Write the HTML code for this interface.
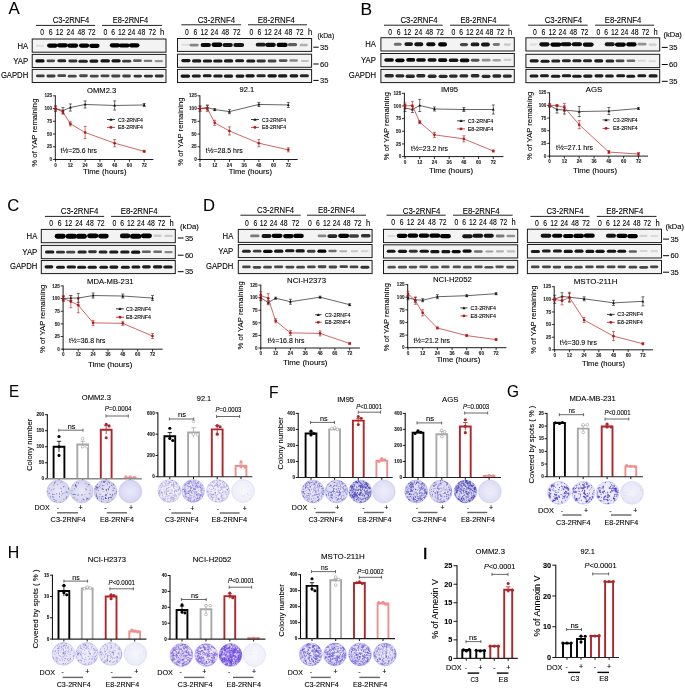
<!DOCTYPE html>
<html><head><meta charset="utf-8"><style>
html,body{margin:0;padding:0;background:#fff;}
svg{display:block;will-change:transform;}
text{font-family:"Liberation Sans", sans-serif;stroke:#000;stroke-width:0.1px;}
</style></head><body>
<svg width="685" height="688" viewBox="0 0 685 688">
<defs><radialGradient id="pg"><stop offset="0" stop-color="#fff" stop-opacity="0.5"/><stop offset="0.65" stop-color="#fff" stop-opacity="0.22"/><stop offset="1" stop-color="#fff" stop-opacity="0"/></radialGradient><filter id="bl" x="-30%" y="-80%" width="160%" height="260%"><feGaussianBlur stdDeviation="0.75"/></filter></defs>
<rect width="685" height="688" fill="#fff"/>
<text x="14.10" y="13.97" font-size="16.86" text-anchor="middle" textLength="11.20" lengthAdjust="spacingAndGlyphs">A</text>
<text x="366.20" y="15.17" font-size="17.14" text-anchor="middle" textLength="11.60" lengthAdjust="spacingAndGlyphs">B</text>
<text x="13.20" y="211.37" font-size="17.14" text-anchor="middle" textLength="12.00" lengthAdjust="spacingAndGlyphs">C</text>
<text x="209.00" y="211.37" font-size="17.14" text-anchor="middle" textLength="12.00" lengthAdjust="spacingAndGlyphs">D</text>
<text x="14.10" y="397.47" font-size="17.14" text-anchor="middle" textLength="10.20" lengthAdjust="spacingAndGlyphs">E</text>
<text x="273.75" y="397.67" font-size="17.14" text-anchor="middle" textLength="9.50" lengthAdjust="spacingAndGlyphs">F</text>
<text x="513.00" y="397.47" font-size="17.14" text-anchor="middle" textLength="12.00" lengthAdjust="spacingAndGlyphs">G</text>
<text x="13.45" y="558.26" font-size="16.43" text-anchor="middle" textLength="11.50" lengthAdjust="spacingAndGlyphs">H</text>
<rect x="424.20" y="547.70" width="2.10" height="11.50" fill="#000" stroke="none" stroke-width="1"/>
<rect x="32.20" y="39.00" width="133.80" height="13.20" fill="#f3f3f3" stroke="#1a1a1a" stroke-width="1"/>
<rect x="35.71" y="44.71" width="8.39" height="2.09" rx="1.05" fill="rgb(222,222,222)" filter="url(#bl)"/>
<rect x="47.08" y="43.48" width="10.66" height="4.18" rx="2.09" fill="rgb(4,4,4)" filter="url(#bl)"/>
<rect x="56.91" y="43.21" width="11.03" height="4.30" rx="2.15" fill="rgb(0,0,0)" filter="url(#bl)"/>
<rect x="67.26" y="43.47" width="10.93" height="4.18" rx="2.09" fill="rgb(4,4,4)" filter="url(#bl)"/>
<rect x="78.98" y="43.47" width="10.26" height="4.18" rx="2.09" fill="rgb(4,4,4)" filter="url(#bl)"/>
<rect x="89.16" y="43.77" width="10.44" height="4.18" rx="2.09" fill="rgb(4,4,4)" filter="url(#bl)"/>
<rect x="109.78" y="43.22" width="10.28" height="4.18" rx="2.09" fill="rgb(4,4,4)" filter="url(#bl)"/>
<rect x="118.73" y="43.44" width="11.01" height="4.18" rx="2.09" fill="rgb(4,4,4)" filter="url(#bl)"/>
<rect x="128.85" y="43.20" width="10.65" height="4.23" rx="2.12" fill="rgb(2,2,2)" filter="url(#bl)"/>
<rect x="32.20" y="54.40" width="133.80" height="13.10" fill="#f3f3f3" stroke="#1a1a1a" stroke-width="1"/>
<rect x="35.38" y="59.32" width="9.19" height="3.26" rx="1.63" fill="rgb(11,11,11)" filter="url(#bl)"/>
<rect x="46.51" y="59.40" width="8.54" height="2.77" rx="1.39" fill="rgb(71,71,71)" filter="url(#bl)"/>
<rect x="57.35" y="59.16" width="8.83" height="3.02" rx="1.51" fill="rgb(38,38,38)" filter="url(#bl)"/>
<rect x="68.39" y="59.57" width="8.97" height="2.93" rx="1.47" fill="rgb(49,49,49)" filter="url(#bl)"/>
<rect x="78.45" y="59.66" width="9.39" height="3.02" rx="1.51" fill="rgb(38,38,38)" filter="url(#bl)"/>
<rect x="89.42" y="59.53" width="8.95" height="3.10" rx="1.55" fill="rgb(29,29,29)" filter="url(#bl)"/>
<rect x="100.41" y="59.31" width="9.51" height="3.18" rx="1.59" fill="rgb(19,19,19)" filter="url(#bl)"/>
<rect x="111.42" y="59.24" width="9.30" height="3.18" rx="1.59" fill="rgb(19,19,19)" filter="url(#bl)"/>
<rect x="122.10" y="59.73" width="9.15" height="2.85" rx="1.43" fill="rgb(60,60,60)" filter="url(#bl)"/>
<rect x="133.07" y="59.37" width="8.67" height="2.61" rx="1.30" fill="rgb(95,95,95)" filter="url(#bl)"/>
<rect x="143.66" y="59.67" width="8.68" height="2.45" rx="1.22" fill="rgb(120,120,120)" filter="url(#bl)"/>
<rect x="154.58" y="59.93" width="8.32" height="2.29" rx="1.14" fill="rgb(147,147,147)" filter="url(#bl)"/>
<rect x="32.20" y="69.40" width="133.80" height="13.10" fill="#f3f3f3" stroke="#1a1a1a" stroke-width="1"/>
<rect x="35.97" y="74.49" width="8.74" height="2.85" rx="1.43" fill="rgb(60,60,60)" filter="url(#bl)"/>
<rect x="46.48" y="74.54" width="9.06" height="2.85" rx="1.43" fill="rgb(60,60,60)" filter="url(#bl)"/>
<rect x="57.34" y="74.28" width="8.75" height="2.77" rx="1.39" fill="rgb(71,71,71)" filter="url(#bl)"/>
<rect x="67.77" y="74.85" width="8.92" height="2.77" rx="1.39" fill="rgb(71,71,71)" filter="url(#bl)"/>
<rect x="79.14" y="74.37" width="8.67" height="2.77" rx="1.39" fill="rgb(71,71,71)" filter="url(#bl)"/>
<rect x="89.63" y="74.73" width="9.15" height="2.77" rx="1.39" fill="rgb(71,71,71)" filter="url(#bl)"/>
<rect x="100.49" y="74.39" width="9.08" height="2.80" rx="1.40" fill="rgb(66,66,66)" filter="url(#bl)"/>
<rect x="111.23" y="74.59" width="9.15" height="2.80" rx="1.40" fill="rgb(66,66,66)" filter="url(#bl)"/>
<rect x="122.24" y="74.55" width="8.66" height="2.85" rx="1.43" fill="rgb(60,60,60)" filter="url(#bl)"/>
<rect x="133.50" y="74.65" width="8.52" height="2.93" rx="1.47" fill="rgb(49,49,49)" filter="url(#bl)"/>
<rect x="143.84" y="74.63" width="9.23" height="2.93" rx="1.47" fill="rgb(49,49,49)" filter="url(#bl)"/>
<rect x="154.78" y="74.52" width="8.93" height="2.93" rx="1.47" fill="rgb(49,49,49)" filter="url(#bl)"/>
<text x="70.95" y="23.44" font-size="9.0" text-anchor="middle" textLength="36.50" lengthAdjust="spacingAndGlyphs">C3-2RNF4</text>
<text x="130.55" y="23.44" font-size="9.0" text-anchor="middle" textLength="35.50" lengthAdjust="spacingAndGlyphs">E8-2RNF4</text>
<line x1="35.90" y1="25.40" x2="95.10" y2="25.40" stroke="#222" stroke-width="1.0"/>
<line x1="102.00" y1="25.40" x2="162.10" y2="25.40" stroke="#222" stroke-width="1.0"/>
<text x="42.20" y="35.15" font-size="8.2" text-anchor="middle" textLength="3.80" lengthAdjust="spacingAndGlyphs">0</text>
<text x="50.70" y="35.15" font-size="8.2" text-anchor="middle" textLength="3.80" lengthAdjust="spacingAndGlyphs">6</text>
<text x="59.60" y="35.15" font-size="8.2" text-anchor="middle" textLength="7.60" lengthAdjust="spacingAndGlyphs">12</text>
<text x="70.40" y="35.15" font-size="8.2" text-anchor="middle" textLength="7.60" lengthAdjust="spacingAndGlyphs">24</text>
<text x="81.30" y="35.15" font-size="8.2" text-anchor="middle" textLength="7.60" lengthAdjust="spacingAndGlyphs">48</text>
<text x="91.70" y="35.15" font-size="8.2" text-anchor="middle" textLength="7.60" lengthAdjust="spacingAndGlyphs">72</text>
<text x="105.30" y="35.15" font-size="8.2" text-anchor="middle" textLength="3.80" lengthAdjust="spacingAndGlyphs">0</text>
<text x="113.20" y="35.15" font-size="8.2" text-anchor="middle" textLength="3.80" lengthAdjust="spacingAndGlyphs">6</text>
<text x="121.70" y="35.15" font-size="8.2" text-anchor="middle" textLength="7.60" lengthAdjust="spacingAndGlyphs">12</text>
<text x="131.50" y="35.15" font-size="8.2" text-anchor="middle" textLength="7.60" lengthAdjust="spacingAndGlyphs">24</text>
<text x="141.40" y="35.15" font-size="8.2" text-anchor="middle" textLength="7.60" lengthAdjust="spacingAndGlyphs">48</text>
<text x="152.20" y="35.15" font-size="8.2" text-anchor="middle" textLength="7.60" lengthAdjust="spacingAndGlyphs">72</text>
<text x="162.10" y="35.15" font-size="8.2" text-anchor="middle" textLength="4.20" lengthAdjust="spacingAndGlyphs">h</text>
<text x="22.85" y="48.55" font-size="8.2" text-anchor="middle" textLength="10.70" lengthAdjust="spacingAndGlyphs">HA</text>
<text x="20.70" y="63.50" font-size="8.2" text-anchor="middle" textLength="15.00" lengthAdjust="spacingAndGlyphs">YAP</text>
<text x="14.55" y="77.90" font-size="8.2" text-anchor="middle" textLength="27.30" lengthAdjust="spacingAndGlyphs">GAPDH</text>
<rect x="177.50" y="38.50" width="134.10" height="12.90" fill="#f3f3f3" stroke="#1a1a1a" stroke-width="1"/>
<rect x="181.63" y="43.64" width="8.47" height="2.09" rx="1.05" fill="rgb(222,222,222)" filter="url(#bl)"/>
<rect x="189.47" y="43.69" width="9.25" height="2.80" rx="1.40" fill="rgb(134,134,134)" filter="url(#bl)"/>
<rect x="200.61" y="42.98" width="10.37" height="4.07" rx="2.04" fill="rgb(11,11,11)" filter="url(#bl)"/>
<rect x="211.53" y="42.60" width="10.86" height="4.30" rx="2.15" fill="rgb(0,0,0)" filter="url(#bl)"/>
<rect x="222.51" y="43.11" width="10.29" height="3.96" rx="1.98" fill="rgb(19,19,19)" filter="url(#bl)"/>
<rect x="233.36" y="43.00" width="10.74" height="3.96" rx="1.98" fill="rgb(19,19,19)" filter="url(#bl)"/>
<rect x="255.72" y="42.75" width="10.05" height="3.84" rx="1.92" fill="rgb(29,29,29)" filter="url(#bl)"/>
<rect x="265.29" y="42.81" width="10.49" height="4.07" rx="2.04" fill="rgb(11,11,11)" filter="url(#bl)"/>
<rect x="276.59" y="42.82" width="11.11" height="4.30" rx="2.15" fill="rgb(0,0,0)" filter="url(#bl)"/>
<rect x="287.93" y="43.09" width="9.19" height="3.15" rx="1.57" fill="rgb(95,95,95)" filter="url(#bl)"/>
<rect x="299.53" y="43.73" width="8.27" height="2.46" rx="1.23" fill="rgb(175,175,175)" filter="url(#bl)"/>
<rect x="177.50" y="54.20" width="134.10" height="13.10" fill="#f3f3f3" stroke="#1a1a1a" stroke-width="1"/>
<rect x="181.25" y="58.97" width="9.30" height="3.18" rx="1.59" fill="rgb(19,19,19)" filter="url(#bl)"/>
<rect x="191.98" y="59.34" width="9.32" height="3.10" rx="1.55" fill="rgb(29,29,29)" filter="url(#bl)"/>
<rect x="202.83" y="59.38" width="9.29" height="3.10" rx="1.55" fill="rgb(29,29,29)" filter="url(#bl)"/>
<rect x="213.13" y="59.48" width="9.46" height="3.10" rx="1.55" fill="rgb(29,29,29)" filter="url(#bl)"/>
<rect x="223.90" y="59.33" width="9.28" height="3.10" rx="1.55" fill="rgb(29,29,29)" filter="url(#bl)"/>
<rect x="235.05" y="59.20" width="9.10" height="3.10" rx="1.55" fill="rgb(29,29,29)" filter="url(#bl)"/>
<rect x="246.26" y="59.40" width="9.08" height="3.10" rx="1.55" fill="rgb(29,29,29)" filter="url(#bl)"/>
<rect x="256.56" y="59.52" width="9.23" height="2.93" rx="1.47" fill="rgb(49,49,49)" filter="url(#bl)"/>
<rect x="267.68" y="59.62" width="8.81" height="2.77" rx="1.39" fill="rgb(71,71,71)" filter="url(#bl)"/>
<rect x="278.79" y="59.24" width="8.67" height="2.69" rx="1.35" fill="rgb(83,83,83)" filter="url(#bl)"/>
<rect x="289.37" y="59.37" width="8.52" height="2.37" rx="1.18" fill="rgb(134,134,134)" filter="url(#bl)"/>
<rect x="301.00" y="59.98" width="7.85" height="2.04" rx="1.02" fill="rgb(190,190,190)" filter="url(#bl)"/>
<rect x="177.50" y="69.40" width="134.10" height="13.10" fill="#f3f3f3" stroke="#1a1a1a" stroke-width="1"/>
<rect x="180.58" y="74.49" width="9.53" height="3.18" rx="1.59" fill="rgb(19,19,19)" filter="url(#bl)"/>
<rect x="191.78" y="74.49" width="9.09" height="3.10" rx="1.55" fill="rgb(29,29,29)" filter="url(#bl)"/>
<rect x="202.76" y="74.23" width="8.93" height="3.10" rx="1.55" fill="rgb(29,29,29)" filter="url(#bl)"/>
<rect x="213.28" y="74.48" width="9.43" height="3.10" rx="1.55" fill="rgb(29,29,29)" filter="url(#bl)"/>
<rect x="223.80" y="74.54" width="9.34" height="3.10" rx="1.55" fill="rgb(29,29,29)" filter="url(#bl)"/>
<rect x="235.55" y="74.55" width="8.83" height="3.10" rx="1.55" fill="rgb(29,29,29)" filter="url(#bl)"/>
<rect x="245.47" y="74.23" width="9.28" height="3.18" rx="1.59" fill="rgb(19,19,19)" filter="url(#bl)"/>
<rect x="256.42" y="74.21" width="9.30" height="3.02" rx="1.51" fill="rgb(38,38,38)" filter="url(#bl)"/>
<rect x="267.41" y="74.21" width="9.44" height="3.18" rx="1.59" fill="rgb(19,19,19)" filter="url(#bl)"/>
<rect x="278.02" y="74.36" width="9.38" height="3.10" rx="1.55" fill="rgb(29,29,29)" filter="url(#bl)"/>
<rect x="289.59" y="74.32" width="8.71" height="3.10" rx="1.55" fill="rgb(29,29,29)" filter="url(#bl)"/>
<rect x="299.77" y="74.19" width="9.14" height="3.02" rx="1.51" fill="rgb(38,38,38)" filter="url(#bl)"/>
<text x="216.40" y="23.14" font-size="9.0" text-anchor="middle" textLength="37.40" lengthAdjust="spacingAndGlyphs">C3-2RNF4</text>
<text x="276.35" y="23.14" font-size="9.0" text-anchor="middle" textLength="37.10" lengthAdjust="spacingAndGlyphs">E8-2RNF4</text>
<line x1="181.30" y1="24.80" x2="241.10" y2="24.80" stroke="#222" stroke-width="1.0"/>
<line x1="248.00" y1="24.80" x2="307.10" y2="24.80" stroke="#222" stroke-width="1.0"/>
<text x="186.90" y="34.85" font-size="8.2" text-anchor="middle" textLength="3.80" lengthAdjust="spacingAndGlyphs">0</text>
<text x="195.30" y="34.85" font-size="8.2" text-anchor="middle" textLength="3.80" lengthAdjust="spacingAndGlyphs">6</text>
<text x="204.20" y="34.85" font-size="8.2" text-anchor="middle" textLength="7.60" lengthAdjust="spacingAndGlyphs">12</text>
<text x="214.40" y="34.85" font-size="8.2" text-anchor="middle" textLength="7.60" lengthAdjust="spacingAndGlyphs">24</text>
<text x="225.30" y="34.85" font-size="8.2" text-anchor="middle" textLength="7.60" lengthAdjust="spacingAndGlyphs">48</text>
<text x="236.70" y="34.85" font-size="8.2" text-anchor="middle" textLength="7.60" lengthAdjust="spacingAndGlyphs">72</text>
<text x="251.50" y="34.85" font-size="8.2" text-anchor="middle" textLength="3.80" lengthAdjust="spacingAndGlyphs">0</text>
<text x="259.40" y="34.85" font-size="8.2" text-anchor="middle" textLength="3.80" lengthAdjust="spacingAndGlyphs">6</text>
<text x="268.00" y="34.85" font-size="8.2" text-anchor="middle" textLength="7.60" lengthAdjust="spacingAndGlyphs">12</text>
<text x="277.90" y="34.85" font-size="8.2" text-anchor="middle" textLength="7.60" lengthAdjust="spacingAndGlyphs">24</text>
<text x="288.40" y="34.85" font-size="8.2" text-anchor="middle" textLength="7.60" lengthAdjust="spacingAndGlyphs">48</text>
<text x="299.80" y="34.85" font-size="8.2" text-anchor="middle" textLength="7.60" lengthAdjust="spacingAndGlyphs">72</text>
<text x="310.00" y="34.85" font-size="8.2" text-anchor="middle" textLength="4.20" lengthAdjust="spacingAndGlyphs">h</text>
<text x="325.85" y="37.96" font-size="7.4" text-anchor="middle" textLength="16.70" lengthAdjust="spacingAndGlyphs">(kDa)</text>
<line x1="313.30" y1="47.20" x2="318.70" y2="47.20" stroke="#000" stroke-width="1.0"/>
<text x="324.20" y="49.86" font-size="7.4" text-anchor="middle" textLength="8.40" lengthAdjust="spacingAndGlyphs">35</text>
<line x1="313.30" y1="64.00" x2="318.70" y2="64.00" stroke="#000" stroke-width="1.0"/>
<text x="324.20" y="66.66" font-size="7.4" text-anchor="middle" textLength="8.40" lengthAdjust="spacingAndGlyphs">60</text>
<line x1="313.30" y1="80.40" x2="318.70" y2="80.40" stroke="#000" stroke-width="1.0"/>
<text x="324.20" y="83.06" font-size="7.4" text-anchor="middle" textLength="8.40" lengthAdjust="spacingAndGlyphs">35</text>
<rect x="380.90" y="37.70" width="133.40" height="13.30" fill="#f3f3f3" stroke="#1a1a1a" stroke-width="1"/>
<rect x="393.92" y="42.75" width="7.66" height="3.04" rx="1.52" fill="rgb(108,108,108)" filter="url(#bl)"/>
<rect x="404.41" y="42.17" width="8.60" height="3.84" rx="1.92" fill="rgb(29,29,29)" filter="url(#bl)"/>
<rect x="414.35" y="42.23" width="8.89" height="3.96" rx="1.98" fill="rgb(19,19,19)" filter="url(#bl)"/>
<rect x="426.27" y="42.30" width="9.15" height="4.07" rx="2.04" fill="rgb(11,11,11)" filter="url(#bl)"/>
<rect x="438.13" y="42.32" width="8.91" height="4.23" rx="2.12" fill="rgb(2,2,2)" filter="url(#bl)"/>
<rect x="459.91" y="42.88" width="8.11" height="3.38" rx="1.69" fill="rgb(71,71,71)" filter="url(#bl)"/>
<rect x="470.68" y="42.53" width="8.69" height="3.84" rx="1.92" fill="rgb(29,29,29)" filter="url(#bl)"/>
<rect x="481.01" y="42.43" width="8.83" height="3.96" rx="1.98" fill="rgb(19,19,19)" filter="url(#bl)"/>
<rect x="492.81" y="43.11" width="7.12" height="2.92" rx="1.46" fill="rgb(120,120,120)" filter="url(#bl)"/>
<rect x="503.79" y="43.44" width="6.98" height="2.28" rx="1.14" fill="rgb(199,199,199)" filter="url(#bl)"/>
<rect x="380.90" y="53.50" width="133.40" height="13.20" fill="#f3f3f3" stroke="#1a1a1a" stroke-width="1"/>
<rect x="384.26" y="58.23" width="9.62" height="3.62" rx="1.81" fill="rgb(11,11,11)" filter="url(#bl)"/>
<rect x="395.26" y="58.51" width="9.30" height="3.71" rx="1.85" fill="rgb(4,4,4)" filter="url(#bl)"/>
<rect x="406.25" y="58.07" width="8.96" height="3.62" rx="1.81" fill="rgb(11,11,11)" filter="url(#bl)"/>
<rect x="416.14" y="58.25" width="9.65" height="3.62" rx="1.81" fill="rgb(11,11,11)" filter="url(#bl)"/>
<rect x="427.53" y="58.34" width="9.06" height="3.53" rx="1.77" fill="rgb(19,19,19)" filter="url(#bl)"/>
<rect x="438.05" y="58.34" width="9.16" height="3.62" rx="1.81" fill="rgb(11,11,11)" filter="url(#bl)"/>
<rect x="448.78" y="58.44" width="9.54" height="3.53" rx="1.77" fill="rgb(19,19,19)" filter="url(#bl)"/>
<rect x="459.81" y="58.58" width="9.57" height="3.62" rx="1.81" fill="rgb(11,11,11)" filter="url(#bl)"/>
<rect x="470.85" y="58.82" width="8.59" height="2.99" rx="1.50" fill="rgb(83,83,83)" filter="url(#bl)"/>
<rect x="481.70" y="58.87" width="8.88" height="2.54" rx="1.27" fill="rgb(147,147,147)" filter="url(#bl)"/>
<rect x="492.57" y="59.07" width="8.27" height="2.45" rx="1.23" fill="rgb(161,161,161)" filter="url(#bl)"/>
<rect x="503.28" y="58.75" width="8.15" height="2.18" rx="1.09" fill="rgb(204,204,204)" filter="url(#bl)"/>
<rect x="380.90" y="69.40" width="133.40" height="13.20" fill="#f3f3f3" stroke="#1a1a1a" stroke-width="1"/>
<rect x="384.46" y="74.11" width="9.46" height="3.30" rx="1.65" fill="rgb(44,44,44)" filter="url(#bl)"/>
<rect x="395.41" y="74.14" width="8.99" height="3.30" rx="1.65" fill="rgb(44,44,44)" filter="url(#bl)"/>
<rect x="405.62" y="74.58" width="9.28" height="3.30" rx="1.65" fill="rgb(44,44,44)" filter="url(#bl)"/>
<rect x="416.25" y="74.08" width="9.16" height="3.30" rx="1.65" fill="rgb(44,44,44)" filter="url(#bl)"/>
<rect x="427.66" y="74.58" width="8.93" height="3.30" rx="1.65" fill="rgb(44,44,44)" filter="url(#bl)"/>
<rect x="438.57" y="74.65" width="9.07" height="3.30" rx="1.65" fill="rgb(44,44,44)" filter="url(#bl)"/>
<rect x="448.97" y="74.41" width="8.73" height="3.30" rx="1.65" fill="rgb(44,44,44)" filter="url(#bl)"/>
<rect x="459.46" y="74.30" width="8.82" height="3.30" rx="1.65" fill="rgb(44,44,44)" filter="url(#bl)"/>
<rect x="470.70" y="74.08" width="8.79" height="3.30" rx="1.65" fill="rgb(44,44,44)" filter="url(#bl)"/>
<rect x="481.61" y="74.63" width="8.92" height="3.30" rx="1.65" fill="rgb(44,44,44)" filter="url(#bl)"/>
<rect x="492.37" y="74.33" width="8.97" height="3.30" rx="1.65" fill="rgb(44,44,44)" filter="url(#bl)"/>
<rect x="502.73" y="74.41" width="9.18" height="3.30" rx="1.65" fill="rgb(44,44,44)" filter="url(#bl)"/>
<text x="419.00" y="23.14" font-size="9.0" text-anchor="middle" textLength="37.00" lengthAdjust="spacingAndGlyphs">C3-2RNF4</text>
<text x="478.50" y="23.14" font-size="9.0" text-anchor="middle" textLength="36.00" lengthAdjust="spacingAndGlyphs">E8-2RNF4</text>
<line x1="384.00" y1="25.20" x2="442.70" y2="25.20" stroke="#222" stroke-width="1.0"/>
<line x1="450.00" y1="25.20" x2="509.50" y2="25.20" stroke="#222" stroke-width="1.0"/>
<text x="390.20" y="35.05" font-size="8.2" text-anchor="middle" textLength="3.80" lengthAdjust="spacingAndGlyphs">0</text>
<text x="398.70" y="35.05" font-size="8.2" text-anchor="middle" textLength="3.80" lengthAdjust="spacingAndGlyphs">6</text>
<text x="407.60" y="35.05" font-size="8.2" text-anchor="middle" textLength="7.60" lengthAdjust="spacingAndGlyphs">12</text>
<text x="418.40" y="35.05" font-size="8.2" text-anchor="middle" textLength="7.60" lengthAdjust="spacingAndGlyphs">24</text>
<text x="429.30" y="35.05" font-size="8.2" text-anchor="middle" textLength="7.60" lengthAdjust="spacingAndGlyphs">48</text>
<text x="440.10" y="35.05" font-size="8.2" text-anchor="middle" textLength="7.60" lengthAdjust="spacingAndGlyphs">72</text>
<text x="453.30" y="35.05" font-size="8.2" text-anchor="middle" textLength="3.80" lengthAdjust="spacingAndGlyphs">0</text>
<text x="461.20" y="35.05" font-size="8.2" text-anchor="middle" textLength="3.80" lengthAdjust="spacingAndGlyphs">6</text>
<text x="469.70" y="35.05" font-size="8.2" text-anchor="middle" textLength="7.60" lengthAdjust="spacingAndGlyphs">12</text>
<text x="479.50" y="35.05" font-size="8.2" text-anchor="middle" textLength="7.60" lengthAdjust="spacingAndGlyphs">24</text>
<text x="489.40" y="35.05" font-size="8.2" text-anchor="middle" textLength="7.60" lengthAdjust="spacingAndGlyphs">48</text>
<text x="500.20" y="35.05" font-size="8.2" text-anchor="middle" textLength="7.60" lengthAdjust="spacingAndGlyphs">72</text>
<text x="510.10" y="35.05" font-size="8.2" text-anchor="middle" textLength="4.20" lengthAdjust="spacingAndGlyphs">h</text>
<text x="370.65" y="47.30" font-size="8.2" text-anchor="middle" textLength="10.70" lengthAdjust="spacingAndGlyphs">HA</text>
<text x="368.50" y="62.65" font-size="8.2" text-anchor="middle" textLength="15.00" lengthAdjust="spacingAndGlyphs">YAP</text>
<text x="362.35" y="77.95" font-size="8.2" text-anchor="middle" textLength="27.30" lengthAdjust="spacingAndGlyphs">GAPDH</text>
<rect x="525.90" y="37.80" width="133.80" height="13.20" fill="#f3f3f3" stroke="#1a1a1a" stroke-width="1"/>
<rect x="529.79" y="43.29" width="7.79" height="2.09" rx="1.05" fill="rgb(222,222,222)" filter="url(#bl)"/>
<rect x="539.34" y="42.31" width="10.17" height="4.07" rx="2.04" fill="rgb(11,11,11)" filter="url(#bl)"/>
<rect x="550.36" y="42.44" width="10.96" height="4.23" rx="2.12" fill="rgb(2,2,2)" filter="url(#bl)"/>
<rect x="560.76" y="42.20" width="10.63" height="4.14" rx="2.07" fill="rgb(7,7,7)" filter="url(#bl)"/>
<rect x="571.71" y="42.17" width="10.26" height="4.12" rx="2.06" fill="rgb(8,8,8)" filter="url(#bl)"/>
<rect x="582.82" y="42.53" width="10.84" height="4.12" rx="2.06" fill="rgb(8,8,8)" filter="url(#bl)"/>
<rect x="604.74" y="42.37" width="9.99" height="3.84" rx="1.92" fill="rgb(29,29,29)" filter="url(#bl)"/>
<rect x="614.95" y="42.50" width="10.90" height="4.23" rx="2.12" fill="rgb(2,2,2)" filter="url(#bl)"/>
<rect x="626.24" y="42.37" width="10.33" height="4.18" rx="2.09" fill="rgb(4,4,4)" filter="url(#bl)"/>
<rect x="637.61" y="42.86" width="8.84" height="2.69" rx="1.34" fill="rgb(147,147,147)" filter="url(#bl)"/>
<rect x="648.70" y="43.55" width="7.95" height="2.23" rx="1.11" fill="rgb(204,204,204)" filter="url(#bl)"/>
<rect x="525.90" y="54.30" width="133.80" height="13.30" fill="#f3f3f3" stroke="#1a1a1a" stroke-width="1"/>
<rect x="529.63" y="59.28" width="9.12" height="3.10" rx="1.55" fill="rgb(29,29,29)" filter="url(#bl)"/>
<rect x="540.46" y="59.63" width="9.14" height="3.10" rx="1.55" fill="rgb(29,29,29)" filter="url(#bl)"/>
<rect x="551.28" y="59.39" width="9.01" height="3.02" rx="1.51" fill="rgb(38,38,38)" filter="url(#bl)"/>
<rect x="561.91" y="59.24" width="8.94" height="3.02" rx="1.51" fill="rgb(38,38,38)" filter="url(#bl)"/>
<rect x="572.32" y="59.17" width="9.25" height="3.02" rx="1.51" fill="rgb(38,38,38)" filter="url(#bl)"/>
<rect x="582.99" y="59.31" width="9.10" height="3.02" rx="1.51" fill="rgb(38,38,38)" filter="url(#bl)"/>
<rect x="594.20" y="59.31" width="9.06" height="3.10" rx="1.55" fill="rgb(29,29,29)" filter="url(#bl)"/>
<rect x="605.52" y="59.39" width="8.76" height="3.02" rx="1.51" fill="rgb(38,38,38)" filter="url(#bl)"/>
<rect x="615.63" y="59.43" width="8.87" height="2.77" rx="1.39" fill="rgb(71,71,71)" filter="url(#bl)"/>
<rect x="626.63" y="59.58" width="8.72" height="2.53" rx="1.26" fill="rgb(108,108,108)" filter="url(#bl)"/>
<rect x="637.84" y="59.76" width="8.22" height="1.90" rx="0.95" fill="rgb(216,216,216)" filter="url(#bl)"/>
<rect x="648.51" y="60.16" width="7.68" height="1.90" rx="0.95" fill="rgb(216,216,216)" filter="url(#bl)"/>
<rect x="525.90" y="69.40" width="133.80" height="13.30" fill="#f3f3f3" stroke="#1a1a1a" stroke-width="1"/>
<rect x="529.56" y="74.40" width="8.87" height="3.10" rx="1.55" fill="rgb(29,29,29)" filter="url(#bl)"/>
<rect x="539.92" y="74.23" width="9.05" height="3.10" rx="1.55" fill="rgb(29,29,29)" filter="url(#bl)"/>
<rect x="550.96" y="74.77" width="9.40" height="3.10" rx="1.55" fill="rgb(29,29,29)" filter="url(#bl)"/>
<rect x="561.76" y="74.21" width="9.45" height="3.10" rx="1.55" fill="rgb(29,29,29)" filter="url(#bl)"/>
<rect x="572.20" y="74.67" width="9.45" height="3.10" rx="1.55" fill="rgb(29,29,29)" filter="url(#bl)"/>
<rect x="583.11" y="74.57" width="9.43" height="3.10" rx="1.55" fill="rgb(29,29,29)" filter="url(#bl)"/>
<rect x="594.50" y="74.32" width="8.91" height="3.10" rx="1.55" fill="rgb(29,29,29)" filter="url(#bl)"/>
<rect x="605.06" y="74.43" width="8.79" height="3.10" rx="1.55" fill="rgb(29,29,29)" filter="url(#bl)"/>
<rect x="616.20" y="74.21" width="8.95" height="3.10" rx="1.55" fill="rgb(29,29,29)" filter="url(#bl)"/>
<rect x="626.33" y="74.67" width="8.82" height="3.10" rx="1.55" fill="rgb(29,29,29)" filter="url(#bl)"/>
<rect x="637.33" y="74.26" width="8.91" height="3.10" rx="1.55" fill="rgb(29,29,29)" filter="url(#bl)"/>
<rect x="648.58" y="74.33" width="9.02" height="3.10" rx="1.55" fill="rgb(29,29,29)" filter="url(#bl)"/>
<text x="563.45" y="23.14" font-size="9.0" text-anchor="middle" textLength="37.50" lengthAdjust="spacingAndGlyphs">C3-2RNF4</text>
<text x="623.05" y="23.14" font-size="9.0" text-anchor="middle" textLength="36.50" lengthAdjust="spacingAndGlyphs">E8-2RNF4</text>
<line x1="528.00" y1="25.20" x2="587.70" y2="25.20" stroke="#222" stroke-width="1.0"/>
<line x1="595.00" y1="25.20" x2="654.10" y2="25.20" stroke="#222" stroke-width="1.0"/>
<text x="534.90" y="34.85" font-size="8.2" text-anchor="middle" textLength="3.80" lengthAdjust="spacingAndGlyphs">0</text>
<text x="543.30" y="34.85" font-size="8.2" text-anchor="middle" textLength="3.80" lengthAdjust="spacingAndGlyphs">6</text>
<text x="552.20" y="34.85" font-size="8.2" text-anchor="middle" textLength="7.60" lengthAdjust="spacingAndGlyphs">12</text>
<text x="562.40" y="34.85" font-size="8.2" text-anchor="middle" textLength="7.60" lengthAdjust="spacingAndGlyphs">24</text>
<text x="573.30" y="34.85" font-size="8.2" text-anchor="middle" textLength="7.60" lengthAdjust="spacingAndGlyphs">48</text>
<text x="584.50" y="34.85" font-size="8.2" text-anchor="middle" textLength="7.60" lengthAdjust="spacingAndGlyphs">72</text>
<text x="598.30" y="34.85" font-size="8.2" text-anchor="middle" textLength="3.80" lengthAdjust="spacingAndGlyphs">0</text>
<text x="606.20" y="34.85" font-size="8.2" text-anchor="middle" textLength="3.80" lengthAdjust="spacingAndGlyphs">6</text>
<text x="614.70" y="34.85" font-size="8.2" text-anchor="middle" textLength="7.60" lengthAdjust="spacingAndGlyphs">12</text>
<text x="624.50" y="34.85" font-size="8.2" text-anchor="middle" textLength="7.60" lengthAdjust="spacingAndGlyphs">24</text>
<text x="634.80" y="34.85" font-size="8.2" text-anchor="middle" textLength="7.60" lengthAdjust="spacingAndGlyphs">48</text>
<text x="645.60" y="34.85" font-size="8.2" text-anchor="middle" textLength="7.60" lengthAdjust="spacingAndGlyphs">72</text>
<text x="655.50" y="34.85" font-size="8.2" text-anchor="middle" textLength="4.20" lengthAdjust="spacingAndGlyphs">h</text>
<text x="672.65" y="36.96" font-size="7.4" text-anchor="middle" textLength="18.50" lengthAdjust="spacingAndGlyphs">(kDa)</text>
<line x1="661.80" y1="47.40" x2="667.70" y2="47.40" stroke="#000" stroke-width="1.0"/>
<text x="673.20" y="50.06" font-size="7.4" text-anchor="middle" textLength="8.40" lengthAdjust="spacingAndGlyphs">35</text>
<line x1="661.80" y1="64.50" x2="667.70" y2="64.50" stroke="#000" stroke-width="1.0"/>
<text x="673.20" y="67.16" font-size="7.4" text-anchor="middle" textLength="8.40" lengthAdjust="spacingAndGlyphs">60</text>
<line x1="661.80" y1="81.30" x2="667.70" y2="81.30" stroke="#000" stroke-width="1.0"/>
<text x="673.20" y="83.96" font-size="7.4" text-anchor="middle" textLength="8.40" lengthAdjust="spacingAndGlyphs">35</text>
<rect x="41.30" y="229.40" width="134.00" height="13.30" fill="#f3f3f3" stroke="#1a1a1a" stroke-width="1"/>
<rect x="54.68" y="233.80" width="11.07" height="4.85" rx="2.42" fill="rgb(4,4,4)" filter="url(#bl)"/>
<rect x="65.69" y="233.80" width="11.19" height="5.00" rx="2.50" fill="rgb(0,0,0)" filter="url(#bl)"/>
<rect x="75.89" y="233.82" width="10.97" height="5.00" rx="2.50" fill="rgb(0,0,0)" filter="url(#bl)"/>
<rect x="87.09" y="233.39" width="11.20" height="4.85" rx="2.42" fill="rgb(4,4,4)" filter="url(#bl)"/>
<rect x="98.03" y="233.65" width="10.67" height="4.85" rx="2.42" fill="rgb(4,4,4)" filter="url(#bl)"/>
<rect x="119.91" y="233.53" width="10.36" height="4.70" rx="2.35" fill="rgb(11,11,11)" filter="url(#bl)"/>
<rect x="130.00" y="233.71" width="11.33" height="5.00" rx="2.50" fill="rgb(0,0,0)" filter="url(#bl)"/>
<rect x="140.83" y="233.41" width="11.11" height="4.85" rx="2.42" fill="rgb(4,4,4)" filter="url(#bl)"/>
<rect x="153.35" y="234.60" width="8.45" height="2.30" rx="1.15" fill="rgb(204,204,204)" filter="url(#bl)"/>
<rect x="164.34" y="234.73" width="8.52" height="2.30" rx="1.15" fill="rgb(204,204,204)" filter="url(#bl)"/>
<rect x="41.30" y="245.40" width="134.00" height="13.30" fill="#f3f3f3" stroke="#1a1a1a" stroke-width="1"/>
<rect x="45.00" y="250.38" width="9.38" height="3.10" rx="1.55" fill="rgb(29,29,29)" filter="url(#bl)"/>
<rect x="56.01" y="250.69" width="8.95" height="2.93" rx="1.47" fill="rgb(49,49,49)" filter="url(#bl)"/>
<rect x="66.14" y="250.78" width="9.11" height="2.77" rx="1.39" fill="rgb(71,71,71)" filter="url(#bl)"/>
<rect x="77.47" y="250.42" width="9.31" height="3.02" rx="1.51" fill="rgb(38,38,38)" filter="url(#bl)"/>
<rect x="88.14" y="250.37" width="8.65" height="2.93" rx="1.47" fill="rgb(49,49,49)" filter="url(#bl)"/>
<rect x="98.62" y="250.60" width="8.84" height="3.02" rx="1.51" fill="rgb(38,38,38)" filter="url(#bl)"/>
<rect x="109.20" y="250.40" width="9.22" height="3.10" rx="1.55" fill="rgb(29,29,29)" filter="url(#bl)"/>
<rect x="120.21" y="250.49" width="9.33" height="3.10" rx="1.55" fill="rgb(29,29,29)" filter="url(#bl)"/>
<rect x="131.13" y="250.58" width="9.14" height="3.18" rx="1.59" fill="rgb(19,19,19)" filter="url(#bl)"/>
<rect x="141.82" y="250.46" width="8.98" height="2.61" rx="1.30" fill="rgb(95,95,95)" filter="url(#bl)"/>
<rect x="153.28" y="250.50" width="8.80" height="2.53" rx="1.26" fill="rgb(108,108,108)" filter="url(#bl)"/>
<rect x="164.40" y="250.91" width="8.25" height="2.37" rx="1.18" fill="rgb(134,134,134)" filter="url(#bl)"/>
<rect x="41.30" y="260.50" width="134.00" height="13.10" fill="#f3f3f3" stroke="#1a1a1a" stroke-width="1"/>
<rect x="44.55" y="265.31" width="8.72" height="3.10" rx="1.55" fill="rgb(29,29,29)" filter="url(#bl)"/>
<rect x="56.06" y="265.66" width="8.84" height="3.10" rx="1.55" fill="rgb(29,29,29)" filter="url(#bl)"/>
<rect x="66.56" y="265.41" width="9.43" height="3.10" rx="1.55" fill="rgb(29,29,29)" filter="url(#bl)"/>
<rect x="77.09" y="265.67" width="9.10" height="3.10" rx="1.55" fill="rgb(29,29,29)" filter="url(#bl)"/>
<rect x="87.62" y="265.68" width="9.28" height="3.10" rx="1.55" fill="rgb(29,29,29)" filter="url(#bl)"/>
<rect x="99.32" y="265.77" width="8.71" height="3.10" rx="1.55" fill="rgb(29,29,29)" filter="url(#bl)"/>
<rect x="109.41" y="265.57" width="8.95" height="3.10" rx="1.55" fill="rgb(29,29,29)" filter="url(#bl)"/>
<rect x="120.89" y="265.76" width="8.95" height="3.10" rx="1.55" fill="rgb(29,29,29)" filter="url(#bl)"/>
<rect x="131.42" y="265.39" width="8.93" height="3.10" rx="1.55" fill="rgb(29,29,29)" filter="url(#bl)"/>
<rect x="142.03" y="265.29" width="8.74" height="3.10" rx="1.55" fill="rgb(29,29,29)" filter="url(#bl)"/>
<rect x="152.89" y="265.30" width="9.48" height="3.10" rx="1.55" fill="rgb(29,29,29)" filter="url(#bl)"/>
<rect x="163.20" y="265.52" width="9.47" height="3.10" rx="1.55" fill="rgb(29,29,29)" filter="url(#bl)"/>
<text x="79.60" y="214.14" font-size="9.0" text-anchor="middle" textLength="37.80" lengthAdjust="spacingAndGlyphs">C3-2RNF4</text>
<text x="139.25" y="214.14" font-size="9.0" text-anchor="middle" textLength="36.90" lengthAdjust="spacingAndGlyphs">E8-2RNF4</text>
<line x1="44.90" y1="216.40" x2="104.10" y2="216.40" stroke="#222" stroke-width="1.0"/>
<line x1="111.00" y1="216.40" x2="170.70" y2="216.40" stroke="#222" stroke-width="1.0"/>
<text x="51.20" y="225.85" font-size="8.2" text-anchor="middle" textLength="3.80" lengthAdjust="spacingAndGlyphs">0</text>
<text x="59.70" y="225.85" font-size="8.2" text-anchor="middle" textLength="3.80" lengthAdjust="spacingAndGlyphs">6</text>
<text x="68.60" y="225.85" font-size="8.2" text-anchor="middle" textLength="7.60" lengthAdjust="spacingAndGlyphs">12</text>
<text x="79.00" y="225.85" font-size="8.2" text-anchor="middle" textLength="7.60" lengthAdjust="spacingAndGlyphs">24</text>
<text x="89.90" y="225.85" font-size="8.2" text-anchor="middle" textLength="7.60" lengthAdjust="spacingAndGlyphs">48</text>
<text x="100.70" y="225.85" font-size="8.2" text-anchor="middle" textLength="7.60" lengthAdjust="spacingAndGlyphs">72</text>
<text x="114.30" y="225.85" font-size="8.2" text-anchor="middle" textLength="3.80" lengthAdjust="spacingAndGlyphs">0</text>
<text x="122.20" y="225.85" font-size="8.2" text-anchor="middle" textLength="3.80" lengthAdjust="spacingAndGlyphs">6</text>
<text x="130.70" y="225.85" font-size="8.2" text-anchor="middle" textLength="7.60" lengthAdjust="spacingAndGlyphs">12</text>
<text x="140.90" y="225.85" font-size="8.2" text-anchor="middle" textLength="7.60" lengthAdjust="spacingAndGlyphs">24</text>
<text x="151.00" y="225.85" font-size="8.2" text-anchor="middle" textLength="7.60" lengthAdjust="spacingAndGlyphs">48</text>
<text x="161.60" y="225.85" font-size="8.2" text-anchor="middle" textLength="7.60" lengthAdjust="spacingAndGlyphs">72</text>
<text x="171.50" y="225.85" font-size="8.2" text-anchor="middle" textLength="4.20" lengthAdjust="spacingAndGlyphs">h</text>
<text x="31.95" y="239.00" font-size="8.2" text-anchor="middle" textLength="10.70" lengthAdjust="spacingAndGlyphs">HA</text>
<text x="29.80" y="254.60" font-size="8.2" text-anchor="middle" textLength="15.00" lengthAdjust="spacingAndGlyphs">YAP</text>
<text x="23.65" y="269.00" font-size="8.2" text-anchor="middle" textLength="27.30" lengthAdjust="spacingAndGlyphs">GAPDH</text>
<text x="189.40" y="229.46" font-size="7.4" text-anchor="middle" textLength="18.80" lengthAdjust="spacingAndGlyphs">(kDa)</text>
<line x1="177.80" y1="238.00" x2="183.60" y2="238.00" stroke="#000" stroke-width="1.0"/>
<text x="189.10" y="240.66" font-size="7.4" text-anchor="middle" textLength="8.40" lengthAdjust="spacingAndGlyphs">35</text>
<line x1="177.80" y1="255.20" x2="183.60" y2="255.20" stroke="#000" stroke-width="1.0"/>
<text x="189.10" y="257.86" font-size="7.4" text-anchor="middle" textLength="8.40" lengthAdjust="spacingAndGlyphs">60</text>
<line x1="177.80" y1="271.70" x2="183.60" y2="271.70" stroke="#000" stroke-width="1.0"/>
<text x="189.10" y="274.36" font-size="7.4" text-anchor="middle" textLength="8.40" lengthAdjust="spacingAndGlyphs">35</text>
<rect x="238.30" y="229.40" width="133.80" height="13.00" fill="#f3f3f3" stroke="#1a1a1a" stroke-width="1"/>
<rect x="250.15" y="234.43" width="9.38" height="2.92" rx="1.46" fill="rgb(120,120,120)" filter="url(#bl)"/>
<rect x="261.52" y="234.02" width="9.98" height="3.96" rx="1.98" fill="rgb(19,19,19)" filter="url(#bl)"/>
<rect x="271.61" y="233.71" width="10.92" height="4.23" rx="2.12" fill="rgb(2,2,2)" filter="url(#bl)"/>
<rect x="283.08" y="233.99" width="10.48" height="4.18" rx="2.09" fill="rgb(4,4,4)" filter="url(#bl)"/>
<rect x="293.19" y="233.83" width="10.59" height="4.18" rx="2.09" fill="rgb(4,4,4)" filter="url(#bl)"/>
<rect x="317.68" y="234.53" width="8.73" height="2.80" rx="1.40" fill="rgb(134,134,134)" filter="url(#bl)"/>
<rect x="327.39" y="234.22" width="9.91" height="3.72" rx="1.86" fill="rgb(38,38,38)" filter="url(#bl)"/>
<rect x="338.18" y="233.71" width="10.94" height="4.18" rx="2.09" fill="rgb(4,4,4)" filter="url(#bl)"/>
<rect x="348.94" y="234.34" width="10.06" height="3.50" rx="1.75" fill="rgb(60,60,60)" filter="url(#bl)"/>
<rect x="360.94" y="233.91" width="9.64" height="3.61" rx="1.80" fill="rgb(49,49,49)" filter="url(#bl)"/>
<rect x="238.30" y="244.50" width="133.80" height="13.10" fill="#f3f3f3" stroke="#1a1a1a" stroke-width="1"/>
<rect x="241.99" y="249.81" width="8.83" height="3.02" rx="1.51" fill="rgb(38,38,38)" filter="url(#bl)"/>
<rect x="252.87" y="249.72" width="8.60" height="2.85" rx="1.43" fill="rgb(60,60,60)" filter="url(#bl)"/>
<rect x="263.00" y="249.67" width="9.59" height="3.26" rx="1.63" fill="rgb(11,11,11)" filter="url(#bl)"/>
<rect x="274.07" y="249.58" width="9.28" height="3.18" rx="1.59" fill="rgb(19,19,19)" filter="url(#bl)"/>
<rect x="285.01" y="249.22" width="9.46" height="3.10" rx="1.55" fill="rgb(29,29,29)" filter="url(#bl)"/>
<rect x="295.57" y="249.34" width="9.24" height="3.18" rx="1.59" fill="rgb(19,19,19)" filter="url(#bl)"/>
<rect x="306.92" y="249.85" width="8.51" height="2.85" rx="1.43" fill="rgb(60,60,60)" filter="url(#bl)"/>
<rect x="317.41" y="249.48" width="9.01" height="3.34" rx="1.67" fill="rgb(4,4,4)" filter="url(#bl)"/>
<rect x="328.41" y="249.78" width="8.28" height="2.53" rx="1.26" fill="rgb(108,108,108)" filter="url(#bl)"/>
<rect x="339.27" y="250.21" width="7.89" height="2.12" rx="1.06" fill="rgb(175,175,175)" filter="url(#bl)"/>
<rect x="350.66" y="250.22" width="7.60" height="1.99" rx="1.00" fill="rgb(199,199,199)" filter="url(#bl)"/>
<rect x="360.82" y="250.33" width="7.79" height="1.93" rx="0.96" fill="rgb(210,210,210)" filter="url(#bl)"/>
<rect x="238.30" y="260.40" width="133.80" height="13.20" fill="#f3f3f3" stroke="#1a1a1a" stroke-width="1"/>
<rect x="242.09" y="265.54" width="8.60" height="2.77" rx="1.39" fill="rgb(71,71,71)" filter="url(#bl)"/>
<rect x="252.78" y="265.91" width="8.46" height="2.77" rx="1.39" fill="rgb(71,71,71)" filter="url(#bl)"/>
<rect x="263.19" y="265.76" width="8.70" height="2.77" rx="1.39" fill="rgb(71,71,71)" filter="url(#bl)"/>
<rect x="274.05" y="265.46" width="9.14" height="2.77" rx="1.39" fill="rgb(71,71,71)" filter="url(#bl)"/>
<rect x="285.35" y="265.72" width="9.07" height="2.77" rx="1.39" fill="rgb(71,71,71)" filter="url(#bl)"/>
<rect x="296.25" y="265.81" width="8.72" height="2.77" rx="1.39" fill="rgb(71,71,71)" filter="url(#bl)"/>
<rect x="306.95" y="265.60" width="8.77" height="2.77" rx="1.39" fill="rgb(71,71,71)" filter="url(#bl)"/>
<rect x="317.72" y="265.37" width="8.69" height="2.77" rx="1.39" fill="rgb(71,71,71)" filter="url(#bl)"/>
<rect x="328.61" y="265.61" width="8.57" height="2.77" rx="1.39" fill="rgb(71,71,71)" filter="url(#bl)"/>
<rect x="339.48" y="265.33" width="8.50" height="2.77" rx="1.39" fill="rgb(71,71,71)" filter="url(#bl)"/>
<rect x="349.58" y="265.53" width="8.83" height="2.77" rx="1.39" fill="rgb(71,71,71)" filter="url(#bl)"/>
<rect x="360.46" y="265.79" width="8.88" height="2.93" rx="1.47" fill="rgb(49,49,49)" filter="url(#bl)"/>
<text x="275.65" y="213.14" font-size="9.0" text-anchor="middle" textLength="37.10" lengthAdjust="spacingAndGlyphs">C3-2RNF4</text>
<text x="336.40" y="213.14" font-size="9.0" text-anchor="middle" textLength="36.60" lengthAdjust="spacingAndGlyphs">E8-2RNF4</text>
<line x1="240.40" y1="215.20" x2="300.70" y2="215.20" stroke="#222" stroke-width="1.0"/>
<line x1="307.00" y1="215.20" x2="366.00" y2="215.20" stroke="#222" stroke-width="1.0"/>
<text x="246.90" y="225.65" font-size="8.2" text-anchor="middle" textLength="3.80" lengthAdjust="spacingAndGlyphs">0</text>
<text x="255.30" y="225.65" font-size="8.2" text-anchor="middle" textLength="3.80" lengthAdjust="spacingAndGlyphs">6</text>
<text x="263.60" y="225.65" font-size="8.2" text-anchor="middle" textLength="7.60" lengthAdjust="spacingAndGlyphs">12</text>
<text x="273.50" y="225.65" font-size="8.2" text-anchor="middle" textLength="7.60" lengthAdjust="spacingAndGlyphs">24</text>
<text x="283.70" y="225.65" font-size="8.2" text-anchor="middle" textLength="7.60" lengthAdjust="spacingAndGlyphs">48</text>
<text x="295.50" y="225.65" font-size="8.2" text-anchor="middle" textLength="7.60" lengthAdjust="spacingAndGlyphs">72</text>
<text x="310.00" y="225.65" font-size="8.2" text-anchor="middle" textLength="3.80" lengthAdjust="spacingAndGlyphs">0</text>
<text x="317.80" y="225.65" font-size="8.2" text-anchor="middle" textLength="3.80" lengthAdjust="spacingAndGlyphs">6</text>
<text x="326.70" y="225.65" font-size="8.2" text-anchor="middle" textLength="7.60" lengthAdjust="spacingAndGlyphs">12</text>
<text x="336.50" y="225.65" font-size="8.2" text-anchor="middle" textLength="7.60" lengthAdjust="spacingAndGlyphs">24</text>
<text x="346.80" y="225.65" font-size="8.2" text-anchor="middle" textLength="7.60" lengthAdjust="spacingAndGlyphs">48</text>
<text x="357.80" y="225.65" font-size="8.2" text-anchor="middle" textLength="7.60" lengthAdjust="spacingAndGlyphs">72</text>
<text x="368.10" y="225.65" font-size="8.2" text-anchor="middle" textLength="4.20" lengthAdjust="spacingAndGlyphs">h</text>
<text x="227.95" y="238.85" font-size="8.2" text-anchor="middle" textLength="10.70" lengthAdjust="spacingAndGlyphs">HA</text>
<text x="225.80" y="253.60" font-size="8.2" text-anchor="middle" textLength="15.00" lengthAdjust="spacingAndGlyphs">YAP</text>
<text x="219.65" y="268.95" font-size="8.2" text-anchor="middle" textLength="27.30" lengthAdjust="spacingAndGlyphs">GAPDH</text>
<rect x="383.50" y="229.30" width="134.20" height="13.30" fill="#f3f3f3" stroke="#1a1a1a" stroke-width="1"/>
<rect x="387.43" y="234.98" width="7.86" height="2.12" rx="1.06" fill="rgb(219,219,219)" filter="url(#bl)"/>
<rect x="396.65" y="233.78" width="10.69" height="4.18" rx="2.09" fill="rgb(4,4,4)" filter="url(#bl)"/>
<rect x="407.46" y="233.56" width="10.72" height="4.23" rx="2.12" fill="rgb(2,2,2)" filter="url(#bl)"/>
<rect x="418.77" y="233.59" width="10.37" height="4.23" rx="2.12" fill="rgb(2,2,2)" filter="url(#bl)"/>
<rect x="429.30" y="233.61" width="10.98" height="4.23" rx="2.12" fill="rgb(2,2,2)" filter="url(#bl)"/>
<rect x="440.05" y="234.10" width="10.82" height="4.23" rx="2.12" fill="rgb(2,2,2)" filter="url(#bl)"/>
<rect x="462.27" y="234.26" width="10.30" height="3.96" rx="1.98" fill="rgb(19,19,19)" filter="url(#bl)"/>
<rect x="472.49" y="233.85" width="10.67" height="3.96" rx="1.98" fill="rgb(19,19,19)" filter="url(#bl)"/>
<rect x="483.71" y="233.86" width="10.07" height="3.96" rx="1.98" fill="rgb(19,19,19)" filter="url(#bl)"/>
<rect x="495.68" y="234.54" width="8.86" height="2.92" rx="1.46" fill="rgb(120,120,120)" filter="url(#bl)"/>
<rect x="506.44" y="234.63" width="8.74" height="2.69" rx="1.34" fill="rgb(147,147,147)" filter="url(#bl)"/>
<rect x="383.50" y="244.80" width="134.20" height="13.20" fill="#f3f3f3" stroke="#1a1a1a" stroke-width="1"/>
<rect x="386.75" y="249.64" width="8.81" height="3.18" rx="1.59" fill="rgb(19,19,19)" filter="url(#bl)"/>
<rect x="397.93" y="249.70" width="9.10" height="3.18" rx="1.59" fill="rgb(19,19,19)" filter="url(#bl)"/>
<rect x="408.80" y="249.81" width="8.88" height="2.93" rx="1.47" fill="rgb(49,49,49)" filter="url(#bl)"/>
<rect x="419.58" y="249.66" width="9.32" height="3.18" rx="1.59" fill="rgb(19,19,19)" filter="url(#bl)"/>
<rect x="430.31" y="250.04" width="9.18" height="3.18" rx="1.59" fill="rgb(19,19,19)" filter="url(#bl)"/>
<rect x="441.37" y="250.10" width="8.99" height="3.18" rx="1.59" fill="rgb(19,19,19)" filter="url(#bl)"/>
<rect x="451.63" y="249.93" width="9.17" height="3.26" rx="1.63" fill="rgb(11,11,11)" filter="url(#bl)"/>
<rect x="462.46" y="249.49" width="9.23" height="3.26" rx="1.63" fill="rgb(11,11,11)" filter="url(#bl)"/>
<rect x="473.96" y="250.18" width="8.73" height="2.53" rx="1.26" fill="rgb(108,108,108)" filter="url(#bl)"/>
<rect x="485.30" y="250.41" width="8.05" height="2.21" rx="1.10" fill="rgb(161,161,161)" filter="url(#bl)"/>
<rect x="495.85" y="250.31" width="8.18" height="2.12" rx="1.06" fill="rgb(175,175,175)" filter="url(#bl)"/>
<rect x="506.77" y="250.36" width="8.40" height="2.04" rx="1.02" fill="rgb(190,190,190)" filter="url(#bl)"/>
<rect x="383.50" y="260.40" width="134.20" height="13.20" fill="#f3f3f3" stroke="#1a1a1a" stroke-width="1"/>
<rect x="387.47" y="265.78" width="8.33" height="2.69" rx="1.35" fill="rgb(83,83,83)" filter="url(#bl)"/>
<rect x="397.92" y="265.85" width="9.07" height="2.69" rx="1.35" fill="rgb(83,83,83)" filter="url(#bl)"/>
<rect x="408.71" y="265.76" width="8.59" height="2.69" rx="1.35" fill="rgb(83,83,83)" filter="url(#bl)"/>
<rect x="419.30" y="265.46" width="8.65" height="2.69" rx="1.35" fill="rgb(83,83,83)" filter="url(#bl)"/>
<rect x="430.38" y="265.82" width="8.33" height="2.69" rx="1.35" fill="rgb(83,83,83)" filter="url(#bl)"/>
<rect x="441.15" y="265.59" width="8.48" height="2.69" rx="1.35" fill="rgb(83,83,83)" filter="url(#bl)"/>
<rect x="452.64" y="265.62" width="8.34" height="2.69" rx="1.35" fill="rgb(83,83,83)" filter="url(#bl)"/>
<rect x="462.90" y="265.85" width="8.99" height="2.69" rx="1.35" fill="rgb(83,83,83)" filter="url(#bl)"/>
<rect x="474.23" y="265.60" width="8.50" height="2.69" rx="1.35" fill="rgb(83,83,83)" filter="url(#bl)"/>
<rect x="484.42" y="265.93" width="8.99" height="2.69" rx="1.35" fill="rgb(83,83,83)" filter="url(#bl)"/>
<rect x="495.37" y="265.49" width="8.42" height="2.69" rx="1.35" fill="rgb(83,83,83)" filter="url(#bl)"/>
<rect x="506.15" y="265.71" width="8.67" height="2.69" rx="1.35" fill="rgb(83,83,83)" filter="url(#bl)"/>
<text x="421.60" y="213.54" font-size="9.0" text-anchor="middle" textLength="37.80" lengthAdjust="spacingAndGlyphs">C3-2RNF4</text>
<text x="481.25" y="213.54" font-size="9.0" text-anchor="middle" textLength="36.90" lengthAdjust="spacingAndGlyphs">E8-2RNF4</text>
<line x1="386.50" y1="215.20" x2="445.70" y2="215.20" stroke="#222" stroke-width="1.0"/>
<line x1="453.00" y1="215.20" x2="512.70" y2="215.20" stroke="#222" stroke-width="1.0"/>
<text x="393.20" y="225.45" font-size="8.2" text-anchor="middle" textLength="3.80" lengthAdjust="spacingAndGlyphs">0</text>
<text x="401.70" y="225.45" font-size="8.2" text-anchor="middle" textLength="3.80" lengthAdjust="spacingAndGlyphs">6</text>
<text x="410.60" y="225.45" font-size="8.2" text-anchor="middle" textLength="7.60" lengthAdjust="spacingAndGlyphs">12</text>
<text x="421.00" y="225.45" font-size="8.2" text-anchor="middle" textLength="7.60" lengthAdjust="spacingAndGlyphs">24</text>
<text x="431.90" y="225.45" font-size="8.2" text-anchor="middle" textLength="7.60" lengthAdjust="spacingAndGlyphs">48</text>
<text x="442.70" y="225.45" font-size="8.2" text-anchor="middle" textLength="7.60" lengthAdjust="spacingAndGlyphs">72</text>
<text x="456.30" y="225.45" font-size="8.2" text-anchor="middle" textLength="3.80" lengthAdjust="spacingAndGlyphs">0</text>
<text x="464.20" y="225.45" font-size="8.2" text-anchor="middle" textLength="3.80" lengthAdjust="spacingAndGlyphs">6</text>
<text x="472.70" y="225.45" font-size="8.2" text-anchor="middle" textLength="7.60" lengthAdjust="spacingAndGlyphs">12</text>
<text x="482.90" y="225.45" font-size="8.2" text-anchor="middle" textLength="7.60" lengthAdjust="spacingAndGlyphs">24</text>
<text x="493.00" y="225.45" font-size="8.2" text-anchor="middle" textLength="7.60" lengthAdjust="spacingAndGlyphs">48</text>
<text x="503.60" y="225.45" font-size="8.2" text-anchor="middle" textLength="7.60" lengthAdjust="spacingAndGlyphs">72</text>
<text x="513.50" y="225.45" font-size="8.2" text-anchor="middle" textLength="4.20" lengthAdjust="spacingAndGlyphs">h</text>
<rect x="527.40" y="229.20" width="134.10" height="13.40" fill="#f3f3f3" stroke="#1a1a1a" stroke-width="1"/>
<rect x="540.63" y="233.70" width="10.75" height="3.96" rx="1.98" fill="rgb(19,19,19)" filter="url(#bl)"/>
<rect x="552.03" y="233.63" width="10.38" height="4.23" rx="2.12" fill="rgb(2,2,2)" filter="url(#bl)"/>
<rect x="563.07" y="233.89" width="10.43" height="4.18" rx="2.09" fill="rgb(4,4,4)" filter="url(#bl)"/>
<rect x="573.37" y="233.80" width="10.62" height="4.18" rx="2.09" fill="rgb(4,4,4)" filter="url(#bl)"/>
<rect x="583.83" y="233.56" width="10.92" height="4.18" rx="2.09" fill="rgb(4,4,4)" filter="url(#bl)"/>
<rect x="605.98" y="233.78" width="10.00" height="3.96" rx="1.98" fill="rgb(19,19,19)" filter="url(#bl)"/>
<rect x="616.45" y="233.73" width="10.98" height="4.18" rx="2.09" fill="rgb(4,4,4)" filter="url(#bl)"/>
<rect x="627.28" y="234.08" width="10.52" height="4.23" rx="2.12" fill="rgb(2,2,2)" filter="url(#bl)"/>
<rect x="639.16" y="234.73" width="8.32" height="2.18" rx="1.09" fill="rgb(210,210,210)" filter="url(#bl)"/>
<rect x="650.62" y="234.96" width="8.01" height="2.12" rx="1.06" fill="rgb(219,219,219)" filter="url(#bl)"/>
<rect x="527.40" y="244.50" width="134.10" height="13.50" fill="#f3f3f3" stroke="#1a1a1a" stroke-width="1"/>
<rect x="530.80" y="249.94" width="9.20" height="3.10" rx="1.55" fill="rgb(29,29,29)" filter="url(#bl)"/>
<rect x="541.90" y="249.44" width="8.79" height="3.10" rx="1.55" fill="rgb(29,29,29)" filter="url(#bl)"/>
<rect x="552.88" y="249.52" width="9.07" height="3.10" rx="1.55" fill="rgb(29,29,29)" filter="url(#bl)"/>
<rect x="563.63" y="249.80" width="9.22" height="3.18" rx="1.59" fill="rgb(19,19,19)" filter="url(#bl)"/>
<rect x="574.52" y="249.58" width="8.99" height="3.18" rx="1.59" fill="rgb(19,19,19)" filter="url(#bl)"/>
<rect x="585.40" y="249.82" width="8.87" height="3.18" rx="1.59" fill="rgb(19,19,19)" filter="url(#bl)"/>
<rect x="595.39" y="249.78" width="9.31" height="3.18" rx="1.59" fill="rgb(19,19,19)" filter="url(#bl)"/>
<rect x="606.83" y="249.66" width="9.43" height="3.18" rx="1.59" fill="rgb(19,19,19)" filter="url(#bl)"/>
<rect x="617.34" y="249.68" width="8.88" height="3.18" rx="1.59" fill="rgb(19,19,19)" filter="url(#bl)"/>
<rect x="628.72" y="250.19" width="8.26" height="2.61" rx="1.30" fill="rgb(95,95,95)" filter="url(#bl)"/>
<rect x="639.63" y="250.12" width="8.09" height="1.93" rx="0.96" fill="rgb(210,210,210)" filter="url(#bl)"/>
<rect x="650.53" y="250.19" width="7.54" height="1.93" rx="0.96" fill="rgb(210,210,210)" filter="url(#bl)"/>
<rect x="527.40" y="260.40" width="134.10" height="13.20" fill="#f3f3f3" stroke="#1a1a1a" stroke-width="1"/>
<rect x="530.86" y="265.54" width="8.70" height="2.77" rx="1.39" fill="rgb(71,71,71)" filter="url(#bl)"/>
<rect x="541.96" y="265.42" width="9.07" height="2.77" rx="1.39" fill="rgb(71,71,71)" filter="url(#bl)"/>
<rect x="552.73" y="265.71" width="8.49" height="2.77" rx="1.39" fill="rgb(71,71,71)" filter="url(#bl)"/>
<rect x="564.00" y="265.77" width="8.52" height="2.77" rx="1.39" fill="rgb(71,71,71)" filter="url(#bl)"/>
<rect x="574.36" y="265.77" width="8.37" height="2.77" rx="1.39" fill="rgb(71,71,71)" filter="url(#bl)"/>
<rect x="585.16" y="265.58" width="8.50" height="2.77" rx="1.39" fill="rgb(71,71,71)" filter="url(#bl)"/>
<rect x="595.80" y="265.58" width="8.69" height="2.77" rx="1.39" fill="rgb(71,71,71)" filter="url(#bl)"/>
<rect x="606.71" y="265.49" width="8.83" height="2.77" rx="1.39" fill="rgb(71,71,71)" filter="url(#bl)"/>
<rect x="617.48" y="265.38" width="8.43" height="2.77" rx="1.39" fill="rgb(71,71,71)" filter="url(#bl)"/>
<rect x="628.54" y="265.80" width="8.65" height="2.77" rx="1.39" fill="rgb(71,71,71)" filter="url(#bl)"/>
<rect x="639.21" y="265.90" width="8.93" height="2.77" rx="1.39" fill="rgb(71,71,71)" filter="url(#bl)"/>
<rect x="649.96" y="265.40" width="8.37" height="2.77" rx="1.39" fill="rgb(71,71,71)" filter="url(#bl)"/>
<text x="565.05" y="214.14" font-size="9.0" text-anchor="middle" textLength="37.10" lengthAdjust="spacingAndGlyphs">C3-2RNF4</text>
<text x="624.75" y="214.14" font-size="9.0" text-anchor="middle" textLength="37.10" lengthAdjust="spacingAndGlyphs">E8-2RNF4</text>
<line x1="530.40" y1="216.40" x2="589.50" y2="216.40" stroke="#222" stroke-width="1.0"/>
<line x1="596.80" y1="216.40" x2="656.50" y2="216.40" stroke="#222" stroke-width="1.0"/>
<text x="536.90" y="225.85" font-size="8.2" text-anchor="middle" textLength="3.80" lengthAdjust="spacingAndGlyphs">0</text>
<text x="545.10" y="225.85" font-size="8.2" text-anchor="middle" textLength="3.80" lengthAdjust="spacingAndGlyphs">6</text>
<text x="554.00" y="225.85" font-size="8.2" text-anchor="middle" textLength="7.60" lengthAdjust="spacingAndGlyphs">12</text>
<text x="564.30" y="225.85" font-size="8.2" text-anchor="middle" textLength="7.60" lengthAdjust="spacingAndGlyphs">24</text>
<text x="575.10" y="225.85" font-size="8.2" text-anchor="middle" textLength="7.60" lengthAdjust="spacingAndGlyphs">48</text>
<text x="586.10" y="225.85" font-size="8.2" text-anchor="middle" textLength="7.60" lengthAdjust="spacingAndGlyphs">72</text>
<text x="599.90" y="225.85" font-size="8.2" text-anchor="middle" textLength="3.80" lengthAdjust="spacingAndGlyphs">0</text>
<text x="607.80" y="225.85" font-size="8.2" text-anchor="middle" textLength="3.80" lengthAdjust="spacingAndGlyphs">6</text>
<text x="616.50" y="225.85" font-size="8.2" text-anchor="middle" textLength="7.60" lengthAdjust="spacingAndGlyphs">12</text>
<text x="626.30" y="225.85" font-size="8.2" text-anchor="middle" textLength="7.60" lengthAdjust="spacingAndGlyphs">24</text>
<text x="636.80" y="225.85" font-size="8.2" text-anchor="middle" textLength="7.60" lengthAdjust="spacingAndGlyphs">48</text>
<text x="647.20" y="225.85" font-size="8.2" text-anchor="middle" textLength="7.60" lengthAdjust="spacingAndGlyphs">72</text>
<text x="657.50" y="225.85" font-size="8.2" text-anchor="middle" textLength="4.20" lengthAdjust="spacingAndGlyphs">h</text>
<text x="674.80" y="229.46" font-size="7.4" text-anchor="middle" textLength="18.40" lengthAdjust="spacingAndGlyphs">(kDa)</text>
<line x1="663.00" y1="239.10" x2="669.10" y2="239.10" stroke="#000" stroke-width="1.0"/>
<text x="674.60" y="241.76" font-size="7.4" text-anchor="middle" textLength="8.40" lengthAdjust="spacingAndGlyphs">35</text>
<line x1="663.00" y1="255.70" x2="669.10" y2="255.70" stroke="#000" stroke-width="1.0"/>
<text x="674.60" y="258.36" font-size="7.4" text-anchor="middle" textLength="8.40" lengthAdjust="spacingAndGlyphs">60</text>
<line x1="663.00" y1="272.20" x2="669.10" y2="272.20" stroke="#000" stroke-width="1.0"/>
<text x="674.60" y="274.86" font-size="7.4" text-anchor="middle" textLength="8.40" lengthAdjust="spacingAndGlyphs">35</text>
<line x1="55.30" y1="95.30" x2="55.30" y2="159.90" stroke="#000" stroke-width="0.9"/>
<line x1="54.90" y1="159.50" x2="153.40" y2="159.50" stroke="#000" stroke-width="0.9"/>
<line x1="52.90" y1="159.50" x2="55.30" y2="159.50" stroke="#000" stroke-width="0.8"/>
<text x="52.10" y="161.16" font-size="4.6" text-anchor="end" font-weight="bold" fill="#333">0</text>
<line x1="52.90" y1="146.76" x2="55.30" y2="146.76" stroke="#000" stroke-width="0.8"/>
<text x="52.10" y="148.42" font-size="4.6" text-anchor="end" font-weight="bold" fill="#333">25</text>
<line x1="52.90" y1="134.02" x2="55.30" y2="134.02" stroke="#000" stroke-width="0.8"/>
<text x="52.10" y="135.68" font-size="4.6" text-anchor="end" font-weight="bold" fill="#333">50</text>
<line x1="52.90" y1="121.28" x2="55.30" y2="121.28" stroke="#000" stroke-width="0.8"/>
<text x="52.10" y="122.94" font-size="4.6" text-anchor="end" font-weight="bold" fill="#333">75</text>
<line x1="52.90" y1="108.54" x2="55.30" y2="108.54" stroke="#000" stroke-width="0.8"/>
<text x="52.10" y="110.20" font-size="4.6" text-anchor="end" font-weight="bold" fill="#333">100</text>
<line x1="52.90" y1="95.80" x2="55.30" y2="95.80" stroke="#000" stroke-width="0.8"/>
<text x="52.10" y="97.46" font-size="4.6" text-anchor="end" font-weight="bold" fill="#333">125</text>
<line x1="55.60" y1="159.50" x2="55.60" y2="161.90" stroke="#000" stroke-width="0.8"/>
<text x="55.60" y="166.76" font-size="4.6" text-anchor="middle" font-weight="bold" fill="#333">0</text>
<line x1="70.37" y1="159.50" x2="70.37" y2="161.90" stroke="#000" stroke-width="0.8"/>
<text x="70.37" y="166.76" font-size="4.6" text-anchor="middle" font-weight="bold" fill="#333">12</text>
<line x1="85.13" y1="159.50" x2="85.13" y2="161.90" stroke="#000" stroke-width="0.8"/>
<text x="85.13" y="166.76" font-size="4.6" text-anchor="middle" font-weight="bold" fill="#333">24</text>
<line x1="99.90" y1="159.50" x2="99.90" y2="161.90" stroke="#000" stroke-width="0.8"/>
<text x="99.90" y="166.76" font-size="4.6" text-anchor="middle" font-weight="bold" fill="#333">36</text>
<line x1="114.67" y1="159.50" x2="114.67" y2="161.90" stroke="#000" stroke-width="0.8"/>
<text x="114.67" y="166.76" font-size="4.6" text-anchor="middle" font-weight="bold" fill="#333">48</text>
<line x1="129.43" y1="159.50" x2="129.43" y2="161.90" stroke="#000" stroke-width="0.8"/>
<text x="129.43" y="166.76" font-size="4.6" text-anchor="middle" font-weight="bold" fill="#333">60</text>
<line x1="144.20" y1="159.50" x2="144.20" y2="161.90" stroke="#000" stroke-width="0.8"/>
<text x="144.20" y="166.76" font-size="4.6" text-anchor="middle" font-weight="bold" fill="#333">72</text>
<polyline points="55.60,108.54 62.98,110.58 70.37,107.52 85.13,104.46 114.67,105.48 144.20,104.97" fill="none" stroke="#111" stroke-width="0.65"/>
<line x1="55.60" y1="105.99" x2="55.60" y2="111.09" stroke="#111" stroke-width="0.6"/>
<line x1="54.10" y1="105.99" x2="57.10" y2="105.99" stroke="#111" stroke-width="0.6"/>
<line x1="54.10" y1="111.09" x2="57.10" y2="111.09" stroke="#111" stroke-width="0.6"/>
<polygon points="54.20,109.64 57.00,109.64 55.60,107.14" fill="#111"/>
<line x1="62.98" y1="107.52" x2="62.98" y2="113.64" stroke="#111" stroke-width="0.6"/>
<line x1="61.48" y1="107.52" x2="64.48" y2="107.52" stroke="#111" stroke-width="0.6"/>
<line x1="61.48" y1="113.64" x2="64.48" y2="113.64" stroke="#111" stroke-width="0.6"/>
<polygon points="61.58,111.68 64.38,111.68 62.98,109.18" fill="#111"/>
<line x1="70.37" y1="103.95" x2="70.37" y2="111.09" stroke="#111" stroke-width="0.6"/>
<line x1="68.87" y1="103.95" x2="71.87" y2="103.95" stroke="#111" stroke-width="0.6"/>
<line x1="68.87" y1="111.09" x2="71.87" y2="111.09" stroke="#111" stroke-width="0.6"/>
<polygon points="68.97,108.62 71.77,108.62 70.37,106.12" fill="#111"/>
<line x1="85.13" y1="100.90" x2="85.13" y2="108.03" stroke="#111" stroke-width="0.6"/>
<line x1="83.63" y1="100.90" x2="86.63" y2="100.90" stroke="#111" stroke-width="0.6"/>
<line x1="83.63" y1="108.03" x2="86.63" y2="108.03" stroke="#111" stroke-width="0.6"/>
<polygon points="83.73,105.56 86.53,105.56 85.13,103.06" fill="#111"/>
<line x1="114.67" y1="100.90" x2="114.67" y2="110.07" stroke="#111" stroke-width="0.6"/>
<line x1="113.17" y1="100.90" x2="116.17" y2="100.90" stroke="#111" stroke-width="0.6"/>
<line x1="113.17" y1="110.07" x2="116.17" y2="110.07" stroke="#111" stroke-width="0.6"/>
<polygon points="113.27,106.58 116.07,106.58 114.67,104.08" fill="#111"/>
<line x1="144.20" y1="103.44" x2="144.20" y2="106.50" stroke="#111" stroke-width="0.6"/>
<line x1="142.70" y1="103.44" x2="145.70" y2="103.44" stroke="#111" stroke-width="0.6"/>
<line x1="142.70" y1="106.50" x2="145.70" y2="106.50" stroke="#111" stroke-width="0.6"/>
<polygon points="142.80,106.07 145.60,106.07 144.20,103.57" fill="#111"/>
<polyline points="55.60,108.54 62.98,112.11 70.37,123.83 85.13,132.49 114.67,143.19 144.20,151.35" fill="none" stroke="#b41616" stroke-width="0.65"/>
<line x1="55.60" y1="105.99" x2="55.60" y2="111.09" stroke="#b41616" stroke-width="0.6"/>
<line x1="54.10" y1="105.99" x2="57.10" y2="105.99" stroke="#b41616" stroke-width="0.6"/>
<line x1="54.10" y1="111.09" x2="57.10" y2="111.09" stroke="#b41616" stroke-width="0.6"/>
<circle cx="55.60" cy="108.54" r="1.30" fill="#b41616" stroke="none" stroke-width="1"/>
<line x1="62.98" y1="110.07" x2="62.98" y2="114.15" stroke="#b41616" stroke-width="0.6"/>
<line x1="61.48" y1="110.07" x2="64.48" y2="110.07" stroke="#b41616" stroke-width="0.6"/>
<line x1="61.48" y1="114.15" x2="64.48" y2="114.15" stroke="#b41616" stroke-width="0.6"/>
<circle cx="62.98" cy="112.11" r="1.30" fill="#b41616" stroke="none" stroke-width="1"/>
<line x1="70.37" y1="121.79" x2="70.37" y2="125.87" stroke="#b41616" stroke-width="0.6"/>
<line x1="68.87" y1="121.79" x2="71.87" y2="121.79" stroke="#b41616" stroke-width="0.6"/>
<line x1="68.87" y1="125.87" x2="71.87" y2="125.87" stroke="#b41616" stroke-width="0.6"/>
<circle cx="70.37" cy="123.83" r="1.30" fill="#b41616" stroke="none" stroke-width="1"/>
<line x1="85.13" y1="126.38" x2="85.13" y2="138.61" stroke="#b41616" stroke-width="0.6"/>
<line x1="83.63" y1="126.38" x2="86.63" y2="126.38" stroke="#b41616" stroke-width="0.6"/>
<line x1="83.63" y1="138.61" x2="86.63" y2="138.61" stroke="#b41616" stroke-width="0.6"/>
<circle cx="85.13" cy="132.49" r="1.30" fill="#b41616" stroke="none" stroke-width="1"/>
<line x1="114.67" y1="139.63" x2="114.67" y2="146.76" stroke="#b41616" stroke-width="0.6"/>
<line x1="113.17" y1="139.63" x2="116.17" y2="139.63" stroke="#b41616" stroke-width="0.6"/>
<line x1="113.17" y1="146.76" x2="116.17" y2="146.76" stroke="#b41616" stroke-width="0.6"/>
<circle cx="114.67" cy="143.19" r="1.30" fill="#b41616" stroke="none" stroke-width="1"/>
<line x1="144.20" y1="150.33" x2="144.20" y2="152.37" stroke="#b41616" stroke-width="0.6"/>
<line x1="142.70" y1="150.33" x2="145.70" y2="150.33" stroke="#b41616" stroke-width="0.6"/>
<line x1="142.70" y1="152.37" x2="145.70" y2="152.37" stroke="#b41616" stroke-width="0.6"/>
<circle cx="144.20" cy="151.35" r="1.30" fill="#b41616" stroke="none" stroke-width="1"/>
<text x="101.65" y="92.88" font-size="8.0" text-anchor="middle" textLength="29.10" lengthAdjust="spacingAndGlyphs">OMM2.3</text>
<text x="130.50" y="121.52" font-size="5.6" text-anchor="middle" textLength="25.00" lengthAdjust="spacingAndGlyphs">C3-2RNF4</text>
<text x="130.50" y="129.42" font-size="5.6" text-anchor="middle" textLength="25.00" lengthAdjust="spacingAndGlyphs">E8-2RNF4</text>
<line x1="107.00" y1="119.50" x2="115.00" y2="119.50" stroke="#111" stroke-width="0.8"/>
<polygon points="109.40,120.80 112.60,120.80 111.00,118.00" fill="#111"/>
<line x1="107.00" y1="127.40" x2="115.00" y2="127.40" stroke="#b41616" stroke-width="0.8"/>
<circle cx="111.00" cy="127.40" r="1.40" fill="#b41616" stroke="none" stroke-width="1"/>
<text x="78.75" y="152.59" font-size="7.2" text-anchor="middle" textLength="36.50" lengthAdjust="spacingAndGlyphs">t½=25.6 hrs</text>
<text x="34.50" y="135.58" font-size="8.0" text-anchor="middle" textLength="68.30" lengthAdjust="spacingAndGlyphs" transform="rotate(-90 34.50 132.70)">% of YAP remaining</text>
<text x="104.75" y="173.54" font-size="7.9" text-anchor="middle" textLength="43.50" lengthAdjust="spacingAndGlyphs">Time (hours)</text>
<line x1="199.90" y1="95.30" x2="199.90" y2="159.90" stroke="#000" stroke-width="0.9"/>
<line x1="199.50" y1="159.50" x2="297.70" y2="159.50" stroke="#000" stroke-width="0.9"/>
<line x1="197.50" y1="159.50" x2="199.90" y2="159.50" stroke="#000" stroke-width="0.8"/>
<text x="196.70" y="161.16" font-size="4.6" text-anchor="end" font-weight="bold" fill="#333">0</text>
<line x1="197.50" y1="146.76" x2="199.90" y2="146.76" stroke="#000" stroke-width="0.8"/>
<text x="196.70" y="148.42" font-size="4.6" text-anchor="end" font-weight="bold" fill="#333">25</text>
<line x1="197.50" y1="134.02" x2="199.90" y2="134.02" stroke="#000" stroke-width="0.8"/>
<text x="196.70" y="135.68" font-size="4.6" text-anchor="end" font-weight="bold" fill="#333">50</text>
<line x1="197.50" y1="121.28" x2="199.90" y2="121.28" stroke="#000" stroke-width="0.8"/>
<text x="196.70" y="122.94" font-size="4.6" text-anchor="end" font-weight="bold" fill="#333">75</text>
<line x1="197.50" y1="108.54" x2="199.90" y2="108.54" stroke="#000" stroke-width="0.8"/>
<text x="196.70" y="110.20" font-size="4.6" text-anchor="end" font-weight="bold" fill="#333">100</text>
<line x1="197.50" y1="95.80" x2="199.90" y2="95.80" stroke="#000" stroke-width="0.8"/>
<text x="196.70" y="97.46" font-size="4.6" text-anchor="end" font-weight="bold" fill="#333">125</text>
<line x1="200.00" y1="159.50" x2="200.00" y2="161.90" stroke="#000" stroke-width="0.8"/>
<text x="200.00" y="166.76" font-size="4.6" text-anchor="middle" font-weight="bold" fill="#333">0</text>
<line x1="214.72" y1="159.50" x2="214.72" y2="161.90" stroke="#000" stroke-width="0.8"/>
<text x="214.72" y="166.76" font-size="4.6" text-anchor="middle" font-weight="bold" fill="#333">12</text>
<line x1="229.43" y1="159.50" x2="229.43" y2="161.90" stroke="#000" stroke-width="0.8"/>
<text x="229.43" y="166.76" font-size="4.6" text-anchor="middle" font-weight="bold" fill="#333">24</text>
<line x1="244.15" y1="159.50" x2="244.15" y2="161.90" stroke="#000" stroke-width="0.8"/>
<text x="244.15" y="166.76" font-size="4.6" text-anchor="middle" font-weight="bold" fill="#333">36</text>
<line x1="258.87" y1="159.50" x2="258.87" y2="161.90" stroke="#000" stroke-width="0.8"/>
<text x="258.87" y="166.76" font-size="4.6" text-anchor="middle" font-weight="bold" fill="#333">48</text>
<line x1="273.58" y1="159.50" x2="273.58" y2="161.90" stroke="#000" stroke-width="0.8"/>
<text x="273.58" y="166.76" font-size="4.6" text-anchor="middle" font-weight="bold" fill="#333">60</text>
<line x1="288.30" y1="159.50" x2="288.30" y2="161.90" stroke="#000" stroke-width="0.8"/>
<text x="288.30" y="166.76" font-size="4.6" text-anchor="middle" font-weight="bold" fill="#333">72</text>
<polyline points="200.00,108.54 207.36,107.52 214.72,109.56 229.43,111.60 258.87,104.46 288.30,104.97" fill="none" stroke="#111" stroke-width="0.65"/>
<line x1="200.00" y1="105.99" x2="200.00" y2="111.09" stroke="#111" stroke-width="0.6"/>
<line x1="198.50" y1="105.99" x2="201.50" y2="105.99" stroke="#111" stroke-width="0.6"/>
<line x1="198.50" y1="111.09" x2="201.50" y2="111.09" stroke="#111" stroke-width="0.6"/>
<polygon points="198.60,109.64 201.40,109.64 200.00,107.14" fill="#111"/>
<line x1="207.36" y1="104.97" x2="207.36" y2="110.07" stroke="#111" stroke-width="0.6"/>
<line x1="205.86" y1="104.97" x2="208.86" y2="104.97" stroke="#111" stroke-width="0.6"/>
<line x1="205.86" y1="110.07" x2="208.86" y2="110.07" stroke="#111" stroke-width="0.6"/>
<polygon points="205.96,108.62 208.76,108.62 207.36,106.12" fill="#111"/>
<line x1="214.72" y1="108.54" x2="214.72" y2="110.58" stroke="#111" stroke-width="0.6"/>
<line x1="213.22" y1="108.54" x2="216.22" y2="108.54" stroke="#111" stroke-width="0.6"/>
<line x1="213.22" y1="110.58" x2="216.22" y2="110.58" stroke="#111" stroke-width="0.6"/>
<polygon points="213.32,110.66 216.12,110.66 214.72,108.16" fill="#111"/>
<line x1="229.43" y1="109.56" x2="229.43" y2="113.64" stroke="#111" stroke-width="0.6"/>
<line x1="227.93" y1="109.56" x2="230.93" y2="109.56" stroke="#111" stroke-width="0.6"/>
<line x1="227.93" y1="113.64" x2="230.93" y2="113.64" stroke="#111" stroke-width="0.6"/>
<polygon points="228.03,112.70 230.83,112.70 229.43,110.20" fill="#111"/>
<line x1="258.87" y1="102.42" x2="258.87" y2="106.50" stroke="#111" stroke-width="0.6"/>
<line x1="257.37" y1="102.42" x2="260.37" y2="102.42" stroke="#111" stroke-width="0.6"/>
<line x1="257.37" y1="106.50" x2="260.37" y2="106.50" stroke="#111" stroke-width="0.6"/>
<polygon points="257.47,105.56 260.27,105.56 258.87,103.06" fill="#111"/>
<line x1="288.30" y1="102.42" x2="288.30" y2="107.52" stroke="#111" stroke-width="0.6"/>
<line x1="286.80" y1="102.42" x2="289.80" y2="102.42" stroke="#111" stroke-width="0.6"/>
<line x1="286.80" y1="107.52" x2="289.80" y2="107.52" stroke="#111" stroke-width="0.6"/>
<polygon points="286.90,106.07 289.70,106.07 288.30,103.57" fill="#111"/>
<polyline points="200.00,108.54 207.36,108.54 214.72,122.81 229.43,130.96 258.87,143.19 288.30,149.82" fill="none" stroke="#b41616" stroke-width="0.65"/>
<line x1="200.00" y1="105.99" x2="200.00" y2="111.09" stroke="#b41616" stroke-width="0.6"/>
<line x1="198.50" y1="105.99" x2="201.50" y2="105.99" stroke="#b41616" stroke-width="0.6"/>
<line x1="198.50" y1="111.09" x2="201.50" y2="111.09" stroke="#b41616" stroke-width="0.6"/>
<circle cx="200.00" cy="108.54" r="1.30" fill="#b41616" stroke="none" stroke-width="1"/>
<line x1="207.36" y1="105.48" x2="207.36" y2="111.60" stroke="#b41616" stroke-width="0.6"/>
<line x1="205.86" y1="105.48" x2="208.86" y2="105.48" stroke="#b41616" stroke-width="0.6"/>
<line x1="205.86" y1="111.60" x2="208.86" y2="111.60" stroke="#b41616" stroke-width="0.6"/>
<circle cx="207.36" cy="108.54" r="1.30" fill="#b41616" stroke="none" stroke-width="1"/>
<line x1="214.72" y1="120.26" x2="214.72" y2="125.36" stroke="#b41616" stroke-width="0.6"/>
<line x1="213.22" y1="120.26" x2="216.22" y2="120.26" stroke="#b41616" stroke-width="0.6"/>
<line x1="213.22" y1="125.36" x2="216.22" y2="125.36" stroke="#b41616" stroke-width="0.6"/>
<circle cx="214.72" cy="122.81" r="1.30" fill="#b41616" stroke="none" stroke-width="1"/>
<line x1="229.43" y1="126.89" x2="229.43" y2="135.04" stroke="#b41616" stroke-width="0.6"/>
<line x1="227.93" y1="126.89" x2="230.93" y2="126.89" stroke="#b41616" stroke-width="0.6"/>
<line x1="227.93" y1="135.04" x2="230.93" y2="135.04" stroke="#b41616" stroke-width="0.6"/>
<circle cx="229.43" cy="130.96" r="1.30" fill="#b41616" stroke="none" stroke-width="1"/>
<line x1="258.87" y1="139.63" x2="258.87" y2="146.76" stroke="#b41616" stroke-width="0.6"/>
<line x1="257.37" y1="139.63" x2="260.37" y2="139.63" stroke="#b41616" stroke-width="0.6"/>
<line x1="257.37" y1="146.76" x2="260.37" y2="146.76" stroke="#b41616" stroke-width="0.6"/>
<circle cx="258.87" cy="143.19" r="1.30" fill="#b41616" stroke="none" stroke-width="1"/>
<line x1="288.30" y1="147.78" x2="288.30" y2="151.86" stroke="#b41616" stroke-width="0.6"/>
<line x1="286.80" y1="147.78" x2="289.80" y2="147.78" stroke="#b41616" stroke-width="0.6"/>
<line x1="286.80" y1="151.86" x2="289.80" y2="151.86" stroke="#b41616" stroke-width="0.6"/>
<circle cx="288.30" cy="149.82" r="1.30" fill="#b41616" stroke="none" stroke-width="1"/>
<text x="246.95" y="92.18" font-size="8.0" text-anchor="middle" textLength="14.70" lengthAdjust="spacingAndGlyphs">92.1</text>
<text x="274.00" y="121.52" font-size="5.6" text-anchor="middle" textLength="24.00" lengthAdjust="spacingAndGlyphs">C3-2RNF4</text>
<text x="274.00" y="129.42" font-size="5.6" text-anchor="middle" textLength="24.00" lengthAdjust="spacingAndGlyphs">E8-2RNF4</text>
<line x1="251.00" y1="119.50" x2="259.00" y2="119.50" stroke="#111" stroke-width="0.8"/>
<polygon points="253.40,120.80 256.60,120.80 255.00,118.00" fill="#111"/>
<line x1="251.00" y1="127.40" x2="259.00" y2="127.40" stroke="#b41616" stroke-width="0.8"/>
<circle cx="255.00" cy="127.40" r="1.40" fill="#b41616" stroke="none" stroke-width="1"/>
<text x="224.30" y="152.59" font-size="7.2" text-anchor="middle" textLength="37.00" lengthAdjust="spacingAndGlyphs">t½=28.5 hrs</text>
<text x="180.20" y="134.48" font-size="8.0" text-anchor="middle" textLength="68.30" lengthAdjust="spacingAndGlyphs" transform="rotate(-90 180.20 131.60)">% of YAP remaining</text>
<text x="250.40" y="173.54" font-size="7.9" text-anchor="middle" textLength="43.20" lengthAdjust="spacingAndGlyphs">Time (hours)</text>
<line x1="404.40" y1="92.80" x2="404.40" y2="157.00" stroke="#000" stroke-width="0.9"/>
<line x1="404.00" y1="156.60" x2="503.50" y2="156.60" stroke="#000" stroke-width="0.9"/>
<line x1="402.00" y1="156.60" x2="404.40" y2="156.60" stroke="#000" stroke-width="0.8"/>
<text x="401.20" y="158.26" font-size="4.6" text-anchor="end" font-weight="bold" fill="#333">0</text>
<line x1="402.00" y1="143.94" x2="404.40" y2="143.94" stroke="#000" stroke-width="0.8"/>
<text x="401.20" y="145.60" font-size="4.6" text-anchor="end" font-weight="bold" fill="#333">25</text>
<line x1="402.00" y1="131.28" x2="404.40" y2="131.28" stroke="#000" stroke-width="0.8"/>
<text x="401.20" y="132.94" font-size="4.6" text-anchor="end" font-weight="bold" fill="#333">50</text>
<line x1="402.00" y1="118.62" x2="404.40" y2="118.62" stroke="#000" stroke-width="0.8"/>
<text x="401.20" y="120.28" font-size="4.6" text-anchor="end" font-weight="bold" fill="#333">75</text>
<line x1="402.00" y1="105.96" x2="404.40" y2="105.96" stroke="#000" stroke-width="0.8"/>
<text x="401.20" y="107.62" font-size="4.6" text-anchor="end" font-weight="bold" fill="#333">100</text>
<line x1="402.00" y1="93.30" x2="404.40" y2="93.30" stroke="#000" stroke-width="0.8"/>
<text x="401.20" y="94.96" font-size="4.6" text-anchor="end" font-weight="bold" fill="#333">125</text>
<line x1="405.00" y1="156.60" x2="405.00" y2="159.00" stroke="#000" stroke-width="0.8"/>
<text x="405.00" y="163.86" font-size="4.6" text-anchor="middle" font-weight="bold" fill="#333">0</text>
<line x1="419.72" y1="156.60" x2="419.72" y2="159.00" stroke="#000" stroke-width="0.8"/>
<text x="419.72" y="163.86" font-size="4.6" text-anchor="middle" font-weight="bold" fill="#333">12</text>
<line x1="434.43" y1="156.60" x2="434.43" y2="159.00" stroke="#000" stroke-width="0.8"/>
<text x="434.43" y="163.86" font-size="4.6" text-anchor="middle" font-weight="bold" fill="#333">24</text>
<line x1="449.15" y1="156.60" x2="449.15" y2="159.00" stroke="#000" stroke-width="0.8"/>
<text x="449.15" y="163.86" font-size="4.6" text-anchor="middle" font-weight="bold" fill="#333">36</text>
<line x1="463.87" y1="156.60" x2="463.87" y2="159.00" stroke="#000" stroke-width="0.8"/>
<text x="463.87" y="163.86" font-size="4.6" text-anchor="middle" font-weight="bold" fill="#333">48</text>
<line x1="478.58" y1="156.60" x2="478.58" y2="159.00" stroke="#000" stroke-width="0.8"/>
<text x="478.58" y="163.86" font-size="4.6" text-anchor="middle" font-weight="bold" fill="#333">60</text>
<line x1="493.30" y1="156.60" x2="493.30" y2="159.00" stroke="#000" stroke-width="0.8"/>
<text x="493.30" y="163.86" font-size="4.6" text-anchor="middle" font-weight="bold" fill="#333">72</text>
<polyline points="405.00,107.99 412.36,109.50 419.72,105.45 434.43,109.00 463.87,109.50 493.30,109.50" fill="none" stroke="#111" stroke-width="0.65"/>
<line x1="405.00" y1="104.44" x2="405.00" y2="111.53" stroke="#111" stroke-width="0.6"/>
<line x1="403.50" y1="104.44" x2="406.50" y2="104.44" stroke="#111" stroke-width="0.6"/>
<line x1="403.50" y1="111.53" x2="406.50" y2="111.53" stroke="#111" stroke-width="0.6"/>
<polygon points="403.60,109.09 406.40,109.09 405.00,106.59" fill="#111"/>
<line x1="412.36" y1="106.47" x2="412.36" y2="112.54" stroke="#111" stroke-width="0.6"/>
<line x1="410.86" y1="106.47" x2="413.86" y2="106.47" stroke="#111" stroke-width="0.6"/>
<line x1="410.86" y1="112.54" x2="413.86" y2="112.54" stroke="#111" stroke-width="0.6"/>
<polygon points="410.96,110.60 413.76,110.60 412.36,108.10" fill="#111"/>
<line x1="419.72" y1="99.38" x2="419.72" y2="111.53" stroke="#111" stroke-width="0.6"/>
<line x1="418.22" y1="99.38" x2="421.22" y2="99.38" stroke="#111" stroke-width="0.6"/>
<line x1="418.22" y1="111.53" x2="421.22" y2="111.53" stroke="#111" stroke-width="0.6"/>
<polygon points="418.32,106.55 421.12,106.55 419.72,104.05" fill="#111"/>
<line x1="434.43" y1="106.97" x2="434.43" y2="111.02" stroke="#111" stroke-width="0.6"/>
<line x1="432.93" y1="106.97" x2="435.93" y2="106.97" stroke="#111" stroke-width="0.6"/>
<line x1="432.93" y1="111.02" x2="435.93" y2="111.02" stroke="#111" stroke-width="0.6"/>
<polygon points="433.03,110.10 435.83,110.10 434.43,107.60" fill="#111"/>
<line x1="463.87" y1="107.48" x2="463.87" y2="111.53" stroke="#111" stroke-width="0.6"/>
<line x1="462.37" y1="107.48" x2="465.37" y2="107.48" stroke="#111" stroke-width="0.6"/>
<line x1="462.37" y1="111.53" x2="465.37" y2="111.53" stroke="#111" stroke-width="0.6"/>
<polygon points="462.47,110.60 465.27,110.60 463.87,108.10" fill="#111"/>
<line x1="493.30" y1="104.95" x2="493.30" y2="114.06" stroke="#111" stroke-width="0.6"/>
<line x1="491.80" y1="104.95" x2="494.80" y2="104.95" stroke="#111" stroke-width="0.6"/>
<line x1="491.80" y1="114.06" x2="494.80" y2="114.06" stroke="#111" stroke-width="0.6"/>
<polygon points="491.90,110.60 494.70,110.60 493.30,108.10" fill="#111"/>
<polyline points="405.00,105.96 412.36,105.45 419.72,122.16 434.43,134.82 463.87,138.88 493.30,151.03" fill="none" stroke="#b41616" stroke-width="0.65"/>
<line x1="405.00" y1="102.92" x2="405.00" y2="109.00" stroke="#b41616" stroke-width="0.6"/>
<line x1="403.50" y1="102.92" x2="406.50" y2="102.92" stroke="#b41616" stroke-width="0.6"/>
<line x1="403.50" y1="109.00" x2="406.50" y2="109.00" stroke="#b41616" stroke-width="0.6"/>
<circle cx="405.00" cy="105.96" r="1.30" fill="#b41616" stroke="none" stroke-width="1"/>
<line x1="412.36" y1="101.40" x2="412.36" y2="109.50" stroke="#b41616" stroke-width="0.6"/>
<line x1="410.86" y1="101.40" x2="413.86" y2="101.40" stroke="#b41616" stroke-width="0.6"/>
<line x1="410.86" y1="109.50" x2="413.86" y2="109.50" stroke="#b41616" stroke-width="0.6"/>
<circle cx="412.36" cy="105.45" r="1.30" fill="#b41616" stroke="none" stroke-width="1"/>
<line x1="419.72" y1="120.65" x2="419.72" y2="123.68" stroke="#b41616" stroke-width="0.6"/>
<line x1="418.22" y1="120.65" x2="421.22" y2="120.65" stroke="#b41616" stroke-width="0.6"/>
<line x1="418.22" y1="123.68" x2="421.22" y2="123.68" stroke="#b41616" stroke-width="0.6"/>
<circle cx="419.72" cy="122.16" r="1.30" fill="#b41616" stroke="none" stroke-width="1"/>
<line x1="434.43" y1="132.29" x2="434.43" y2="137.36" stroke="#b41616" stroke-width="0.6"/>
<line x1="432.93" y1="132.29" x2="435.93" y2="132.29" stroke="#b41616" stroke-width="0.6"/>
<line x1="432.93" y1="137.36" x2="435.93" y2="137.36" stroke="#b41616" stroke-width="0.6"/>
<circle cx="434.43" cy="134.82" r="1.30" fill="#b41616" stroke="none" stroke-width="1"/>
<line x1="463.87" y1="135.84" x2="463.87" y2="141.91" stroke="#b41616" stroke-width="0.6"/>
<line x1="462.37" y1="135.84" x2="465.37" y2="135.84" stroke="#b41616" stroke-width="0.6"/>
<line x1="462.37" y1="141.91" x2="465.37" y2="141.91" stroke="#b41616" stroke-width="0.6"/>
<circle cx="463.87" cy="138.88" r="1.30" fill="#b41616" stroke="none" stroke-width="1"/>
<line x1="493.30" y1="150.02" x2="493.30" y2="152.04" stroke="#b41616" stroke-width="0.6"/>
<line x1="491.80" y1="150.02" x2="494.80" y2="150.02" stroke="#b41616" stroke-width="0.6"/>
<line x1="491.80" y1="152.04" x2="494.80" y2="152.04" stroke="#b41616" stroke-width="0.6"/>
<circle cx="493.30" cy="151.03" r="1.30" fill="#b41616" stroke="none" stroke-width="1"/>
<text x="449.55" y="91.88" font-size="8.0" text-anchor="middle" textLength="17.30" lengthAdjust="spacingAndGlyphs">IM95</text>
<text x="480.50" y="122.82" font-size="5.6" text-anchor="middle" textLength="25.60" lengthAdjust="spacingAndGlyphs">C3-2RNF4</text>
<text x="480.50" y="130.92" font-size="5.6" text-anchor="middle" textLength="25.60" lengthAdjust="spacingAndGlyphs">E8-2RNF4</text>
<line x1="457.00" y1="120.80" x2="465.00" y2="120.80" stroke="#111" stroke-width="0.8"/>
<polygon points="459.40,122.10 462.60,122.10 461.00,119.30" fill="#111"/>
<line x1="457.00" y1="128.90" x2="465.00" y2="128.90" stroke="#b41616" stroke-width="0.8"/>
<circle cx="461.00" cy="128.90" r="1.40" fill="#b41616" stroke="none" stroke-width="1"/>
<text x="429.50" y="151.09" font-size="7.2" text-anchor="middle" textLength="37.00" lengthAdjust="spacingAndGlyphs">t½=23.2 hrs</text>
<text x="385.70" y="128.98" font-size="8.0" text-anchor="middle" textLength="68.30" lengthAdjust="spacingAndGlyphs" transform="rotate(-90 385.70 126.10)">% of YAP remaining</text>
<text x="451.00" y="172.84" font-size="7.9" text-anchor="middle" textLength="44.00" lengthAdjust="spacingAndGlyphs">Time (hours)</text>
<line x1="549.60" y1="92.30" x2="549.60" y2="156.50" stroke="#000" stroke-width="0.9"/>
<line x1="549.20" y1="156.10" x2="648.00" y2="156.10" stroke="#000" stroke-width="0.9"/>
<line x1="547.20" y1="156.10" x2="549.60" y2="156.10" stroke="#000" stroke-width="0.8"/>
<text x="546.40" y="157.76" font-size="4.6" text-anchor="end" font-weight="bold" fill="#333">0</text>
<line x1="547.20" y1="143.44" x2="549.60" y2="143.44" stroke="#000" stroke-width="0.8"/>
<text x="546.40" y="145.10" font-size="4.6" text-anchor="end" font-weight="bold" fill="#333">25</text>
<line x1="547.20" y1="130.78" x2="549.60" y2="130.78" stroke="#000" stroke-width="0.8"/>
<text x="546.40" y="132.44" font-size="4.6" text-anchor="end" font-weight="bold" fill="#333">50</text>
<line x1="547.20" y1="118.12" x2="549.60" y2="118.12" stroke="#000" stroke-width="0.8"/>
<text x="546.40" y="119.78" font-size="4.6" text-anchor="end" font-weight="bold" fill="#333">75</text>
<line x1="547.20" y1="105.46" x2="549.60" y2="105.46" stroke="#000" stroke-width="0.8"/>
<text x="546.40" y="107.12" font-size="4.6" text-anchor="end" font-weight="bold" fill="#333">100</text>
<line x1="547.20" y1="92.80" x2="549.60" y2="92.80" stroke="#000" stroke-width="0.8"/>
<text x="546.40" y="94.46" font-size="4.6" text-anchor="end" font-weight="bold" fill="#333">125</text>
<line x1="549.60" y1="156.10" x2="549.60" y2="158.50" stroke="#000" stroke-width="0.8"/>
<text x="549.60" y="163.36" font-size="4.6" text-anchor="middle" font-weight="bold" fill="#333">0</text>
<line x1="564.42" y1="156.10" x2="564.42" y2="158.50" stroke="#000" stroke-width="0.8"/>
<text x="564.42" y="163.36" font-size="4.6" text-anchor="middle" font-weight="bold" fill="#333">12</text>
<line x1="579.23" y1="156.10" x2="579.23" y2="158.50" stroke="#000" stroke-width="0.8"/>
<text x="579.23" y="163.36" font-size="4.6" text-anchor="middle" font-weight="bold" fill="#333">24</text>
<line x1="594.05" y1="156.10" x2="594.05" y2="158.50" stroke="#000" stroke-width="0.8"/>
<text x="594.05" y="163.36" font-size="4.6" text-anchor="middle" font-weight="bold" fill="#333">36</text>
<line x1="608.87" y1="156.10" x2="608.87" y2="158.50" stroke="#000" stroke-width="0.8"/>
<text x="608.87" y="163.36" font-size="4.6" text-anchor="middle" font-weight="bold" fill="#333">48</text>
<line x1="623.68" y1="156.10" x2="623.68" y2="158.50" stroke="#000" stroke-width="0.8"/>
<text x="623.68" y="163.36" font-size="4.6" text-anchor="middle" font-weight="bold" fill="#333">60</text>
<line x1="638.50" y1="156.10" x2="638.50" y2="158.50" stroke="#000" stroke-width="0.8"/>
<text x="638.50" y="163.36" font-size="4.6" text-anchor="middle" font-weight="bold" fill="#333">72</text>
<polyline points="549.60,105.46 557.01,109.51 564.42,110.02 579.23,111.54 608.87,111.03 638.50,108.50" fill="none" stroke="#111" stroke-width="0.65"/>
<line x1="549.60" y1="103.94" x2="549.60" y2="106.98" stroke="#111" stroke-width="0.6"/>
<line x1="548.10" y1="103.94" x2="551.10" y2="103.94" stroke="#111" stroke-width="0.6"/>
<line x1="548.10" y1="106.98" x2="551.10" y2="106.98" stroke="#111" stroke-width="0.6"/>
<polygon points="548.20,106.56 551.00,106.56 549.60,104.06" fill="#111"/>
<line x1="557.01" y1="105.97" x2="557.01" y2="113.06" stroke="#111" stroke-width="0.6"/>
<line x1="555.51" y1="105.97" x2="558.51" y2="105.97" stroke="#111" stroke-width="0.6"/>
<line x1="555.51" y1="113.06" x2="558.51" y2="113.06" stroke="#111" stroke-width="0.6"/>
<polygon points="555.61,110.61 558.41,110.61 557.01,108.11" fill="#111"/>
<line x1="564.42" y1="105.97" x2="564.42" y2="114.07" stroke="#111" stroke-width="0.6"/>
<line x1="562.92" y1="105.97" x2="565.92" y2="105.97" stroke="#111" stroke-width="0.6"/>
<line x1="562.92" y1="114.07" x2="565.92" y2="114.07" stroke="#111" stroke-width="0.6"/>
<polygon points="563.02,111.12 565.82,111.12 564.42,108.62" fill="#111"/>
<line x1="579.23" y1="106.47" x2="579.23" y2="116.60" stroke="#111" stroke-width="0.6"/>
<line x1="577.73" y1="106.47" x2="580.73" y2="106.47" stroke="#111" stroke-width="0.6"/>
<line x1="577.73" y1="116.60" x2="580.73" y2="116.60" stroke="#111" stroke-width="0.6"/>
<polygon points="577.83,112.64 580.63,112.64 579.23,110.14" fill="#111"/>
<line x1="608.87" y1="107.49" x2="608.87" y2="114.58" stroke="#111" stroke-width="0.6"/>
<line x1="607.37" y1="107.49" x2="610.37" y2="107.49" stroke="#111" stroke-width="0.6"/>
<line x1="607.37" y1="114.58" x2="610.37" y2="114.58" stroke="#111" stroke-width="0.6"/>
<polygon points="607.47,112.13 610.27,112.13 608.87,109.63" fill="#111"/>
<line x1="638.50" y1="107.49" x2="638.50" y2="109.51" stroke="#111" stroke-width="0.6"/>
<line x1="637.00" y1="107.49" x2="640.00" y2="107.49" stroke="#111" stroke-width="0.6"/>
<line x1="637.00" y1="109.51" x2="640.00" y2="109.51" stroke="#111" stroke-width="0.6"/>
<polygon points="637.10,109.60 639.90,109.60 638.50,107.10" fill="#111"/>
<polyline points="549.60,105.46 557.01,105.46 564.42,107.49 579.23,124.70 608.87,152.05 638.50,154.07" fill="none" stroke="#b41616" stroke-width="0.65"/>
<line x1="549.60" y1="103.94" x2="549.60" y2="106.98" stroke="#b41616" stroke-width="0.6"/>
<line x1="548.10" y1="103.94" x2="551.10" y2="103.94" stroke="#b41616" stroke-width="0.6"/>
<line x1="548.10" y1="106.98" x2="551.10" y2="106.98" stroke="#b41616" stroke-width="0.6"/>
<circle cx="549.60" cy="105.46" r="1.30" fill="#b41616" stroke="none" stroke-width="1"/>
<line x1="557.01" y1="104.45" x2="557.01" y2="106.47" stroke="#b41616" stroke-width="0.6"/>
<line x1="555.51" y1="104.45" x2="558.51" y2="104.45" stroke="#b41616" stroke-width="0.6"/>
<line x1="555.51" y1="106.47" x2="558.51" y2="106.47" stroke="#b41616" stroke-width="0.6"/>
<circle cx="557.01" cy="105.46" r="1.30" fill="#b41616" stroke="none" stroke-width="1"/>
<line x1="564.42" y1="103.43" x2="564.42" y2="111.54" stroke="#b41616" stroke-width="0.6"/>
<line x1="562.92" y1="103.43" x2="565.92" y2="103.43" stroke="#b41616" stroke-width="0.6"/>
<line x1="562.92" y1="111.54" x2="565.92" y2="111.54" stroke="#b41616" stroke-width="0.6"/>
<circle cx="564.42" cy="107.49" r="1.30" fill="#b41616" stroke="none" stroke-width="1"/>
<line x1="579.23" y1="120.65" x2="579.23" y2="128.75" stroke="#b41616" stroke-width="0.6"/>
<line x1="577.73" y1="120.65" x2="580.73" y2="120.65" stroke="#b41616" stroke-width="0.6"/>
<line x1="577.73" y1="128.75" x2="580.73" y2="128.75" stroke="#b41616" stroke-width="0.6"/>
<circle cx="579.23" cy="124.70" r="1.30" fill="#b41616" stroke="none" stroke-width="1"/>
<line x1="608.87" y1="150.53" x2="608.87" y2="153.57" stroke="#b41616" stroke-width="0.6"/>
<line x1="607.37" y1="150.53" x2="610.37" y2="150.53" stroke="#b41616" stroke-width="0.6"/>
<line x1="607.37" y1="153.57" x2="610.37" y2="153.57" stroke="#b41616" stroke-width="0.6"/>
<circle cx="608.87" cy="152.05" r="1.30" fill="#b41616" stroke="none" stroke-width="1"/>
<line x1="638.50" y1="152.56" x2="638.50" y2="155.59" stroke="#b41616" stroke-width="0.6"/>
<line x1="637.00" y1="152.56" x2="640.00" y2="152.56" stroke="#b41616" stroke-width="0.6"/>
<line x1="637.00" y1="155.59" x2="640.00" y2="155.59" stroke="#b41616" stroke-width="0.6"/>
<circle cx="638.50" cy="154.07" r="1.30" fill="#b41616" stroke="none" stroke-width="1"/>
<text x="594.00" y="91.88" font-size="8.0" text-anchor="middle" textLength="16.40" lengthAdjust="spacingAndGlyphs">AGS</text>
<text x="625.35" y="121.92" font-size="5.6" text-anchor="middle" textLength="24.70" lengthAdjust="spacingAndGlyphs">C3-2RNF4</text>
<text x="625.35" y="130.42" font-size="5.6" text-anchor="middle" textLength="24.70" lengthAdjust="spacingAndGlyphs">E8-2RNF4</text>
<line x1="602.50" y1="119.90" x2="609.60" y2="119.90" stroke="#111" stroke-width="0.8"/>
<polygon points="604.45,121.20 607.65,121.20 606.05,118.40" fill="#111"/>
<line x1="602.50" y1="128.40" x2="609.60" y2="128.40" stroke="#b41616" stroke-width="0.8"/>
<circle cx="606.05" cy="128.40" r="1.40" fill="#b41616" stroke="none" stroke-width="1"/>
<text x="574.50" y="150.29" font-size="7.2" text-anchor="middle" textLength="37.00" lengthAdjust="spacingAndGlyphs">t½=27.1 hrs</text>
<text x="529.60" y="128.78" font-size="8.0" text-anchor="middle" textLength="68.30" lengthAdjust="spacingAndGlyphs" transform="rotate(-90 529.60 125.90)">% of YAP remaining</text>
<text x="595.00" y="172.84" font-size="7.9" text-anchor="middle" textLength="44.00" lengthAdjust="spacingAndGlyphs">Time (hours)</text>
<line x1="63.10" y1="285.40" x2="63.10" y2="349.60" stroke="#000" stroke-width="0.9"/>
<line x1="62.70" y1="349.20" x2="162.70" y2="349.20" stroke="#000" stroke-width="0.9"/>
<line x1="60.70" y1="349.20" x2="63.10" y2="349.20" stroke="#000" stroke-width="0.8"/>
<text x="59.90" y="350.86" font-size="4.6" text-anchor="end" font-weight="bold" fill="#333">0</text>
<line x1="60.70" y1="336.54" x2="63.10" y2="336.54" stroke="#000" stroke-width="0.8"/>
<text x="59.90" y="338.20" font-size="4.6" text-anchor="end" font-weight="bold" fill="#333">25</text>
<line x1="60.70" y1="323.88" x2="63.10" y2="323.88" stroke="#000" stroke-width="0.8"/>
<text x="59.90" y="325.54" font-size="4.6" text-anchor="end" font-weight="bold" fill="#333">50</text>
<line x1="60.70" y1="311.22" x2="63.10" y2="311.22" stroke="#000" stroke-width="0.8"/>
<text x="59.90" y="312.88" font-size="4.6" text-anchor="end" font-weight="bold" fill="#333">75</text>
<line x1="60.70" y1="298.56" x2="63.10" y2="298.56" stroke="#000" stroke-width="0.8"/>
<text x="59.90" y="300.22" font-size="4.6" text-anchor="end" font-weight="bold" fill="#333">100</text>
<line x1="60.70" y1="285.90" x2="63.10" y2="285.90" stroke="#000" stroke-width="0.8"/>
<text x="59.90" y="287.56" font-size="4.6" text-anchor="end" font-weight="bold" fill="#333">125</text>
<line x1="63.40" y1="349.20" x2="63.40" y2="351.60" stroke="#000" stroke-width="0.8"/>
<text x="63.40" y="356.46" font-size="4.6" text-anchor="middle" font-weight="bold" fill="#333">0</text>
<line x1="78.25" y1="349.20" x2="78.25" y2="351.60" stroke="#000" stroke-width="0.8"/>
<text x="78.25" y="356.46" font-size="4.6" text-anchor="middle" font-weight="bold" fill="#333">12</text>
<line x1="93.10" y1="349.20" x2="93.10" y2="351.60" stroke="#000" stroke-width="0.8"/>
<text x="93.10" y="356.46" font-size="4.6" text-anchor="middle" font-weight="bold" fill="#333">24</text>
<line x1="107.95" y1="349.20" x2="107.95" y2="351.60" stroke="#000" stroke-width="0.8"/>
<text x="107.95" y="356.46" font-size="4.6" text-anchor="middle" font-weight="bold" fill="#333">36</text>
<line x1="122.80" y1="349.20" x2="122.80" y2="351.60" stroke="#000" stroke-width="0.8"/>
<text x="122.80" y="356.46" font-size="4.6" text-anchor="middle" font-weight="bold" fill="#333">48</text>
<line x1="137.65" y1="349.20" x2="137.65" y2="351.60" stroke="#000" stroke-width="0.8"/>
<text x="137.65" y="356.46" font-size="4.6" text-anchor="middle" font-weight="bold" fill="#333">60</text>
<line x1="152.50" y1="349.20" x2="152.50" y2="351.60" stroke="#000" stroke-width="0.8"/>
<text x="152.50" y="356.46" font-size="4.6" text-anchor="middle" font-weight="bold" fill="#333">72</text>
<polyline points="63.40,298.56 70.83,298.05 78.25,298.05 93.10,295.52 122.80,296.03 152.50,298.05" fill="none" stroke="#111" stroke-width="0.65"/>
<line x1="63.40" y1="296.53" x2="63.40" y2="300.59" stroke="#111" stroke-width="0.6"/>
<line x1="61.90" y1="296.53" x2="64.90" y2="296.53" stroke="#111" stroke-width="0.6"/>
<line x1="61.90" y1="300.59" x2="64.90" y2="300.59" stroke="#111" stroke-width="0.6"/>
<polygon points="62.00,299.66 64.80,299.66 63.40,297.16" fill="#111"/>
<line x1="70.83" y1="295.52" x2="70.83" y2="300.59" stroke="#111" stroke-width="0.6"/>
<line x1="69.33" y1="295.52" x2="72.33" y2="295.52" stroke="#111" stroke-width="0.6"/>
<line x1="69.33" y1="300.59" x2="72.33" y2="300.59" stroke="#111" stroke-width="0.6"/>
<polygon points="69.42,299.15 72.23,299.15 70.83,296.65" fill="#111"/>
<line x1="78.25" y1="293.50" x2="78.25" y2="302.61" stroke="#111" stroke-width="0.6"/>
<line x1="76.75" y1="293.50" x2="79.75" y2="293.50" stroke="#111" stroke-width="0.6"/>
<line x1="76.75" y1="302.61" x2="79.75" y2="302.61" stroke="#111" stroke-width="0.6"/>
<polygon points="76.85,299.15 79.65,299.15 78.25,296.65" fill="#111"/>
<line x1="93.10" y1="292.99" x2="93.10" y2="298.05" stroke="#111" stroke-width="0.6"/>
<line x1="91.60" y1="292.99" x2="94.60" y2="292.99" stroke="#111" stroke-width="0.6"/>
<line x1="91.60" y1="298.05" x2="94.60" y2="298.05" stroke="#111" stroke-width="0.6"/>
<polygon points="91.70,296.62 94.50,296.62 93.10,294.12" fill="#111"/>
<line x1="122.80" y1="294.00" x2="122.80" y2="298.05" stroke="#111" stroke-width="0.6"/>
<line x1="121.30" y1="294.00" x2="124.30" y2="294.00" stroke="#111" stroke-width="0.6"/>
<line x1="121.30" y1="298.05" x2="124.30" y2="298.05" stroke="#111" stroke-width="0.6"/>
<polygon points="121.40,297.13 124.20,297.13 122.80,294.63" fill="#111"/>
<line x1="152.50" y1="295.52" x2="152.50" y2="300.59" stroke="#111" stroke-width="0.6"/>
<line x1="151.00" y1="295.52" x2="154.00" y2="295.52" stroke="#111" stroke-width="0.6"/>
<line x1="151.00" y1="300.59" x2="154.00" y2="300.59" stroke="#111" stroke-width="0.6"/>
<polygon points="151.10,299.15 153.90,299.15 152.50,296.65" fill="#111"/>
<polyline points="63.40,298.56 70.83,301.60 78.25,305.14 93.10,322.87 122.80,323.37 152.50,336.03" fill="none" stroke="#b41616" stroke-width="0.65"/>
<line x1="63.40" y1="295.52" x2="63.40" y2="301.60" stroke="#b41616" stroke-width="0.6"/>
<line x1="61.90" y1="295.52" x2="64.90" y2="295.52" stroke="#b41616" stroke-width="0.6"/>
<line x1="61.90" y1="301.60" x2="64.90" y2="301.60" stroke="#b41616" stroke-width="0.6"/>
<circle cx="63.40" cy="298.56" r="1.30" fill="#b41616" stroke="none" stroke-width="1"/>
<line x1="70.83" y1="295.52" x2="70.83" y2="307.68" stroke="#b41616" stroke-width="0.6"/>
<line x1="69.33" y1="295.52" x2="72.33" y2="295.52" stroke="#b41616" stroke-width="0.6"/>
<line x1="69.33" y1="307.68" x2="72.33" y2="307.68" stroke="#b41616" stroke-width="0.6"/>
<circle cx="70.83" cy="301.60" r="1.30" fill="#b41616" stroke="none" stroke-width="1"/>
<line x1="78.25" y1="297.55" x2="78.25" y2="312.74" stroke="#b41616" stroke-width="0.6"/>
<line x1="76.75" y1="297.55" x2="79.75" y2="297.55" stroke="#b41616" stroke-width="0.6"/>
<line x1="76.75" y1="312.74" x2="79.75" y2="312.74" stroke="#b41616" stroke-width="0.6"/>
<circle cx="78.25" cy="305.14" r="1.30" fill="#b41616" stroke="none" stroke-width="1"/>
<line x1="93.10" y1="320.34" x2="93.10" y2="325.40" stroke="#b41616" stroke-width="0.6"/>
<line x1="91.60" y1="320.34" x2="94.60" y2="320.34" stroke="#b41616" stroke-width="0.6"/>
<line x1="91.60" y1="325.40" x2="94.60" y2="325.40" stroke="#b41616" stroke-width="0.6"/>
<circle cx="93.10" cy="322.87" r="1.30" fill="#b41616" stroke="none" stroke-width="1"/>
<line x1="122.80" y1="321.35" x2="122.80" y2="325.40" stroke="#b41616" stroke-width="0.6"/>
<line x1="121.30" y1="321.35" x2="124.30" y2="321.35" stroke="#b41616" stroke-width="0.6"/>
<line x1="121.30" y1="325.40" x2="124.30" y2="325.40" stroke="#b41616" stroke-width="0.6"/>
<circle cx="122.80" cy="323.37" r="1.30" fill="#b41616" stroke="none" stroke-width="1"/>
<line x1="152.50" y1="333.50" x2="152.50" y2="338.57" stroke="#b41616" stroke-width="0.6"/>
<line x1="151.00" y1="333.50" x2="154.00" y2="333.50" stroke="#b41616" stroke-width="0.6"/>
<line x1="151.00" y1="338.57" x2="154.00" y2="338.57" stroke="#b41616" stroke-width="0.6"/>
<circle cx="152.50" cy="336.03" r="1.30" fill="#b41616" stroke="none" stroke-width="1"/>
<text x="110.20" y="283.68" font-size="8.0" text-anchor="middle" textLength="46.40" lengthAdjust="spacingAndGlyphs">MDA-MB-231</text>
<text x="138.50" y="310.82" font-size="5.6" text-anchor="middle" textLength="25.00" lengthAdjust="spacingAndGlyphs">C3-2RNF4</text>
<text x="138.50" y="319.22" font-size="5.6" text-anchor="middle" textLength="25.00" lengthAdjust="spacingAndGlyphs">E8-2RNF4</text>
<line x1="116.00" y1="308.80" x2="124.00" y2="308.80" stroke="#111" stroke-width="0.8"/>
<polygon points="118.40,310.10 121.60,310.10 120.00,307.30" fill="#111"/>
<line x1="116.00" y1="317.20" x2="124.00" y2="317.20" stroke="#b41616" stroke-width="0.8"/>
<circle cx="120.00" cy="317.20" r="1.40" fill="#b41616" stroke="none" stroke-width="1"/>
<text x="87.25" y="343.39" font-size="7.2" text-anchor="middle" textLength="36.50" lengthAdjust="spacingAndGlyphs">t½=36.8 hrs</text>
<text x="42.10" y="321.78" font-size="8.0" text-anchor="middle" textLength="68.30" lengthAdjust="spacingAndGlyphs" transform="rotate(-90 42.10 318.90)">% of YAP remaining</text>
<text x="110.15" y="366.64" font-size="7.9" text-anchor="middle" textLength="44.30" lengthAdjust="spacingAndGlyphs">Time (hours)</text>
<line x1="260.80" y1="284.60" x2="260.80" y2="348.40" stroke="#000" stroke-width="0.9"/>
<line x1="260.40" y1="348.00" x2="359.90" y2="348.00" stroke="#000" stroke-width="0.9"/>
<line x1="258.40" y1="348.00" x2="260.80" y2="348.00" stroke="#000" stroke-width="0.8"/>
<text x="257.60" y="349.66" font-size="4.6" text-anchor="end" font-weight="bold" fill="#333">0</text>
<line x1="258.40" y1="335.42" x2="260.80" y2="335.42" stroke="#000" stroke-width="0.8"/>
<text x="257.60" y="337.08" font-size="4.6" text-anchor="end" font-weight="bold" fill="#333">25</text>
<line x1="258.40" y1="322.84" x2="260.80" y2="322.84" stroke="#000" stroke-width="0.8"/>
<text x="257.60" y="324.50" font-size="4.6" text-anchor="end" font-weight="bold" fill="#333">50</text>
<line x1="258.40" y1="310.26" x2="260.80" y2="310.26" stroke="#000" stroke-width="0.8"/>
<text x="257.60" y="311.92" font-size="4.6" text-anchor="end" font-weight="bold" fill="#333">75</text>
<line x1="258.40" y1="297.68" x2="260.80" y2="297.68" stroke="#000" stroke-width="0.8"/>
<text x="257.60" y="299.34" font-size="4.6" text-anchor="end" font-weight="bold" fill="#333">100</text>
<line x1="258.40" y1="285.10" x2="260.80" y2="285.10" stroke="#000" stroke-width="0.8"/>
<text x="257.60" y="286.76" font-size="4.6" text-anchor="end" font-weight="bold" fill="#333">125</text>
<line x1="260.80" y1="348.00" x2="260.80" y2="350.40" stroke="#000" stroke-width="0.8"/>
<text x="260.80" y="355.26" font-size="4.6" text-anchor="middle" font-weight="bold" fill="#333">0</text>
<line x1="275.62" y1="348.00" x2="275.62" y2="350.40" stroke="#000" stroke-width="0.8"/>
<text x="275.62" y="355.26" font-size="4.6" text-anchor="middle" font-weight="bold" fill="#333">12</text>
<line x1="290.43" y1="348.00" x2="290.43" y2="350.40" stroke="#000" stroke-width="0.8"/>
<text x="290.43" y="355.26" font-size="4.6" text-anchor="middle" font-weight="bold" fill="#333">24</text>
<line x1="305.25" y1="348.00" x2="305.25" y2="350.40" stroke="#000" stroke-width="0.8"/>
<text x="305.25" y="355.26" font-size="4.6" text-anchor="middle" font-weight="bold" fill="#333">36</text>
<line x1="320.07" y1="348.00" x2="320.07" y2="350.40" stroke="#000" stroke-width="0.8"/>
<text x="320.07" y="355.26" font-size="4.6" text-anchor="middle" font-weight="bold" fill="#333">48</text>
<line x1="334.88" y1="348.00" x2="334.88" y2="350.40" stroke="#000" stroke-width="0.8"/>
<text x="334.88" y="355.26" font-size="4.6" text-anchor="middle" font-weight="bold" fill="#333">60</text>
<line x1="349.70" y1="348.00" x2="349.70" y2="350.40" stroke="#000" stroke-width="0.8"/>
<text x="349.70" y="355.26" font-size="4.6" text-anchor="middle" font-weight="bold" fill="#333">72</text>
<polyline points="260.80,297.68 268.21,302.71 275.62,298.18 290.43,301.71 320.07,297.18 349.70,304.72" fill="none" stroke="#111" stroke-width="0.65"/>
<line x1="260.80" y1="294.66" x2="260.80" y2="300.70" stroke="#111" stroke-width="0.6"/>
<line x1="259.30" y1="294.66" x2="262.30" y2="294.66" stroke="#111" stroke-width="0.6"/>
<line x1="259.30" y1="300.70" x2="262.30" y2="300.70" stroke="#111" stroke-width="0.6"/>
<polygon points="259.40,298.78 262.20,298.78 260.80,296.28" fill="#111"/>
<line x1="268.21" y1="300.70" x2="268.21" y2="304.72" stroke="#111" stroke-width="0.6"/>
<line x1="266.71" y1="300.70" x2="269.71" y2="300.70" stroke="#111" stroke-width="0.6"/>
<line x1="266.71" y1="304.72" x2="269.71" y2="304.72" stroke="#111" stroke-width="0.6"/>
<polygon points="266.81,303.81 269.61,303.81 268.21,301.31" fill="#111"/>
<line x1="275.62" y1="297.18" x2="275.62" y2="299.19" stroke="#111" stroke-width="0.6"/>
<line x1="274.12" y1="297.18" x2="277.12" y2="297.18" stroke="#111" stroke-width="0.6"/>
<line x1="274.12" y1="299.19" x2="277.12" y2="299.19" stroke="#111" stroke-width="0.6"/>
<polygon points="274.22,299.28 277.02,299.28 275.62,296.78" fill="#111"/>
<line x1="290.43" y1="299.19" x2="290.43" y2="304.22" stroke="#111" stroke-width="0.6"/>
<line x1="288.93" y1="299.19" x2="291.93" y2="299.19" stroke="#111" stroke-width="0.6"/>
<line x1="288.93" y1="304.22" x2="291.93" y2="304.22" stroke="#111" stroke-width="0.6"/>
<polygon points="289.03,302.81 291.83,302.81 290.43,300.31" fill="#111"/>
<line x1="320.07" y1="296.17" x2="320.07" y2="298.18" stroke="#111" stroke-width="0.6"/>
<line x1="318.57" y1="296.17" x2="321.57" y2="296.17" stroke="#111" stroke-width="0.6"/>
<line x1="318.57" y1="298.18" x2="321.57" y2="298.18" stroke="#111" stroke-width="0.6"/>
<polygon points="318.67,298.28 321.47,298.28 320.07,295.78" fill="#111"/>
<line x1="349.70" y1="303.72" x2="349.70" y2="305.73" stroke="#111" stroke-width="0.6"/>
<line x1="348.20" y1="303.72" x2="351.20" y2="303.72" stroke="#111" stroke-width="0.6"/>
<line x1="348.20" y1="305.73" x2="351.20" y2="305.73" stroke="#111" stroke-width="0.6"/>
<polygon points="348.30,305.82 351.10,305.82 349.70,303.32" fill="#111"/>
<polyline points="260.80,295.67 268.21,298.18 275.62,320.83 290.43,332.90 320.07,333.41 349.70,343.47" fill="none" stroke="#b41616" stroke-width="0.65"/>
<line x1="260.80" y1="291.64" x2="260.80" y2="299.69" stroke="#b41616" stroke-width="0.6"/>
<line x1="259.30" y1="291.64" x2="262.30" y2="291.64" stroke="#b41616" stroke-width="0.6"/>
<line x1="259.30" y1="299.69" x2="262.30" y2="299.69" stroke="#b41616" stroke-width="0.6"/>
<circle cx="260.80" cy="295.67" r="1.30" fill="#b41616" stroke="none" stroke-width="1"/>
<line x1="268.21" y1="293.65" x2="268.21" y2="302.71" stroke="#b41616" stroke-width="0.6"/>
<line x1="266.71" y1="293.65" x2="269.71" y2="293.65" stroke="#b41616" stroke-width="0.6"/>
<line x1="266.71" y1="302.71" x2="269.71" y2="302.71" stroke="#b41616" stroke-width="0.6"/>
<circle cx="268.21" cy="298.18" r="1.30" fill="#b41616" stroke="none" stroke-width="1"/>
<line x1="275.62" y1="318.81" x2="275.62" y2="322.84" stroke="#b41616" stroke-width="0.6"/>
<line x1="274.12" y1="318.81" x2="277.12" y2="318.81" stroke="#b41616" stroke-width="0.6"/>
<line x1="274.12" y1="322.84" x2="277.12" y2="322.84" stroke="#b41616" stroke-width="0.6"/>
<circle cx="275.62" cy="320.83" r="1.30" fill="#b41616" stroke="none" stroke-width="1"/>
<line x1="290.43" y1="330.39" x2="290.43" y2="335.42" stroke="#b41616" stroke-width="0.6"/>
<line x1="288.93" y1="330.39" x2="291.93" y2="330.39" stroke="#b41616" stroke-width="0.6"/>
<line x1="288.93" y1="335.42" x2="291.93" y2="335.42" stroke="#b41616" stroke-width="0.6"/>
<circle cx="290.43" cy="332.90" r="1.30" fill="#b41616" stroke="none" stroke-width="1"/>
<line x1="320.07" y1="330.89" x2="320.07" y2="335.92" stroke="#b41616" stroke-width="0.6"/>
<line x1="318.57" y1="330.89" x2="321.57" y2="330.89" stroke="#b41616" stroke-width="0.6"/>
<line x1="318.57" y1="335.92" x2="321.57" y2="335.92" stroke="#b41616" stroke-width="0.6"/>
<circle cx="320.07" cy="333.41" r="1.30" fill="#b41616" stroke="none" stroke-width="1"/>
<line x1="349.70" y1="342.46" x2="349.70" y2="344.48" stroke="#b41616" stroke-width="0.6"/>
<line x1="348.20" y1="342.46" x2="351.20" y2="342.46" stroke="#b41616" stroke-width="0.6"/>
<line x1="348.20" y1="344.48" x2="351.20" y2="344.48" stroke="#b41616" stroke-width="0.6"/>
<circle cx="349.70" cy="343.47" r="1.30" fill="#b41616" stroke="none" stroke-width="1"/>
<text x="306.50" y="282.98" font-size="8.0" text-anchor="middle" textLength="39.00" lengthAdjust="spacingAndGlyphs">NCI-H2373</text>
<text x="337.70" y="316.72" font-size="5.6" text-anchor="middle" textLength="25.40" lengthAdjust="spacingAndGlyphs">C3-2RNF4</text>
<text x="337.70" y="324.32" font-size="5.6" text-anchor="middle" textLength="25.40" lengthAdjust="spacingAndGlyphs">E8-2RNF4</text>
<line x1="315.00" y1="314.70" x2="321.60" y2="314.70" stroke="#111" stroke-width="0.8"/>
<polygon points="316.70,316.00 319.90,316.00 318.30,313.20" fill="#111"/>
<line x1="315.00" y1="322.30" x2="321.60" y2="322.30" stroke="#b41616" stroke-width="0.8"/>
<circle cx="318.30" cy="322.30" r="1.40" fill="#b41616" stroke="none" stroke-width="1"/>
<text x="285.95" y="342.89" font-size="7.2" text-anchor="middle" textLength="37.10" lengthAdjust="spacingAndGlyphs">t½=16.8 hrs</text>
<text x="239.70" y="318.18" font-size="8.0" text-anchor="middle" textLength="68.30" lengthAdjust="spacingAndGlyphs" transform="rotate(-90 239.70 315.30)">% of YAP remaining</text>
<text x="305.25" y="364.64" font-size="7.9" text-anchor="middle" textLength="44.50" lengthAdjust="spacingAndGlyphs">Time (hours)</text>
<line x1="407.70" y1="284.10" x2="407.70" y2="348.10" stroke="#000" stroke-width="0.9"/>
<line x1="407.30" y1="347.70" x2="506.40" y2="347.70" stroke="#000" stroke-width="0.9"/>
<line x1="405.30" y1="347.70" x2="407.70" y2="347.70" stroke="#000" stroke-width="0.8"/>
<text x="404.50" y="349.36" font-size="4.6" text-anchor="end" font-weight="bold" fill="#333">0</text>
<line x1="405.30" y1="335.08" x2="407.70" y2="335.08" stroke="#000" stroke-width="0.8"/>
<text x="404.50" y="336.74" font-size="4.6" text-anchor="end" font-weight="bold" fill="#333">25</text>
<line x1="405.30" y1="322.46" x2="407.70" y2="322.46" stroke="#000" stroke-width="0.8"/>
<text x="404.50" y="324.12" font-size="4.6" text-anchor="end" font-weight="bold" fill="#333">50</text>
<line x1="405.30" y1="309.84" x2="407.70" y2="309.84" stroke="#000" stroke-width="0.8"/>
<text x="404.50" y="311.50" font-size="4.6" text-anchor="end" font-weight="bold" fill="#333">75</text>
<line x1="405.30" y1="297.22" x2="407.70" y2="297.22" stroke="#000" stroke-width="0.8"/>
<text x="404.50" y="298.88" font-size="4.6" text-anchor="end" font-weight="bold" fill="#333">100</text>
<line x1="405.30" y1="284.60" x2="407.70" y2="284.60" stroke="#000" stroke-width="0.8"/>
<text x="404.50" y="286.26" font-size="4.6" text-anchor="end" font-weight="bold" fill="#333">125</text>
<line x1="408.00" y1="347.70" x2="408.00" y2="350.10" stroke="#000" stroke-width="0.8"/>
<text x="408.00" y="354.96" font-size="4.6" text-anchor="middle" font-weight="bold" fill="#333">0</text>
<line x1="422.68" y1="347.70" x2="422.68" y2="350.10" stroke="#000" stroke-width="0.8"/>
<text x="422.68" y="354.96" font-size="4.6" text-anchor="middle" font-weight="bold" fill="#333">12</text>
<line x1="437.37" y1="347.70" x2="437.37" y2="350.10" stroke="#000" stroke-width="0.8"/>
<text x="437.37" y="354.96" font-size="4.6" text-anchor="middle" font-weight="bold" fill="#333">24</text>
<line x1="452.05" y1="347.70" x2="452.05" y2="350.10" stroke="#000" stroke-width="0.8"/>
<text x="452.05" y="354.96" font-size="4.6" text-anchor="middle" font-weight="bold" fill="#333">36</text>
<line x1="466.73" y1="347.70" x2="466.73" y2="350.10" stroke="#000" stroke-width="0.8"/>
<text x="466.73" y="354.96" font-size="4.6" text-anchor="middle" font-weight="bold" fill="#333">48</text>
<line x1="481.42" y1="347.70" x2="481.42" y2="350.10" stroke="#000" stroke-width="0.8"/>
<text x="481.42" y="354.96" font-size="4.6" text-anchor="middle" font-weight="bold" fill="#333">60</text>
<line x1="496.10" y1="347.70" x2="496.10" y2="350.10" stroke="#000" stroke-width="0.8"/>
<text x="496.10" y="354.96" font-size="4.6" text-anchor="middle" font-weight="bold" fill="#333">72</text>
<polyline points="408.00,297.72 415.34,299.74 422.68,300.25 437.37,296.72 466.73,295.71 496.10,293.69" fill="none" stroke="#111" stroke-width="0.65"/>
<line x1="408.00" y1="295.71" x2="408.00" y2="299.74" stroke="#111" stroke-width="0.6"/>
<line x1="406.50" y1="295.71" x2="409.50" y2="295.71" stroke="#111" stroke-width="0.6"/>
<line x1="406.50" y1="299.74" x2="409.50" y2="299.74" stroke="#111" stroke-width="0.6"/>
<polygon points="406.60,298.82 409.40,298.82 408.00,296.32" fill="#111"/>
<line x1="415.34" y1="297.22" x2="415.34" y2="302.27" stroke="#111" stroke-width="0.6"/>
<line x1="413.84" y1="297.22" x2="416.84" y2="297.22" stroke="#111" stroke-width="0.6"/>
<line x1="413.84" y1="302.27" x2="416.84" y2="302.27" stroke="#111" stroke-width="0.6"/>
<polygon points="413.94,300.84 416.74,300.84 415.34,298.34" fill="#111"/>
<line x1="422.68" y1="298.73" x2="422.68" y2="301.76" stroke="#111" stroke-width="0.6"/>
<line x1="421.18" y1="298.73" x2="424.18" y2="298.73" stroke="#111" stroke-width="0.6"/>
<line x1="421.18" y1="301.76" x2="424.18" y2="301.76" stroke="#111" stroke-width="0.6"/>
<polygon points="421.28,301.35 424.08,301.35 422.68,298.85" fill="#111"/>
<line x1="437.37" y1="294.70" x2="437.37" y2="298.73" stroke="#111" stroke-width="0.6"/>
<line x1="435.87" y1="294.70" x2="438.87" y2="294.70" stroke="#111" stroke-width="0.6"/>
<line x1="435.87" y1="298.73" x2="438.87" y2="298.73" stroke="#111" stroke-width="0.6"/>
<polygon points="435.97,297.82 438.77,297.82 437.37,295.32" fill="#111"/>
<line x1="466.73" y1="294.70" x2="466.73" y2="296.72" stroke="#111" stroke-width="0.6"/>
<line x1="465.23" y1="294.70" x2="468.23" y2="294.70" stroke="#111" stroke-width="0.6"/>
<line x1="465.23" y1="296.72" x2="468.23" y2="296.72" stroke="#111" stroke-width="0.6"/>
<polygon points="465.33,296.81 468.13,296.81 466.73,294.31" fill="#111"/>
<line x1="496.10" y1="292.68" x2="496.10" y2="294.70" stroke="#111" stroke-width="0.6"/>
<line x1="494.60" y1="292.68" x2="497.60" y2="292.68" stroke="#111" stroke-width="0.6"/>
<line x1="494.60" y1="294.70" x2="497.60" y2="294.70" stroke="#111" stroke-width="0.6"/>
<polygon points="494.70,294.79 497.50,294.79 496.10,292.29" fill="#111"/>
<polyline points="408.00,293.69 415.34,300.75 422.68,312.87 437.37,328.01 466.73,335.58 496.10,339.62" fill="none" stroke="#b41616" stroke-width="0.65"/>
<line x1="408.00" y1="291.16" x2="408.00" y2="296.21" stroke="#b41616" stroke-width="0.6"/>
<line x1="406.50" y1="291.16" x2="409.50" y2="291.16" stroke="#b41616" stroke-width="0.6"/>
<line x1="406.50" y1="296.21" x2="409.50" y2="296.21" stroke="#b41616" stroke-width="0.6"/>
<circle cx="408.00" cy="293.69" r="1.30" fill="#b41616" stroke="none" stroke-width="1"/>
<line x1="415.34" y1="297.22" x2="415.34" y2="304.29" stroke="#b41616" stroke-width="0.6"/>
<line x1="413.84" y1="297.22" x2="416.84" y2="297.22" stroke="#b41616" stroke-width="0.6"/>
<line x1="413.84" y1="304.29" x2="416.84" y2="304.29" stroke="#b41616" stroke-width="0.6"/>
<circle cx="415.34" cy="300.75" r="1.30" fill="#b41616" stroke="none" stroke-width="1"/>
<line x1="422.68" y1="309.84" x2="422.68" y2="315.90" stroke="#b41616" stroke-width="0.6"/>
<line x1="421.18" y1="309.84" x2="424.18" y2="309.84" stroke="#b41616" stroke-width="0.6"/>
<line x1="421.18" y1="315.90" x2="424.18" y2="315.90" stroke="#b41616" stroke-width="0.6"/>
<circle cx="422.68" cy="312.87" r="1.30" fill="#b41616" stroke="none" stroke-width="1"/>
<line x1="437.37" y1="327.00" x2="437.37" y2="329.02" stroke="#b41616" stroke-width="0.6"/>
<line x1="435.87" y1="327.00" x2="438.87" y2="327.00" stroke="#b41616" stroke-width="0.6"/>
<line x1="435.87" y1="329.02" x2="438.87" y2="329.02" stroke="#b41616" stroke-width="0.6"/>
<circle cx="437.37" cy="328.01" r="1.30" fill="#b41616" stroke="none" stroke-width="1"/>
<line x1="466.73" y1="334.58" x2="466.73" y2="336.59" stroke="#b41616" stroke-width="0.6"/>
<line x1="465.23" y1="334.58" x2="468.23" y2="334.58" stroke="#b41616" stroke-width="0.6"/>
<line x1="465.23" y1="336.59" x2="468.23" y2="336.59" stroke="#b41616" stroke-width="0.6"/>
<circle cx="466.73" cy="335.58" r="1.30" fill="#b41616" stroke="none" stroke-width="1"/>
<line x1="496.10" y1="338.61" x2="496.10" y2="340.63" stroke="#b41616" stroke-width="0.6"/>
<line x1="494.60" y1="338.61" x2="497.60" y2="338.61" stroke="#b41616" stroke-width="0.6"/>
<line x1="494.60" y1="340.63" x2="497.60" y2="340.63" stroke="#b41616" stroke-width="0.6"/>
<circle cx="496.10" cy="339.62" r="1.30" fill="#b41616" stroke="none" stroke-width="1"/>
<text x="452.40" y="282.48" font-size="8.0" text-anchor="middle" textLength="38.80" lengthAdjust="spacingAndGlyphs">NCI-H2052</text>
<text x="483.30" y="309.92" font-size="5.6" text-anchor="middle" textLength="25.40" lengthAdjust="spacingAndGlyphs">C3-2RNF4</text>
<text x="483.30" y="317.92" font-size="5.6" text-anchor="middle" textLength="25.40" lengthAdjust="spacingAndGlyphs">E8-2RNF4</text>
<line x1="460.40" y1="307.90" x2="467.50" y2="307.90" stroke="#111" stroke-width="0.8"/>
<polygon points="462.35,309.20 465.55,309.20 463.95,306.40" fill="#111"/>
<line x1="460.40" y1="315.90" x2="467.50" y2="315.90" stroke="#b41616" stroke-width="0.8"/>
<circle cx="463.95" cy="315.90" r="1.40" fill="#b41616" stroke="none" stroke-width="1"/>
<text x="431.70" y="342.89" font-size="7.2" text-anchor="middle" textLength="36.60" lengthAdjust="spacingAndGlyphs">t½=21.2 hrs</text>
<text x="385.90" y="319.98" font-size="8.0" text-anchor="middle" textLength="68.30" lengthAdjust="spacingAndGlyphs" transform="rotate(-90 385.90 317.10)">% of YAP remaining</text>
<text x="458.35" y="362.34" font-size="7.9" text-anchor="middle" textLength="43.90" lengthAdjust="spacingAndGlyphs">Time (hours)</text>
<line x1="554.20" y1="286.20" x2="554.20" y2="350.20" stroke="#000" stroke-width="0.9"/>
<line x1="553.80" y1="349.80" x2="653.00" y2="349.80" stroke="#000" stroke-width="0.9"/>
<line x1="551.80" y1="349.80" x2="554.20" y2="349.80" stroke="#000" stroke-width="0.8"/>
<text x="551.00" y="351.46" font-size="4.6" text-anchor="end" font-weight="bold" fill="#333">0</text>
<line x1="551.80" y1="337.18" x2="554.20" y2="337.18" stroke="#000" stroke-width="0.8"/>
<text x="551.00" y="338.84" font-size="4.6" text-anchor="end" font-weight="bold" fill="#333">25</text>
<line x1="551.80" y1="324.56" x2="554.20" y2="324.56" stroke="#000" stroke-width="0.8"/>
<text x="551.00" y="326.22" font-size="4.6" text-anchor="end" font-weight="bold" fill="#333">50</text>
<line x1="551.80" y1="311.94" x2="554.20" y2="311.94" stroke="#000" stroke-width="0.8"/>
<text x="551.00" y="313.60" font-size="4.6" text-anchor="end" font-weight="bold" fill="#333">75</text>
<line x1="551.80" y1="299.32" x2="554.20" y2="299.32" stroke="#000" stroke-width="0.8"/>
<text x="551.00" y="300.98" font-size="4.6" text-anchor="end" font-weight="bold" fill="#333">100</text>
<line x1="551.80" y1="286.70" x2="554.20" y2="286.70" stroke="#000" stroke-width="0.8"/>
<text x="551.00" y="288.36" font-size="4.6" text-anchor="end" font-weight="bold" fill="#333">125</text>
<line x1="554.70" y1="349.80" x2="554.70" y2="352.20" stroke="#000" stroke-width="0.8"/>
<text x="554.70" y="357.06" font-size="4.6" text-anchor="middle" font-weight="bold" fill="#333">0</text>
<line x1="569.40" y1="349.80" x2="569.40" y2="352.20" stroke="#000" stroke-width="0.8"/>
<text x="569.40" y="357.06" font-size="4.6" text-anchor="middle" font-weight="bold" fill="#333">12</text>
<line x1="584.10" y1="349.80" x2="584.10" y2="352.20" stroke="#000" stroke-width="0.8"/>
<text x="584.10" y="357.06" font-size="4.6" text-anchor="middle" font-weight="bold" fill="#333">24</text>
<line x1="598.80" y1="349.80" x2="598.80" y2="352.20" stroke="#000" stroke-width="0.8"/>
<text x="598.80" y="357.06" font-size="4.6" text-anchor="middle" font-weight="bold" fill="#333">36</text>
<line x1="613.50" y1="349.80" x2="613.50" y2="352.20" stroke="#000" stroke-width="0.8"/>
<text x="613.50" y="357.06" font-size="4.6" text-anchor="middle" font-weight="bold" fill="#333">48</text>
<line x1="628.20" y1="349.80" x2="628.20" y2="352.20" stroke="#000" stroke-width="0.8"/>
<text x="628.20" y="357.06" font-size="4.6" text-anchor="middle" font-weight="bold" fill="#333">60</text>
<line x1="642.90" y1="349.80" x2="642.90" y2="352.20" stroke="#000" stroke-width="0.8"/>
<text x="642.90" y="357.06" font-size="4.6" text-anchor="middle" font-weight="bold" fill="#333">72</text>
<polyline points="554.70,299.32 562.05,296.29 569.40,297.30 584.10,298.82 613.50,302.85 642.90,301.34" fill="none" stroke="#111" stroke-width="0.65"/>
<line x1="554.70" y1="295.28" x2="554.70" y2="303.36" stroke="#111" stroke-width="0.6"/>
<line x1="553.20" y1="295.28" x2="556.20" y2="295.28" stroke="#111" stroke-width="0.6"/>
<line x1="553.20" y1="303.36" x2="556.20" y2="303.36" stroke="#111" stroke-width="0.6"/>
<polygon points="553.30,300.42 556.10,300.42 554.70,297.92" fill="#111"/>
<line x1="562.05" y1="292.76" x2="562.05" y2="299.82" stroke="#111" stroke-width="0.6"/>
<line x1="560.55" y1="292.76" x2="563.55" y2="292.76" stroke="#111" stroke-width="0.6"/>
<line x1="560.55" y1="299.82" x2="563.55" y2="299.82" stroke="#111" stroke-width="0.6"/>
<polygon points="560.65,297.39 563.45,297.39 562.05,294.89" fill="#111"/>
<line x1="569.40" y1="293.26" x2="569.40" y2="301.34" stroke="#111" stroke-width="0.6"/>
<line x1="567.90" y1="293.26" x2="570.90" y2="293.26" stroke="#111" stroke-width="0.6"/>
<line x1="567.90" y1="301.34" x2="570.90" y2="301.34" stroke="#111" stroke-width="0.6"/>
<polygon points="568.00,298.40 570.80,298.40 569.40,295.90" fill="#111"/>
<line x1="584.10" y1="296.80" x2="584.10" y2="300.83" stroke="#111" stroke-width="0.6"/>
<line x1="582.60" y1="296.80" x2="585.60" y2="296.80" stroke="#111" stroke-width="0.6"/>
<line x1="582.60" y1="300.83" x2="585.60" y2="300.83" stroke="#111" stroke-width="0.6"/>
<polygon points="582.70,299.92 585.50,299.92 584.10,297.42" fill="#111"/>
<line x1="613.50" y1="300.33" x2="613.50" y2="305.38" stroke="#111" stroke-width="0.6"/>
<line x1="612.00" y1="300.33" x2="615.00" y2="300.33" stroke="#111" stroke-width="0.6"/>
<line x1="612.00" y1="305.38" x2="615.00" y2="305.38" stroke="#111" stroke-width="0.6"/>
<polygon points="612.10,303.95 614.90,303.95 613.50,301.45" fill="#111"/>
<line x1="642.90" y1="296.80" x2="642.90" y2="305.88" stroke="#111" stroke-width="0.6"/>
<line x1="641.40" y1="296.80" x2="644.40" y2="296.80" stroke="#111" stroke-width="0.6"/>
<line x1="641.40" y1="305.88" x2="644.40" y2="305.88" stroke="#111" stroke-width="0.6"/>
<polygon points="641.50,302.44 644.30,302.44 642.90,299.94" fill="#111"/>
<polyline points="554.70,299.32 562.05,300.83 569.40,297.30 584.10,320.02 613.50,336.17 642.90,343.74" fill="none" stroke="#b41616" stroke-width="0.65"/>
<line x1="554.70" y1="297.81" x2="554.70" y2="300.83" stroke="#b41616" stroke-width="0.6"/>
<line x1="553.20" y1="297.81" x2="556.20" y2="297.81" stroke="#b41616" stroke-width="0.6"/>
<line x1="553.20" y1="300.83" x2="556.20" y2="300.83" stroke="#b41616" stroke-width="0.6"/>
<circle cx="554.70" cy="299.32" r="1.30" fill="#b41616" stroke="none" stroke-width="1"/>
<line x1="562.05" y1="296.80" x2="562.05" y2="304.87" stroke="#b41616" stroke-width="0.6"/>
<line x1="560.55" y1="296.80" x2="563.55" y2="296.80" stroke="#b41616" stroke-width="0.6"/>
<line x1="560.55" y1="304.87" x2="563.55" y2="304.87" stroke="#b41616" stroke-width="0.6"/>
<circle cx="562.05" cy="300.83" r="1.30" fill="#b41616" stroke="none" stroke-width="1"/>
<line x1="569.40" y1="292.25" x2="569.40" y2="302.35" stroke="#b41616" stroke-width="0.6"/>
<line x1="567.90" y1="292.25" x2="570.90" y2="292.25" stroke="#b41616" stroke-width="0.6"/>
<line x1="567.90" y1="302.35" x2="570.90" y2="302.35" stroke="#b41616" stroke-width="0.6"/>
<circle cx="569.40" cy="297.30" r="1.30" fill="#b41616" stroke="none" stroke-width="1"/>
<line x1="584.10" y1="317.49" x2="584.10" y2="322.54" stroke="#b41616" stroke-width="0.6"/>
<line x1="582.60" y1="317.49" x2="585.60" y2="317.49" stroke="#b41616" stroke-width="0.6"/>
<line x1="582.60" y1="322.54" x2="585.60" y2="322.54" stroke="#b41616" stroke-width="0.6"/>
<circle cx="584.10" cy="320.02" r="1.30" fill="#b41616" stroke="none" stroke-width="1"/>
<line x1="613.50" y1="331.63" x2="613.50" y2="340.71" stroke="#b41616" stroke-width="0.6"/>
<line x1="612.00" y1="331.63" x2="615.00" y2="331.63" stroke="#b41616" stroke-width="0.6"/>
<line x1="612.00" y1="340.71" x2="615.00" y2="340.71" stroke="#b41616" stroke-width="0.6"/>
<circle cx="613.50" cy="336.17" r="1.30" fill="#b41616" stroke="none" stroke-width="1"/>
<line x1="642.90" y1="342.73" x2="642.90" y2="344.75" stroke="#b41616" stroke-width="0.6"/>
<line x1="641.40" y1="342.73" x2="644.40" y2="342.73" stroke="#b41616" stroke-width="0.6"/>
<line x1="641.40" y1="344.75" x2="644.40" y2="344.75" stroke="#b41616" stroke-width="0.6"/>
<circle cx="642.90" cy="343.74" r="1.30" fill="#b41616" stroke="none" stroke-width="1"/>
<text x="595.60" y="283.88" font-size="8.0" text-anchor="middle" textLength="43.60" lengthAdjust="spacingAndGlyphs">MSTO-211H</text>
<text x="630.10" y="316.42" font-size="5.6" text-anchor="middle" textLength="25.60" lengthAdjust="spacingAndGlyphs">C3-2RNF4</text>
<text x="630.10" y="324.32" font-size="5.6" text-anchor="middle" textLength="25.60" lengthAdjust="spacingAndGlyphs">E8-2RNF4</text>
<line x1="607.00" y1="314.40" x2="614.70" y2="314.40" stroke="#111" stroke-width="0.8"/>
<polygon points="609.25,315.70 612.45,315.70 610.85,312.90" fill="#111"/>
<line x1="607.00" y1="322.30" x2="614.70" y2="322.30" stroke="#b41616" stroke-width="0.8"/>
<circle cx="610.85" cy="322.30" r="1.40" fill="#b41616" stroke="none" stroke-width="1"/>
<text x="578.35" y="344.59" font-size="7.2" text-anchor="middle" textLength="37.10" lengthAdjust="spacingAndGlyphs">t½=30.9 hrs</text>
<text x="533.00" y="322.38" font-size="8.0" text-anchor="middle" textLength="68.30" lengthAdjust="spacingAndGlyphs" transform="rotate(-90 533.00 319.50)">% of YAP remaining</text>
<text x="603.50" y="365.84" font-size="7.9" text-anchor="middle" textLength="43.00" lengthAdjust="spacingAndGlyphs">Time (hours)</text>
<line x1="47.30" y1="414.20" x2="47.30" y2="479.20" stroke="#000" stroke-width="1.0"/>
<line x1="44.90" y1="478.80" x2="47.30" y2="478.80" stroke="#000" stroke-width="0.9"/>
<text x="44.10" y="480.46" font-size="4.6" text-anchor="end" font-weight="bold" fill="#222">0</text>
<line x1="44.90" y1="462.77" x2="47.30" y2="462.77" stroke="#000" stroke-width="0.9"/>
<text x="44.10" y="464.43" font-size="4.6" text-anchor="end" font-weight="bold" fill="#222">50</text>
<line x1="44.90" y1="446.75" x2="47.30" y2="446.75" stroke="#000" stroke-width="0.9"/>
<text x="44.10" y="448.41" font-size="4.6" text-anchor="end" font-weight="bold" fill="#222">100</text>
<line x1="44.90" y1="430.73" x2="47.30" y2="430.73" stroke="#000" stroke-width="0.9"/>
<text x="44.10" y="432.38" font-size="4.6" text-anchor="end" font-weight="bold" fill="#222">150</text>
<line x1="44.90" y1="414.70" x2="47.30" y2="414.70" stroke="#000" stroke-width="0.9"/>
<text x="44.10" y="416.36" font-size="4.6" text-anchor="end" font-weight="bold" fill="#222">200</text>
<line x1="59.00" y1="478.80" x2="59.00" y2="481.20" stroke="#000" stroke-width="0.9"/>
<path d="M53.60,478.80 V446.75 H64.40 V478.80" fill="#fff" stroke="#000" stroke-width="1.9"/>
<line x1="59.00" y1="441.30" x2="59.00" y2="452.20" stroke="#000" stroke-width="0.8"/>
<line x1="56.80" y1="441.30" x2="61.20" y2="441.30" stroke="#000" stroke-width="0.8"/>
<circle cx="59.00" cy="436.49" r="1.55" fill="#000" stroke="none" stroke-width="1"/>
<circle cx="59.00" cy="446.75" r="1.55" fill="#000" stroke="none" stroke-width="1"/>
<circle cx="59.00" cy="455.40" r="1.55" fill="#000" stroke="none" stroke-width="1"/>
<line x1="82.70" y1="478.80" x2="82.70" y2="481.20" stroke="#000" stroke-width="0.9"/>
<path d="M77.30,478.80 V444.51 H88.10 V478.80" fill="#fff" stroke="#a8a8a8" stroke-width="1.9"/>
<line x1="82.70" y1="441.30" x2="82.70" y2="447.71" stroke="#a8a8a8" stroke-width="0.8"/>
<line x1="80.50" y1="441.30" x2="84.90" y2="441.30" stroke="#a8a8a8" stroke-width="0.8"/>
<circle cx="82.70" cy="438.74" r="1.35" fill="#fff" stroke="#a8a8a8" stroke-width="0.7"/>
<circle cx="82.70" cy="446.75" r="1.35" fill="#fff" stroke="#a8a8a8" stroke-width="0.7"/>
<circle cx="86.90" cy="446.75" r="1.35" fill="#fff" stroke="#a8a8a8" stroke-width="0.7"/>
<line x1="106.20" y1="478.80" x2="106.20" y2="481.20" stroke="#000" stroke-width="0.9"/>
<path d="M100.80,478.80 V429.76 H111.60 V478.80" fill="#fff" stroke="#b0262a" stroke-width="1.9"/>
<line x1="106.20" y1="425.60" x2="106.20" y2="433.93" stroke="#b0262a" stroke-width="0.8"/>
<line x1="104.00" y1="425.60" x2="108.40" y2="425.60" stroke="#b0262a" stroke-width="0.8"/>
<circle cx="106.20" cy="424.31" r="1.55" fill="#b0262a" stroke="none" stroke-width="1"/>
<circle cx="109.10" cy="425.92" r="1.55" fill="#b0262a" stroke="none" stroke-width="1"/>
<circle cx="106.20" cy="437.78" r="1.55" fill="#b0262a" stroke="none" stroke-width="1"/>
<line x1="130.20" y1="478.80" x2="130.20" y2="481.20" stroke="#000" stroke-width="0.9"/>
<path d="M124.80,478.80 V477.84 H135.60 V478.80" fill="#fff" stroke="#ef8e8e" stroke-width="1.9"/>
<line x1="130.20" y1="477.52" x2="130.20" y2="478.16" stroke="#ef8e8e" stroke-width="0.8"/>
<line x1="128.00" y1="477.52" x2="132.40" y2="477.52" stroke="#ef8e8e" stroke-width="0.8"/>
<circle cx="130.20" cy="476.88" r="1.55" fill="#ef8e8e" stroke="none" stroke-width="1"/>
<circle cx="134.40" cy="477.20" r="1.55" fill="#ef8e8e" stroke="none" stroke-width="1"/>
<circle cx="126.00" cy="476.88" r="1.55" fill="#ef8e8e" stroke="none" stroke-width="1"/>
<line x1="46.90" y1="478.80" x2="141.80" y2="478.80" stroke="#8a8a8a" stroke-width="1.6"/>
<text x="96.35" y="400.18" font-size="8.0" text-anchor="middle" textLength="29.10" lengthAdjust="spacingAndGlyphs">OMM2.3</text>
<text x="29.50" y="447.54" font-size="7.6" text-anchor="middle" textLength="52.50" lengthAdjust="spacingAndGlyphs" transform="rotate(-90 29.50 444.80)">Colony number</text>
<line x1="58.80" y1="430.20" x2="83.00" y2="430.20" stroke="#444" stroke-width="0.8"/>
<line x1="58.80" y1="428.70" x2="58.80" y2="431.70" stroke="#444" stroke-width="0.8"/>
<line x1="83.00" y1="428.70" x2="83.00" y2="431.70" stroke="#444" stroke-width="0.8"/>
<text x="71.55" y="428.98" font-size="8.0" text-anchor="middle" textLength="7.70" lengthAdjust="spacingAndGlyphs">ns</text>
<line x1="106.00" y1="416.00" x2="128.30" y2="416.00" stroke="#444" stroke-width="0.8"/>
<line x1="106.00" y1="414.50" x2="106.00" y2="417.50" stroke="#444" stroke-width="0.8"/>
<line x1="128.30" y1="414.50" x2="128.30" y2="417.50" stroke="#444" stroke-width="0.8"/>
<text x="118.20" y="411.14" font-size="6.5" text-anchor="middle" textLength="26.80" lengthAdjust="spacingAndGlyphs"><tspan font-style="italic">P</tspan>=0.0004</text>
<clipPath id="pc101"><circle cx="58.3" cy="491.5" r="11.4"/></clipPath>
<circle cx="58.30" cy="491.50" r="11.40" fill="#d2d2f0" stroke="#c4c4e8" stroke-width="0.7"/>
<circle cx="58.30" cy="491.50" r="11.10" fill="url(#pg)" stroke="none" stroke-width="1"/>
<g clip-path="url(#pc101)" fill="none" stroke="#3a2a98" stroke-linecap="round"><path d="M53.9 489.0h0M69.0 489.1h0M49.2 493.4h0M59.5 496.7h0M56.0 500.7h0M60.9 502.4h0M62.8 493.6h0M66.8 496.8h0M53.1 497.3h0M54.1 499.6h0M54.0 494.5h0M52.6 494.2h0M66.2 498.1h0M54.4 483.1h0M63.6 486.7h0" stroke-width="0.98" opacity="0.8"/><path d="M52.9 496.6h0M50.6 496.8h0M66.1 491.8h0M51.8 490.0h0M67.8 492.8h0M66.8 492.0h0M59.5 493.2h0M59.5 494.2h0M63.8 499.2h0M57.4 484.7h0M53.8 485.1h0M47.6 491.6h0M54.3 501.4h0M54.9 482.7h0M61.6 491.6h0" stroke-width="0.75" opacity="0.8"/><path d="M64.9 492.8h0M68.4 488.0h0M60.4 488.2h0M55.5 481.9h0M62.0 482.0h0M61.4 495.2h0M60.9 482.1h0M64.2 486.7h0M61.6 488.8h0M68.6 488.6h0M56.8 494.0h0M49.3 488.7h0M56.7 493.7h0" stroke-width="0.52" opacity="0.8"/></g>
<clipPath id="pc102"><circle cx="81.8" cy="491.5" r="11.4"/></clipPath>
<circle cx="81.80" cy="491.50" r="11.40" fill="#d2d2f0" stroke="#c4c4e8" stroke-width="0.7"/>
<circle cx="81.80" cy="491.50" r="11.10" fill="url(#pg)" stroke="none" stroke-width="1"/>
<g clip-path="url(#pc102)" fill="none" stroke="#3a2a98" stroke-linecap="round"><path d="M87.1 498.7h0M86.5 499.9h0M76.3 487.1h0M75.5 485.7h0M89.8 493.7h0M75.8 485.9h0M88.9 484.8h0M77.9 495.3h0M88.9 498.9h0M78.5 483.2h0M74.3 494.4h0M83.3 499.7h0M87.3 498.6h0M75.4 484.7h0M81.9 495.0h0" stroke-width="0.98" opacity="0.8"/><path d="M77.1 499.7h0M72.0 490.9h0M75.3 494.5h0M85.7 488.9h0M84.1 499.9h0M76.7 486.0h0M74.7 488.8h0M76.5 482.1h0M85.9 483.4h0M70.9 493.6h0M73.3 494.4h0M88.2 484.6h0M74.2 497.7h0M73.0 485.1h0M75.8 485.7h0" stroke-width="0.75" opacity="0.8"/><path d="M90.0 490.2h0M72.9 498.1h0M86.2 489.9h0M91.3 496.1h0M87.0 486.8h0M81.5 500.9h0M86.7 489.6h0M73.0 494.5h0M83.1 498.7h0M86.7 497.7h0M82.2 494.7h0M78.4 494.3h0M85.0 494.5h0" stroke-width="0.52" opacity="0.8"/></g>
<clipPath id="pc103"><circle cx="105.5" cy="491.5" r="11.4"/></clipPath>
<circle cx="105.50" cy="491.50" r="11.40" fill="#d0d0ee" stroke="#c0c0e6" stroke-width="0.7"/>
<circle cx="105.50" cy="491.50" r="11.10" fill="url(#pg)" stroke="none" stroke-width="1"/>
<g clip-path="url(#pc103)" fill="none" stroke="#3a2a98" stroke-linecap="round"><path d="M113.1 490.5h0M103.6 481.9h0M106.2 494.6h0M102.3 489.1h0M97.6 498.8h0M108.2 488.7h0M110.2 494.2h0M106.3 489.9h0M106.1 495.2h0M111.2 497.4h0M108.5 498.2h0M104.5 481.9h0M96.8 496.6h0M96.2 486.9h0M105.5 498.4h0M95.8 486.1h0M99.7 486.2h0M105.5 497.5h0M107.9 502.6h0M113.7 484.5h0M96.1 489.8h0M103.2 499.1h0M110.0 497.4h0M105.4 495.1h0M108.6 489.8h0M109.2 482.7h0M112.2 495.8h0M116.8 491.2h0" stroke-width="1.10" opacity="0.85"/><path d="M96.3 487.6h0M103.9 485.5h0M97.1 488.8h0M97.4 497.9h0M96.2 494.9h0M112.5 494.5h0M114.3 494.0h0M111.4 485.5h0M97.3 487.9h0M106.4 498.5h0M97.4 487.2h0M99.8 496.9h0M101.4 498.9h0M102.6 485.7h0M101.3 481.9h0M94.5 488.9h0M101.5 501.7h0M108.4 497.8h0M106.3 489.6h0M97.5 484.5h0M114.3 488.3h0M101.8 496.9h0M103.5 489.3h0M116.0 493.4h0M102.3 488.2h0M100.0 494.2h0M109.7 487.0h0M103.9 481.8h0" stroke-width="0.85" opacity="0.85"/><path d="M103.1 496.7h0M98.4 490.5h0M100.1 487.9h0M107.5 484.4h0M112.1 499.1h0M112.9 485.7h0M95.3 488.4h0M106.5 491.1h0M103.9 491.6h0M102.7 496.4h0M96.4 493.8h0M109.2 487.0h0M116.9 492.3h0M107.2 483.2h0M107.5 493.2h0M113.1 488.2h0M111.9 483.7h0M105.6 481.3h0M105.4 497.2h0M96.4 495.5h0M108.2 482.0h0M98.6 487.7h0M108.7 500.2h0M100.8 484.8h0" stroke-width="0.59" opacity="0.85"/></g>
<clipPath id="pc104"><circle cx="130.3" cy="491.5" r="11.4"/></clipPath>
<circle cx="130.30" cy="491.50" r="11.40" fill="#d4d4f4" stroke="#c8c8f0" stroke-width="0.7"/>
<circle cx="130.30" cy="491.50" r="11.10" fill="url(#pg)" stroke="none" stroke-width="1"/>
<g clip-path="url(#pc104)" fill="none" stroke="#8080d0" stroke-linecap="round"></g>
<text x="42.15" y="510.41" font-size="7.8" text-anchor="middle" textLength="15.30" lengthAdjust="spacingAndGlyphs">DOX</text>
<text x="58.00" y="510.12" font-size="7.0" text-anchor="middle">-</text>
<text x="80.50" y="510.12" font-size="7.0" text-anchor="middle">+</text>
<text x="105.50" y="510.12" font-size="7.0" text-anchor="middle">-</text>
<text x="131.00" y="510.12" font-size="7.0" text-anchor="middle">+</text>
<line x1="57.00" y1="512.80" x2="78.00" y2="512.80" stroke="#666" stroke-width="1.4"/>
<line x1="106.80" y1="512.80" x2="127.00" y2="512.80" stroke="#666" stroke-width="1.4"/>
<text x="68.10" y="521.91" font-size="7.8" text-anchor="middle" textLength="35.00" lengthAdjust="spacingAndGlyphs">C3-2RNF4</text>
<text x="117.00" y="521.91" font-size="7.8" text-anchor="middle" textLength="34.00" lengthAdjust="spacingAndGlyphs">E8-2RNF4</text>
<line x1="157.90" y1="412.40" x2="157.90" y2="477.10" stroke="#000" stroke-width="1.0"/>
<line x1="155.50" y1="476.70" x2="157.90" y2="476.70" stroke="#000" stroke-width="0.9"/>
<text x="154.70" y="478.36" font-size="4.6" text-anchor="end" font-weight="bold" fill="#222">0</text>
<line x1="155.50" y1="455.43" x2="157.90" y2="455.43" stroke="#000" stroke-width="0.9"/>
<text x="154.70" y="457.09" font-size="4.6" text-anchor="end" font-weight="bold" fill="#222">200</text>
<line x1="155.50" y1="434.17" x2="157.90" y2="434.17" stroke="#000" stroke-width="0.9"/>
<text x="154.70" y="435.82" font-size="4.6" text-anchor="end" font-weight="bold" fill="#222">400</text>
<line x1="155.50" y1="412.90" x2="157.90" y2="412.90" stroke="#000" stroke-width="0.9"/>
<text x="154.70" y="414.56" font-size="4.6" text-anchor="end" font-weight="bold" fill="#222">600</text>
<line x1="169.80" y1="476.70" x2="169.80" y2="479.10" stroke="#000" stroke-width="0.9"/>
<path d="M164.40,476.70 V436.29 H175.20 V476.70" fill="#fff" stroke="#000" stroke-width="1.9"/>
<line x1="169.80" y1="432.57" x2="169.80" y2="440.01" stroke="#000" stroke-width="0.8"/>
<line x1="167.60" y1="432.57" x2="172.00" y2="432.57" stroke="#000" stroke-width="0.8"/>
<circle cx="169.80" cy="428.32" r="1.55" fill="#000" stroke="none" stroke-width="1"/>
<circle cx="169.80" cy="438.42" r="1.55" fill="#000" stroke="none" stroke-width="1"/>
<circle cx="172.70" cy="440.55" r="1.55" fill="#000" stroke="none" stroke-width="1"/>
<line x1="193.50" y1="476.70" x2="193.50" y2="479.10" stroke="#000" stroke-width="0.9"/>
<path d="M188.10,476.70 V432.57 H198.90 V476.70" fill="#fff" stroke="#a8a8a8" stroke-width="1.9"/>
<line x1="193.50" y1="427.79" x2="193.50" y2="437.36" stroke="#a8a8a8" stroke-width="0.8"/>
<line x1="191.30" y1="427.79" x2="195.70" y2="427.79" stroke="#a8a8a8" stroke-width="0.8"/>
<circle cx="193.50" cy="421.41" r="1.35" fill="#fff" stroke="#a8a8a8" stroke-width="0.7"/>
<circle cx="193.50" cy="434.17" r="1.35" fill="#fff" stroke="#a8a8a8" stroke-width="0.7"/>
<circle cx="197.70" cy="434.70" r="1.35" fill="#fff" stroke="#a8a8a8" stroke-width="0.7"/>
<line x1="217.20" y1="476.70" x2="217.20" y2="479.10" stroke="#000" stroke-width="0.9"/>
<path d="M211.80,476.70 V429.38 H222.60 V476.70" fill="#fff" stroke="#b0262a" stroke-width="1.9"/>
<line x1="217.20" y1="425.66" x2="217.20" y2="433.10" stroke="#b0262a" stroke-width="0.8"/>
<line x1="215.00" y1="425.66" x2="219.40" y2="425.66" stroke="#b0262a" stroke-width="0.8"/>
<circle cx="217.20" cy="425.66" r="1.55" fill="#b0262a" stroke="none" stroke-width="1"/>
<circle cx="220.10" cy="426.72" r="1.55" fill="#b0262a" stroke="none" stroke-width="1"/>
<circle cx="217.20" cy="434.17" r="1.55" fill="#b0262a" stroke="none" stroke-width="1"/>
<line x1="241.00" y1="476.70" x2="241.00" y2="479.10" stroke="#000" stroke-width="0.9"/>
<path d="M235.60,476.70 V466.07 H246.40 V476.70" fill="#fff" stroke="#ef8e8e" stroke-width="1.9"/>
<line x1="241.00" y1="463.94" x2="241.00" y2="468.19" stroke="#ef8e8e" stroke-width="0.8"/>
<line x1="238.80" y1="463.94" x2="243.20" y2="463.94" stroke="#ef8e8e" stroke-width="0.8"/>
<circle cx="241.00" cy="461.81" r="1.55" fill="#ef8e8e" stroke="none" stroke-width="1"/>
<circle cx="241.00" cy="466.60" r="1.55" fill="#ef8e8e" stroke="none" stroke-width="1"/>
<circle cx="245.20" cy="467.13" r="1.55" fill="#ef8e8e" stroke="none" stroke-width="1"/>
<line x1="157.50" y1="476.70" x2="252.40" y2="476.70" stroke="#222" stroke-width="1.1"/>
<text x="204.00" y="400.88" font-size="8.0" text-anchor="middle" textLength="14.40" lengthAdjust="spacingAndGlyphs">92.1</text>
<line x1="169.40" y1="419.00" x2="193.70" y2="419.00" stroke="#444" stroke-width="0.8"/>
<line x1="169.40" y1="417.50" x2="169.40" y2="420.50" stroke="#444" stroke-width="0.8"/>
<line x1="193.70" y1="417.50" x2="193.70" y2="420.50" stroke="#444" stroke-width="0.8"/>
<text x="182.00" y="417.28" font-size="8.0" text-anchor="middle" textLength="8.00" lengthAdjust="spacingAndGlyphs">ns</text>
<line x1="216.60" y1="416.50" x2="239.60" y2="416.50" stroke="#444" stroke-width="0.8"/>
<line x1="216.60" y1="415.00" x2="216.60" y2="418.00" stroke="#444" stroke-width="0.8"/>
<line x1="239.60" y1="415.00" x2="239.60" y2="418.00" stroke="#444" stroke-width="0.8"/>
<text x="228.40" y="411.94" font-size="6.5" text-anchor="middle" textLength="26.00" lengthAdjust="spacingAndGlyphs"><tspan font-style="italic">P</tspan>=0.0003</text>
<clipPath id="pc105"><circle cx="169.4" cy="491.0" r="11.4"/></clipPath>
<circle cx="169.40" cy="491.00" r="11.40" fill="#eae8f8" stroke="#ccc8ee" stroke-width="0.7"/>
<circle cx="169.40" cy="491.00" r="11.10" fill="url(#pg)" stroke="none" stroke-width="1"/>
<g clip-path="url(#pc105)" fill="none" stroke="#6a58d0" stroke-linecap="round"><path d="M174.3 486.3h0M172.2 480.2h0M165.6 500.2h0M167.1 495.0h0M163.7 499.1h0M175.0 498.4h0M166.6 494.8h0M163.0 494.0h0M159.0 493.6h0M174.2 488.4h0M178.3 490.3h0M179.4 488.4h0M163.8 490.1h0M179.7 486.1h0M166.6 488.3h0M173.8 482.1h0M177.6 483.3h0M179.1 489.5h0M162.9 496.2h0M159.5 490.7h0M162.1 483.6h0M160.7 490.1h0M179.3 488.7h0M178.1 487.0h0M174.6 496.2h0M167.9 496.7h0M172.0 493.7h0M159.4 492.2h0M176.9 482.7h0M168.2 490.3h0M170.4 493.5h0M173.8 486.2h0M168.1 483.4h0M160.3 485.7h0M167.7 488.4h0M164.9 485.9h0M175.2 490.1h0M170.0 501.9h0M166.6 492.7h0M172.5 480.5h0M164.7 491.2h0M173.8 486.0h0M169.5 493.4h0M173.5 487.2h0M174.4 495.7h0M165.9 480.2h0M171.6 499.7h0M168.1 501.5h0M160.0 491.7h0M173.8 483.9h0M168.3 491.2h0M174.2 499.2h0M170.0 482.4h0M178.8 494.0h0M175.5 482.4h0M169.4 481.7h0M165.4 496.6h0M172.8 499.5h0M164.0 499.7h0M170.1 496.8h0M174.6 494.1h0M171.2 480.8h0M171.3 489.9h0M166.0 483.1h0M162.9 500.0h0M166.8 485.2h0M173.1 484.4h0M161.7 492.5h0M167.6 491.3h0M172.1 485.3h0M164.8 492.5h0M166.6 489.7h0M174.5 492.0h0M176.2 484.5h0M168.8 487.6h0M160.1 493.9h0M169.1 483.4h0M175.6 494.3h0M179.6 487.6h0M164.3 486.6h0" stroke-width="0.72" opacity="0.65"/><path d="M162.5 485.8h0M159.2 493.5h0M166.1 489.6h0M168.3 481.5h0M176.0 495.9h0M178.5 489.7h0M165.8 484.0h0M159.3 496.2h0M167.9 498.6h0M176.2 495.6h0M164.5 482.9h0M175.2 490.2h0M171.2 497.6h0M163.9 500.4h0M171.4 498.6h0M176.7 491.0h0M162.3 492.9h0M166.5 496.8h0M170.1 489.8h0M178.8 495.1h0M168.2 483.7h0M161.6 492.0h0M169.1 498.5h0M164.0 497.9h0M164.9 498.5h0M180.4 493.9h0M177.2 491.6h0M166.5 493.9h0M176.9 489.7h0M172.0 497.0h0M172.5 498.8h0M180.6 490.9h0M170.6 500.5h0M160.2 487.1h0M170.7 493.0h0M177.3 498.5h0M171.6 491.8h0M166.7 491.7h0M174.5 500.9h0M173.6 500.0h0M173.7 484.6h0M164.5 492.8h0M165.5 498.4h0M161.9 487.4h0M162.4 499.1h0M162.6 492.8h0M159.1 492.6h0M161.6 485.0h0M172.5 485.0h0M168.8 487.5h0M161.7 491.8h0M165.8 494.0h0M171.6 484.7h0M166.3 493.4h0M176.4 483.1h0M172.3 497.5h0M168.3 495.8h0M173.7 483.2h0M177.4 485.9h0M164.4 499.8h0M176.3 496.4h0M166.2 490.7h0M167.5 499.0h0M171.7 493.3h0M161.0 483.5h0M159.7 485.1h0M165.8 491.3h0M173.3 497.6h0M176.6 483.7h0M178.0 489.6h0M169.7 482.5h0M173.7 498.2h0M167.6 501.1h0M171.6 486.1h0M173.5 495.5h0M174.4 491.6h0M180.0 488.1h0M159.6 495.3h0M173.5 501.6h0M161.3 487.2h0" stroke-width="0.55" opacity="0.65"/><path d="M169.2 491.9h0M160.7 488.7h0M166.5 481.4h0M171.0 490.2h0M168.0 487.9h0M174.2 484.2h0M176.6 491.4h0M175.2 482.0h0M176.6 487.2h0M165.7 482.3h0M159.4 491.4h0M172.2 495.7h0M162.1 484.4h0M172.3 490.6h0M175.7 490.9h0M163.0 498.1h0M174.6 490.7h0M160.9 497.7h0M173.6 485.0h0M168.3 501.2h0M171.5 497.6h0M174.7 491.4h0M161.7 493.6h0M170.5 482.1h0M170.4 498.1h0M169.6 495.2h0M175.3 500.5h0M172.5 481.0h0M168.3 485.2h0M169.1 482.6h0M171.5 482.6h0M166.8 487.9h0M175.7 483.8h0M164.1 488.6h0M165.6 484.7h0M171.2 500.8h0M166.2 481.3h0M176.6 490.7h0M166.8 489.1h0M163.9 482.3h0M168.0 491.8h0M167.8 484.1h0M173.2 500.1h0M162.6 495.4h0M163.2 486.5h0M166.7 485.5h0M170.4 498.7h0M171.7 484.9h0M171.6 496.4h0M166.8 494.5h0M160.9 492.7h0M172.8 490.9h0M169.0 495.5h0M161.9 498.4h0M173.7 498.0h0M160.0 495.7h0M158.7 487.0h0M176.3 482.6h0M170.1 487.3h0M178.1 498.1h0M170.5 493.7h0M162.8 485.3h0M173.0 497.5h0M162.9 495.1h0M166.8 494.2h0M165.6 485.6h0M176.6 482.3h0M179.2 493.2h0M169.0 484.8h0" stroke-width="0.39" opacity="0.65"/></g>
<clipPath id="pc106"><circle cx="193.1" cy="491.0" r="11.4"/></clipPath>
<circle cx="193.10" cy="491.00" r="11.40" fill="#e2def6" stroke="#c8c4ec" stroke-width="0.7"/>
<circle cx="193.10" cy="491.00" r="11.10" fill="url(#pg)" stroke="none" stroke-width="1"/>
<g clip-path="url(#pc106)" fill="none" stroke="#6050d0" stroke-linecap="round"><path d="M190.6 481.0l-1.4 1.3M194.2 488.7l0.9 0.9M197.2 500.9l-0.4 -0.1M188.0 483.6l0.7 -0.7M189.1 491.4l-0.7 -0.0" stroke-width="1.17" opacity="0.56"/><path d="M199.1 494.0h0M195.0 486.6h0M191.1 491.9h0M192.8 487.4h0M197.2 500.0h0M185.2 494.0h0M186.9 485.9h0M189.1 493.0h0M196.3 495.0h0M193.3 497.5h0M197.2 487.7h0M197.1 495.3h0M200.1 498.7h0M202.6 488.1h0M201.2 488.6h0M186.3 493.1h0M189.9 486.4h0M186.1 490.0h0M187.9 481.7h0M190.8 487.4h0M185.0 485.6h0M190.3 490.3h0M200.0 495.7h0M191.5 483.1h0M192.0 482.6h0M195.5 486.3h0M197.9 482.4h0M197.2 494.6h0M190.4 500.7h0M191.2 488.7h0M192.5 484.7h0M197.0 486.5h0M198.4 494.9h0M185.8 492.8h0M189.5 490.1h0M192.8 493.3h0M201.0 490.3h0M192.0 495.5h0M192.5 490.5h0M198.2 498.8h0M183.7 489.3h0M196.8 485.7h0M193.9 480.8h0M197.0 483.6h0M193.3 488.9h0M196.2 499.1h0M184.7 488.0h0M190.9 492.3h0M190.9 495.6h0M190.3 486.2h0M193.6 482.7h0M186.2 496.7h0M198.1 486.8h0M203.0 494.7h0M190.4 501.4h0M185.9 492.1h0M195.2 487.8h0M197.1 486.5h0M194.9 480.0h0M196.6 485.4h0M201.2 489.3h0M191.1 497.6h0M200.9 495.6h0M185.1 493.9h0M198.8 486.0h0M201.8 492.5h0M200.6 495.6h0M185.7 489.0h0M191.3 488.1h0M189.8 495.0h0M194.0 494.8h0M195.0 501.4h0M202.0 489.8h0M193.3 489.6h0M188.0 499.2h0M195.3 489.6h0M204.3 490.4h0M199.2 494.9h0M198.8 487.5h0M197.5 498.5h0M186.0 483.9h0M194.5 499.0h0M196.9 501.4h0M202.4 484.9h0M196.3 494.6h0M196.2 483.8h0M198.4 483.6h0M196.9 491.8h0M192.2 485.1h0M185.8 496.2h0M196.5 492.2h0M191.5 491.1h0M189.1 496.9h0M195.8 492.9h0M193.9 481.6h0M185.4 491.4h0M199.8 487.0h0M196.7 498.3h0M184.6 491.5h0M188.4 497.6h0M202.1 493.3h0M200.6 484.7h0M199.1 481.5h0M185.7 491.3h0M192.9 485.6h0" stroke-width="0.85" opacity="0.7"/><path d="M190.1 499.3h0M204.1 493.4h0M200.5 487.6h0M188.3 486.4h0M189.7 491.9h0M190.2 495.0h0M185.5 496.3h0M195.2 488.5h0M199.1 497.7h0M201.0 487.7h0M182.6 489.7h0M193.2 491.5h0M184.4 490.7h0M199.9 497.6h0M185.3 484.2h0M191.6 493.6h0M193.9 496.5h0M188.7 499.1h0M191.6 502.2h0M198.4 500.3h0M193.6 501.9h0M194.3 499.4h0M193.3 500.7h0M185.7 484.7h0M189.3 493.6h0M188.6 500.5h0M188.3 491.0h0M200.4 494.9h0M197.7 482.8h0M193.7 488.2h0M187.3 493.3h0M194.3 502.0h0M197.2 485.7h0M198.3 490.6h0M196.9 484.3h0M182.8 495.7h0M195.7 481.8h0M188.1 483.3h0M197.2 482.4h0M187.8 498.1h0M188.6 493.4h0M202.4 496.7h0M186.0 495.0h0M197.7 498.1h0M200.6 485.1h0M188.4 483.8h0M194.1 491.1h0M200.2 496.4h0M199.0 481.5h0M192.0 481.4h0M194.2 493.7h0M193.8 485.2h0M186.6 482.4h0M202.4 495.0h0M189.2 498.5h0M184.1 496.1h0M189.0 481.0h0M190.6 481.1h0M195.2 483.2h0M184.9 489.4h0M194.7 492.3h0M190.6 497.9h0M201.9 494.7h0M190.7 498.6h0M202.0 485.4h0M185.7 493.7h0M195.2 491.5h0M190.7 490.3h0M191.6 487.2h0M194.7 500.7h0M199.1 498.9h0M201.0 491.7h0M187.9 493.2h0M188.3 500.3h0M194.2 496.1h0M186.4 493.8h0M185.7 494.6h0M188.1 488.4h0M184.6 490.1h0M195.5 485.7h0M197.5 495.9h0M195.5 483.7h0M187.9 497.7h0M198.4 493.8h0M200.4 487.7h0M191.1 487.8h0M202.7 496.8h0M201.8 495.7h0M199.5 497.0h0M188.0 491.9h0M183.2 496.7h0M185.0 485.7h0M204.1 491.2h0M184.5 492.3h0M188.5 493.5h0M193.2 501.0h0M203.0 490.8h0M201.7 490.7h0M191.2 499.2h0M195.0 492.1h0M200.7 494.5h0M199.8 486.1h0M184.4 490.6h0M201.8 494.6h0M194.1 489.5h0" stroke-width="0.65" opacity="0.7"/><path d="M200.6 486.5h0M190.5 490.9h0M186.3 484.4h0M197.0 487.4h0M191.8 502.1h0M200.7 490.9h0M190.7 486.6h0M195.5 480.0h0M195.4 497.3h0M197.8 489.0h0M195.4 482.6h0M194.3 483.5h0M203.2 488.8h0M189.7 486.5h0M203.2 485.8h0M190.1 490.5h0M186.5 497.2h0M201.1 483.4h0M185.7 490.2h0M187.9 481.8h0M188.2 483.3h0M185.2 497.5h0M191.4 496.9h0M199.3 497.6h0M203.4 493.4h0M188.1 499.9h0M190.3 490.0h0M201.1 487.1h0M185.0 484.1h0M199.8 487.3h0M184.0 491.3h0M195.2 494.1h0M187.2 500.0h0M202.2 485.0h0M202.2 488.9h0M197.7 497.4h0M187.7 485.7h0M184.8 491.8h0M190.5 488.5h0M191.5 492.6h0M194.9 484.4h0M193.8 486.4h0M191.8 492.1h0M194.1 484.0h0M194.6 500.5h0M189.1 487.4h0M190.9 501.9h0M199.2 500.0h0M184.4 484.8h0M198.8 482.3h0M189.4 501.2h0M198.0 500.3h0M198.7 484.2h0M189.7 500.4h0M189.2 497.5h0M191.5 481.8h0M182.3 492.2h0M199.9 498.3h0M187.3 486.4h0M197.3 493.6h0M192.7 492.2h0M201.4 486.1h0M188.1 486.3h0M188.6 492.8h0M189.2 484.4h0M188.7 486.8h0M195.4 496.0h0M191.1 488.4h0M197.0 496.7h0M181.9 489.0h0M189.3 482.9h0M189.7 483.5h0M197.0 501.0h0M196.3 487.9h0M190.2 500.1h0M181.9 491.1h0M183.4 489.3h0M196.4 494.5h0M200.2 496.2h0M199.0 498.9h0M185.2 487.3h0M183.0 489.5h0M197.0 493.2h0M184.4 498.0h0M187.2 483.4h0M196.3 493.3h0M182.6 489.3h0M190.6 487.9h0M193.7 488.6h0M192.9 501.9h0" stroke-width="0.45" opacity="0.7"/></g>
<clipPath id="pc107"><circle cx="218.0" cy="491.0" r="11.4"/></clipPath>
<circle cx="218.00" cy="491.00" r="11.40" fill="#eae8f8" stroke="#ccc8ee" stroke-width="0.7"/>
<circle cx="218.00" cy="491.00" r="11.10" fill="url(#pg)" stroke="none" stroke-width="1"/>
<g clip-path="url(#pc107)" fill="none" stroke="#6a58d0" stroke-linecap="round"><path d="M218.2 499.7h0M227.1 489.4h0M211.7 491.7h0M225.4 499.7h0M218.2 485.3h0M210.0 485.6h0M223.0 487.7h0M216.1 495.5h0M208.7 485.1h0M217.6 486.8h0M215.8 493.3h0M222.2 497.8h0M221.4 495.9h0M218.3 498.4h0M221.4 486.6h0M212.5 486.3h0M216.4 497.0h0M219.9 480.7h0M216.8 480.3h0M217.2 484.8h0M218.9 499.5h0M210.2 484.6h0M226.5 485.3h0M227.3 489.6h0M213.8 481.7h0M207.8 491.2h0M223.8 485.2h0M214.1 496.9h0M211.5 485.4h0M210.9 491.2h0M217.3 481.6h0M228.3 486.7h0M225.2 491.6h0M217.6 482.7h0M213.7 487.1h0M210.0 498.0h0M212.9 481.6h0M227.5 485.6h0M225.2 482.8h0M226.8 484.4h0M211.8 494.8h0M208.6 494.3h0M227.3 489.7h0M215.1 492.4h0M220.0 493.2h0M218.1 491.2h0M212.9 494.7h0M222.2 489.6h0M227.0 496.9h0M225.2 487.1h0M211.6 489.4h0M213.2 494.7h0M227.0 497.7h0M225.1 483.2h0M223.4 498.3h0M226.9 494.6h0M226.1 494.8h0M224.1 500.5h0M224.3 487.1h0M226.8 486.1h0M222.6 500.5h0M222.1 487.0h0M214.9 485.5h0M225.6 492.3h0M224.8 498.7h0M216.3 485.7h0M215.6 492.7h0M212.5 497.9h0M223.4 481.2h0M212.5 485.7h0M224.2 484.9h0M220.6 484.7h0M221.9 487.8h0M213.7 494.3h0M211.6 497.3h0M220.1 490.1h0M213.4 488.4h0M222.2 482.1h0M229.0 488.8h0M214.5 486.3h0" stroke-width="0.72" opacity="0.65"/><path d="M216.5 483.5h0M217.6 494.7h0M223.9 486.3h0M221.4 495.1h0M219.8 493.0h0M217.9 483.2h0M215.9 497.2h0M216.8 499.1h0M215.2 489.8h0M208.7 496.3h0M216.1 483.0h0M212.8 494.8h0M221.8 496.0h0M219.6 492.4h0M226.3 498.8h0M220.3 490.4h0M215.7 494.1h0M212.8 498.2h0M218.5 498.6h0M221.7 498.3h0M221.8 496.2h0M212.9 494.1h0M208.0 491.6h0M208.4 495.2h0M222.7 499.4h0M223.3 481.2h0M215.6 485.1h0M214.7 482.6h0M210.9 496.2h0M219.0 491.3h0M222.5 501.0h0M223.7 491.7h0M219.1 480.4h0M211.0 495.1h0M223.1 487.6h0M222.7 494.7h0M216.9 484.6h0M215.2 489.6h0M223.2 481.1h0M221.6 488.4h0M228.4 488.5h0M219.1 498.3h0M221.7 496.8h0M218.4 487.5h0M212.5 482.5h0M222.3 492.5h0M220.1 480.9h0M215.5 501.4h0M217.2 490.0h0M217.4 486.2h0M212.6 499.8h0M228.3 492.0h0M212.5 498.0h0M215.7 499.3h0M219.3 499.6h0M209.7 494.2h0M227.8 491.1h0M219.6 501.2h0M208.8 492.4h0M214.3 492.6h0M227.6 489.7h0M227.2 489.4h0M211.8 494.6h0M220.6 480.9h0M218.9 485.8h0M217.6 498.1h0M222.9 492.2h0M215.0 494.3h0M219.2 499.4h0M215.7 484.9h0M218.9 489.7h0M222.7 492.5h0M219.0 485.7h0M217.7 484.7h0M220.5 483.5h0M221.6 501.3h0M228.9 491.0h0M209.8 494.0h0M216.7 501.3h0M211.6 496.7h0" stroke-width="0.55" opacity="0.65"/><path d="M208.6 485.2h0M211.1 493.5h0M221.6 489.2h0M224.0 493.1h0M228.6 493.6h0M207.6 491.3h0M225.2 493.6h0M218.3 490.2h0M219.5 480.0h0M220.4 487.4h0M209.9 491.4h0M207.6 492.2h0M216.1 495.6h0M225.8 487.7h0M213.7 483.8h0M215.0 488.5h0M221.3 493.8h0M215.3 491.9h0M220.7 487.6h0M223.1 483.0h0M220.5 496.4h0M210.4 482.6h0M214.1 495.0h0M221.7 500.5h0M219.8 493.2h0M213.1 482.5h0M220.9 498.6h0M225.2 491.1h0M226.5 492.7h0M210.8 495.4h0M224.1 486.9h0M218.4 493.9h0M209.4 488.6h0M219.2 483.7h0M211.4 496.5h0M217.2 484.8h0M215.5 501.3h0M220.3 495.2h0M210.2 493.7h0M215.3 500.9h0M222.1 497.9h0M223.1 490.6h0M227.9 493.4h0M218.0 486.9h0M220.9 492.9h0M213.8 490.6h0M219.5 485.4h0M211.0 483.9h0M218.1 492.5h0M223.7 495.2h0M222.7 484.3h0M213.5 497.8h0M214.8 486.4h0M223.8 482.1h0M213.7 488.7h0M220.0 486.0h0M209.8 485.9h0M217.3 494.6h0M215.1 493.1h0M226.9 486.3h0M212.6 489.5h0M212.0 499.8h0M224.2 482.3h0M222.6 495.6h0M214.9 481.3h0M222.8 498.9h0M224.8 486.7h0M220.8 489.0h0M214.1 480.8h0" stroke-width="0.39" opacity="0.65"/></g>
<clipPath id="pc108"><circle cx="243.0" cy="491.0" r="11.4"/></clipPath>
<circle cx="243.00" cy="491.00" r="11.40" fill="#eeeef9" stroke="#dcdcf2" stroke-width="0.7"/>
<circle cx="243.00" cy="491.00" r="11.10" fill="url(#pg)" stroke="none" stroke-width="1"/>
<g clip-path="url(#pc108)" fill="none" stroke="#a0a0dc" stroke-linecap="round"><path d="M250.0 498.5h0M248.2 486.2h0M242.2 496.0h0M247.6 493.6h0" stroke-width="0.65" opacity="0.6"/><path d="M246.1 501.1h0M244.8 495.6h0M252.8 486.2h0M248.2 494.9h0" stroke-width="0.50" opacity="0.6"/><path d="M250.1 490.5h0M236.4 484.2h0M241.4 488.9h0" stroke-width="0.35" opacity="0.6"/></g>
<text x="170.00" y="510.52" font-size="7.0" text-anchor="middle">-</text>
<text x="192.40" y="510.52" font-size="7.0" text-anchor="middle">+</text>
<text x="218.00" y="510.52" font-size="7.0" text-anchor="middle">-</text>
<text x="244.70" y="510.52" font-size="7.0" text-anchor="middle">+</text>
<line x1="171.40" y1="513.00" x2="191.00" y2="513.00" stroke="#666" stroke-width="1.4"/>
<line x1="219.70" y1="513.00" x2="239.60" y2="513.00" stroke="#666" stroke-width="1.4"/>
<text x="181.90" y="522.41" font-size="7.8" text-anchor="middle" textLength="33.80" lengthAdjust="spacingAndGlyphs">C3-2RNF4</text>
<text x="229.40" y="522.41" font-size="7.8" text-anchor="middle" textLength="35.80" lengthAdjust="spacingAndGlyphs">E8-2RNF4</text>
<line x1="298.20" y1="412.90" x2="298.20" y2="477.90" stroke="#000" stroke-width="1.0"/>
<line x1="295.80" y1="477.50" x2="298.20" y2="477.50" stroke="#000" stroke-width="0.9"/>
<text x="295.00" y="479.16" font-size="4.6" text-anchor="end" font-weight="bold" fill="#222">0</text>
<line x1="295.80" y1="461.48" x2="298.20" y2="461.48" stroke="#000" stroke-width="0.9"/>
<text x="295.00" y="463.13" font-size="4.6" text-anchor="end" font-weight="bold" fill="#222">100</text>
<line x1="295.80" y1="445.45" x2="298.20" y2="445.45" stroke="#000" stroke-width="0.9"/>
<text x="295.00" y="447.11" font-size="4.6" text-anchor="end" font-weight="bold" fill="#222">200</text>
<line x1="295.80" y1="429.42" x2="298.20" y2="429.42" stroke="#000" stroke-width="0.9"/>
<text x="295.00" y="431.08" font-size="4.6" text-anchor="end" font-weight="bold" fill="#222">300</text>
<line x1="295.80" y1="413.40" x2="298.20" y2="413.40" stroke="#000" stroke-width="0.9"/>
<text x="295.00" y="415.06" font-size="4.6" text-anchor="end" font-weight="bold" fill="#222">400</text>
<line x1="311.00" y1="477.50" x2="311.00" y2="479.90" stroke="#000" stroke-width="0.9"/>
<path d="M305.60,477.50 V433.43 H316.40 V477.50" fill="#fff" stroke="#000" stroke-width="1.9"/>
<line x1="311.00" y1="431.83" x2="311.00" y2="435.03" stroke="#000" stroke-width="0.8"/>
<line x1="308.80" y1="431.83" x2="313.20" y2="431.83" stroke="#000" stroke-width="0.8"/>
<circle cx="311.00" cy="431.03" r="1.55" fill="#000" stroke="none" stroke-width="1"/>
<circle cx="311.00" cy="435.03" r="1.55" fill="#000" stroke="none" stroke-width="1"/>
<circle cx="313.90" cy="433.43" r="1.55" fill="#000" stroke="none" stroke-width="1"/>
<line x1="334.60" y1="477.50" x2="334.60" y2="479.90" stroke="#000" stroke-width="0.9"/>
<path d="M329.20,477.50 V429.42 H340.00 V477.50" fill="#fff" stroke="#a8a8a8" stroke-width="1.9"/>
<line x1="334.60" y1="428.62" x2="334.60" y2="430.23" stroke="#a8a8a8" stroke-width="0.8"/>
<line x1="332.40" y1="428.62" x2="336.80" y2="428.62" stroke="#a8a8a8" stroke-width="0.8"/>
<circle cx="334.60" cy="427.82" r="1.35" fill="#fff" stroke="#a8a8a8" stroke-width="0.7"/>
<circle cx="337.50" cy="429.42" r="1.35" fill="#fff" stroke="#a8a8a8" stroke-width="0.7"/>
<circle cx="331.70" cy="428.62" r="1.35" fill="#fff" stroke="#a8a8a8" stroke-width="0.7"/>
<line x1="358.30" y1="477.50" x2="358.30" y2="479.90" stroke="#000" stroke-width="0.9"/>
<path d="M352.90,477.50 V420.61 H363.70 V477.50" fill="#fff" stroke="#b0262a" stroke-width="1.9"/>
<line x1="358.30" y1="418.69" x2="358.30" y2="422.53" stroke="#b0262a" stroke-width="0.8"/>
<line x1="356.10" y1="418.69" x2="360.50" y2="418.69" stroke="#b0262a" stroke-width="0.8"/>
<circle cx="358.30" cy="416.60" r="1.55" fill="#b0262a" stroke="none" stroke-width="1"/>
<circle cx="361.20" cy="418.21" r="1.55" fill="#b0262a" stroke="none" stroke-width="1"/>
<circle cx="358.30" cy="424.62" r="1.55" fill="#b0262a" stroke="none" stroke-width="1"/>
<line x1="381.80" y1="477.50" x2="381.80" y2="479.90" stroke="#000" stroke-width="0.9"/>
<path d="M376.40,477.50 V460.67 H387.20 V477.50" fill="#fff" stroke="#ef8e8e" stroke-width="1.9"/>
<line x1="381.80" y1="459.39" x2="381.80" y2="461.96" stroke="#ef8e8e" stroke-width="0.8"/>
<line x1="379.60" y1="459.39" x2="384.00" y2="459.39" stroke="#ef8e8e" stroke-width="0.8"/>
<circle cx="381.80" cy="458.59" r="1.55" fill="#ef8e8e" stroke="none" stroke-width="1"/>
<circle cx="384.70" cy="459.87" r="1.55" fill="#ef8e8e" stroke="none" stroke-width="1"/>
<circle cx="378.90" cy="461.48" r="1.55" fill="#ef8e8e" stroke="none" stroke-width="1"/>
<line x1="297.80" y1="477.50" x2="392.70" y2="477.50" stroke="#222" stroke-width="1.1"/>
<text x="345.65" y="401.88" font-size="8.0" text-anchor="middle" textLength="16.90" lengthAdjust="spacingAndGlyphs">IM95</text>
<text x="280.30" y="446.14" font-size="7.6" text-anchor="middle" textLength="52.50" lengthAdjust="spacingAndGlyphs" transform="rotate(-90 280.30 443.40)">Colony number</text>
<line x1="310.50" y1="422.40" x2="334.50" y2="422.40" stroke="#444" stroke-width="0.8"/>
<line x1="310.50" y1="420.90" x2="310.50" y2="423.90" stroke="#444" stroke-width="0.8"/>
<line x1="334.50" y1="420.90" x2="334.50" y2="423.90" stroke="#444" stroke-width="0.8"/>
<text x="323.80" y="420.58" font-size="8.0" text-anchor="middle" textLength="7.60" lengthAdjust="spacingAndGlyphs">ns</text>
<line x1="358.30" y1="412.20" x2="380.50" y2="412.20" stroke="#444" stroke-width="0.8"/>
<line x1="358.30" y1="410.70" x2="358.30" y2="413.70" stroke="#444" stroke-width="0.8"/>
<line x1="380.50" y1="410.70" x2="380.50" y2="413.70" stroke="#444" stroke-width="0.8"/>
<text x="369.10" y="408.84" font-size="6.5" text-anchor="middle" textLength="25.80" lengthAdjust="spacingAndGlyphs"><tspan font-style="italic">P</tspan>&lt;0.0001</text>
<clipPath id="pc109"><circle cx="313.0" cy="491.5" r="11.4"/></clipPath>
<circle cx="313.00" cy="491.50" r="11.40" fill="#d6d6f2" stroke="#c0c0e8" stroke-width="0.7"/>
<circle cx="313.00" cy="491.50" r="11.10" fill="url(#pg)" stroke="none" stroke-width="1"/>
<g clip-path="url(#pc109)" fill="none" stroke="#4a40c0" stroke-linecap="round"><path d="M311.6 499.1h0M309.5 490.4h0M301.9 491.3h0M305.4 488.3h0M314.9 484.1h0M311.4 501.8h0M318.4 500.8h0M319.3 485.9h0M310.1 491.2h0M317.6 500.4h0M311.8 482.6h0M319.3 498.9h0M323.6 490.8h0M309.2 484.9h0M309.0 493.6h0M323.8 494.3h0M307.3 495.8h0M301.8 492.6h0M321.1 486.6h0M314.8 483.4h0M307.0 483.3h0M311.7 489.3h0M304.5 493.4h0M307.8 481.8h0M314.5 484.3h0M303.0 492.8h0M313.3 484.7h0M305.9 496.9h0M303.7 491.8h0M317.5 485.7h0M308.5 489.1h0M316.7 482.7h0M307.8 487.4h0M317.8 494.5h0M312.2 501.5h0M303.7 486.6h0M318.3 489.0h0M318.5 499.5h0M303.7 496.1h0M307.9 493.3h0M322.2 488.1h0M315.8 482.4h0M323.2 488.3h0M315.9 492.8h0M322.5 494.0h0M303.4 491.6h0M316.9 494.2h0M319.6 485.4h0M315.2 494.8h0M316.3 481.6h0M321.5 498.9h0M318.1 496.4h0M305.7 484.3h0M314.2 490.4h0M312.9 495.7h0M321.3 495.9h0M317.6 497.3h0M308.7 482.4h0M303.8 489.2h0" stroke-width="1.04" opacity="0.75"/><path d="M309.8 487.1h0M314.8 502.5h0M312.5 502.3h0M319.0 493.6h0M310.5 486.7h0M322.0 491.3h0M319.8 485.1h0M315.6 488.2h0M309.3 495.8h0M310.1 494.2h0M318.3 497.7h0M321.7 488.7h0M306.4 482.9h0M305.5 487.4h0M306.3 486.7h0M314.8 494.5h0M317.7 485.2h0M313.8 489.0h0M302.1 491.5h0M324.2 492.4h0M308.2 498.1h0M306.9 485.2h0M308.3 501.5h0M312.8 492.1h0M324.2 492.7h0M313.5 498.2h0M306.0 487.2h0M307.5 499.4h0M309.7 489.8h0M310.2 482.4h0M312.6 481.9h0M315.7 491.9h0M317.1 487.6h0M324.4 490.9h0M319.1 484.1h0M323.2 494.0h0M304.6 497.8h0M315.5 490.3h0M308.6 495.5h0M318.4 501.2h0M309.6 483.6h0M313.7 483.0h0M321.4 492.8h0M308.8 482.9h0M315.4 485.9h0M305.2 485.5h0M302.9 496.2h0M309.1 498.8h0M303.5 496.7h0M318.7 483.6h0M309.9 483.3h0M311.7 485.2h0M319.6 495.1h0M315.9 490.9h0M309.4 489.4h0M322.4 493.1h0M310.4 486.4h0M305.6 487.2h0M303.4 492.3h0" stroke-width="0.80" opacity="0.75"/><path d="M315.5 481.7h0M303.5 485.9h0M322.7 489.8h0M312.0 496.1h0M309.2 482.1h0M324.0 490.5h0M310.4 493.5h0M307.5 485.2h0M310.3 487.3h0M305.9 485.9h0M316.4 491.8h0M304.3 494.6h0M314.6 487.0h0M318.1 490.1h0M318.3 490.6h0M306.9 482.7h0M315.2 498.2h0M321.6 486.5h0M313.8 488.2h0M319.4 487.4h0M316.1 501.4h0M303.0 493.6h0M314.0 489.8h0M313.0 500.7h0M316.4 494.6h0M305.4 484.2h0M315.0 495.5h0M314.3 484.5h0M306.9 497.4h0M322.2 490.9h0M306.7 495.7h0M321.0 486.4h0M307.9 488.8h0M314.4 487.7h0M308.6 493.9h0M314.0 495.6h0M316.0 501.2h0M320.1 492.9h0M315.3 492.1h0M309.4 497.1h0M318.5 487.2h0M322.4 485.1h0M305.2 491.6h0M320.0 483.3h0M318.4 491.3h0M308.9 499.0h0M306.5 490.4h0M317.7 496.9h0M318.1 486.6h0M307.1 500.7h0M318.6 494.0h0" stroke-width="0.56" opacity="0.75"/></g>
<clipPath id="pc110"><circle cx="336.5" cy="491.5" r="11.4"/></clipPath>
<circle cx="336.50" cy="491.50" r="11.40" fill="#d6d6f2" stroke="#c0c0e8" stroke-width="0.7"/>
<circle cx="336.50" cy="491.50" r="11.10" fill="url(#pg)" stroke="none" stroke-width="1"/>
<g clip-path="url(#pc110)" fill="none" stroke="#4a40c0" stroke-linecap="round"><path d="M343.0 488.6h0M339.0 486.4h0M330.6 492.2h0M333.5 490.7h0M330.9 494.7h0M346.5 494.1h0M340.3 489.2h0M330.9 485.4h0M328.7 495.5h0M333.3 486.4h0M331.2 497.7h0M347.5 491.1h0M337.8 483.9h0M346.0 485.4h0M340.2 488.1h0M331.9 494.4h0M326.4 494.7h0M330.0 491.7h0M338.7 495.2h0M341.4 481.5h0M337.0 491.0h0M336.0 495.8h0M331.5 492.7h0M328.9 492.1h0M331.0 485.5h0M334.1 491.5h0M343.5 488.9h0M340.9 486.8h0M346.1 497.6h0M331.8 491.7h0M347.2 489.0h0M345.0 498.6h0M339.3 494.5h0M342.8 500.1h0M329.8 486.2h0M334.6 485.6h0M339.5 492.7h0M337.2 500.2h0M338.7 492.6h0M336.9 492.6h0M340.5 493.0h0M341.3 496.0h0M342.0 484.0h0M339.5 491.6h0M332.5 498.1h0M328.5 493.9h0M334.9 482.6h0M336.6 497.4h0M344.7 491.1h0M346.0 486.0h0M339.9 483.1h0M336.1 485.4h0M338.4 498.4h0M338.3 496.0h0M340.2 494.6h0M340.7 491.9h0M336.3 489.0h0M334.0 482.3h0M340.4 498.3h0" stroke-width="1.04" opacity="0.75"/><path d="M327.7 484.9h0M333.3 488.8h0M341.0 493.1h0M343.2 499.3h0M338.6 488.4h0M338.0 480.8h0M337.9 499.5h0M337.3 498.9h0M337.0 486.4h0M327.5 491.3h0M344.1 483.3h0M342.5 487.4h0M330.3 500.4h0M343.1 483.7h0M327.9 484.4h0M339.8 495.1h0M336.9 485.6h0M330.6 485.1h0M332.1 487.6h0M344.8 489.6h0M342.9 491.6h0M326.0 490.2h0M328.0 484.4h0M335.2 493.9h0M326.1 494.9h0M326.3 488.9h0M342.0 482.2h0M334.7 491.5h0M333.3 490.0h0M332.6 495.4h0M331.5 497.5h0M332.1 481.3h0M342.5 483.1h0M341.3 498.7h0M330.9 496.6h0M343.1 495.5h0M346.9 488.9h0M338.2 488.4h0M340.5 485.5h0M332.1 498.2h0M334.0 496.7h0M343.6 486.5h0M328.5 493.6h0M339.6 493.0h0M343.1 492.9h0M338.1 489.9h0M333.7 501.8h0M339.1 499.2h0M344.6 485.6h0M331.6 495.4h0M335.5 498.0h0M345.2 490.7h0M326.3 495.6h0M332.2 494.9h0M332.7 491.1h0M337.0 491.3h0M335.1 492.9h0M338.8 501.9h0M342.2 499.8h0" stroke-width="0.80" opacity="0.75"/><path d="M335.1 489.3h0M339.0 490.9h0M341.8 481.7h0M330.7 495.5h0M329.6 498.0h0M333.4 488.2h0M339.5 494.9h0M339.6 493.2h0M332.4 491.7h0M333.7 485.8h0M339.3 490.6h0M331.0 486.2h0M336.4 489.6h0M340.9 501.6h0M329.8 492.9h0M344.0 496.0h0M345.3 489.7h0M345.3 489.0h0M345.4 492.5h0M326.0 487.4h0M339.1 482.3h0M341.5 497.2h0M336.9 483.1h0M333.6 489.9h0M333.2 490.8h0M346.2 492.8h0M332.1 494.2h0M333.4 492.2h0M328.7 483.4h0M339.8 481.4h0M331.5 481.5h0M333.1 493.3h0M337.0 492.5h0M337.5 495.2h0M341.6 500.0h0M331.8 496.1h0M343.8 498.3h0M336.1 502.2h0M337.5 492.3h0M340.0 484.4h0M342.1 483.7h0M334.9 485.9h0M334.4 488.5h0M345.4 485.9h0M333.9 488.6h0M338.1 499.0h0M344.3 499.6h0M343.6 487.9h0M337.0 499.6h0M344.1 491.1h0M336.1 483.8h0" stroke-width="0.56" opacity="0.75"/></g>
<clipPath id="pc111"><circle cx="360.3" cy="491.5" r="11.4"/></clipPath>
<circle cx="360.30" cy="491.50" r="11.40" fill="#cacaee" stroke="#b8b8e4" stroke-width="0.7"/>
<circle cx="360.30" cy="491.50" r="11.10" fill="url(#pg)" stroke="none" stroke-width="1"/>
<g clip-path="url(#pc111)" fill="none" stroke="#3f35b8" stroke-linecap="round"><path d="M362.6 487.1l1.3 -0.0M353.5 496.6l-1.0 -0.9M355.7 494.0l0.5 -0.3M356.1 495.3l-0.8 0.6M365.5 487.8l0.9 -0.6M360.6 486.2l0.2 -0.3M366.8 484.6l-1.2 -1.2M355.4 492.7l-0.8 1.4" stroke-width="1.62" opacity="0.64"/><path d="M361.7 491.0h0M369.2 492.8h0M370.5 488.0h0M356.9 482.3h0M352.4 492.4h0M362.6 488.6h0M356.3 482.7h0M365.9 499.8h0M365.8 501.3h0M361.0 483.8h0M350.6 485.8h0M356.8 495.3h0M356.3 481.4h0M365.8 499.8h0M353.1 497.6h0M349.3 493.1h0M350.3 486.3h0M364.3 490.6h0M369.5 487.7h0M365.7 498.3h0M360.0 494.0h0M366.7 493.9h0M362.5 489.3h0M351.2 486.0h0M354.0 498.8h0M352.0 486.0h0M349.1 492.8h0M356.1 494.6h0M364.5 495.5h0M368.5 499.0h0M367.3 499.3h0M361.3 483.8h0M365.2 493.1h0M367.0 488.6h0M361.1 487.6h0M366.8 493.5h0M357.3 495.7h0M354.8 484.8h0M354.3 489.1h0M355.3 494.6h0M353.6 489.2h0M353.8 482.4h0M356.4 499.4h0M368.9 497.4h0M351.7 489.7h0M356.7 490.0h0M361.2 490.7h0M363.1 498.9h0M368.7 487.1h0M365.7 487.7h0M351.9 488.7h0M360.6 495.0h0M358.5 494.3h0M365.1 491.7h0M366.0 484.6h0M360.3 482.9h0M349.6 492.7h0M357.1 496.3h0M359.5 494.5h0M366.2 492.2h0M356.9 487.7h0M354.2 492.4h0M360.4 485.9h0M350.9 494.5h0M358.3 480.9h0M368.1 492.2h0M364.2 501.5h0M360.4 501.7h0M350.4 490.4h0M363.3 481.4h0M365.8 486.8h0M355.3 481.8h0M362.6 484.3h0M365.1 482.6h0M353.2 494.2h0M350.1 495.7h0M361.7 502.6h0M364.1 495.9h0M359.6 481.9h0M358.2 497.4h0M351.2 487.5h0M354.5 496.7h0M350.9 495.9h0M367.7 486.4h0M360.2 498.9h0M352.5 496.0h0M356.7 499.7h0M352.0 490.2h0M367.5 490.0h0M360.3 492.4h0M369.7 492.1h0M367.6 485.7h0M360.8 493.5h0M357.5 492.4h0M368.4 495.6h0M364.8 498.0h0M364.8 484.9h0M354.2 496.9h0" stroke-width="1.17" opacity="0.8"/><path d="M364.5 489.1h0M359.0 486.1h0M358.7 490.1h0M365.3 493.1h0M359.0 486.1h0M359.4 485.2h0M366.7 482.8h0M360.2 486.3h0M367.4 494.5h0M360.1 493.2h0M358.8 481.2h0M366.6 482.6h0M353.0 487.8h0M367.3 491.1h0M360.8 485.4h0M368.6 488.2h0M370.8 491.3h0M354.3 486.0h0M362.9 495.9h0M368.2 495.6h0M360.6 493.0h0M352.5 486.4h0M365.2 494.3h0M367.6 485.4h0M361.6 485.9h0M369.1 494.2h0M352.5 487.6h0M368.7 494.8h0M364.6 484.8h0M355.7 491.0h0M356.5 495.1h0M370.4 496.3h0M359.6 495.4h0M355.9 489.0h0M362.4 486.7h0M357.1 496.8h0M370.2 494.1h0M353.0 486.4h0M364.1 490.4h0M362.2 485.5h0M368.7 484.0h0M351.7 497.4h0M357.4 493.7h0M352.4 495.9h0M352.5 490.9h0M367.4 497.1h0M358.1 482.8h0M361.7 501.0h0M361.8 485.2h0M357.8 498.6h0M350.7 485.9h0M360.4 490.3h0M358.6 500.1h0M368.6 487.6h0M362.9 487.4h0M360.0 497.8h0M368.0 497.4h0M353.8 484.5h0M357.4 482.5h0M368.4 493.2h0M355.0 490.0h0M360.7 502.0h0M361.7 492.3h0M368.0 484.0h0M354.4 495.4h0M363.6 483.1h0M354.0 494.3h0M354.7 486.2h0M359.6 502.9h0M353.8 489.9h0M359.0 486.7h0M361.4 499.3h0M367.5 493.0h0M368.8 496.4h0M351.2 486.2h0M362.8 494.9h0M352.9 486.7h0M359.2 494.0h0M349.0 492.2h0M360.4 487.8h0M355.4 482.8h0M359.6 495.0h0M360.5 489.7h0M358.3 490.7h0M364.6 486.9h0M351.9 487.7h0M352.3 486.5h0M362.3 494.0h0M359.9 489.2h0M366.2 497.4h0M360.7 487.9h0M359.8 492.9h0M361.3 486.9h0M354.2 493.9h0M370.4 495.8h0M361.4 492.8h0M358.7 489.7h0M358.2 498.0h0" stroke-width="0.90" opacity="0.8"/><path d="M354.0 500.4h0M367.3 485.8h0M351.8 488.5h0M366.1 487.8h0M352.7 497.4h0M354.8 495.8h0M357.8 483.1h0M364.6 496.2h0M363.9 498.7h0M367.0 485.4h0M357.8 490.4h0M354.3 500.6h0M353.8 483.2h0M361.0 493.9h0M365.8 493.8h0M355.3 497.2h0M356.2 501.1h0M353.9 485.0h0M371.2 494.6h0M353.6 491.3h0M358.0 480.8h0M358.9 500.0h0M356.4 486.6h0M362.5 495.6h0M363.4 502.3h0M358.5 484.9h0M366.6 490.7h0M362.0 483.3h0M369.8 496.8h0M371.1 492.3h0M354.1 498.0h0M366.9 491.6h0M367.8 483.6h0M360.6 482.6h0M357.0 490.2h0M350.9 487.4h0M362.7 489.5h0M358.7 489.1h0M367.0 498.3h0M357.5 498.8h0M370.0 488.1h0M366.4 483.6h0M363.9 485.6h0M354.5 492.6h0M369.6 488.6h0M366.3 491.6h0M359.2 489.8h0M361.0 489.8h0M360.0 485.4h0M355.6 490.3h0M353.8 497.1h0M351.1 495.9h0M351.4 493.1h0M357.6 483.0h0M360.5 490.9h0M370.5 492.3h0M353.1 488.3h0M367.2 483.5h0M361.9 499.5h0M356.6 497.1h0M362.4 499.1h0M351.7 491.7h0M352.6 485.3h0M362.7 494.1h0M366.0 501.2h0M358.7 482.0h0M360.7 487.5h0M370.0 491.3h0M363.3 494.2h0M369.1 488.9h0M353.8 491.4h0M352.2 494.9h0M361.6 484.2h0M369.8 488.7h0M370.3 493.4h0M353.1 488.1h0M361.8 495.4h0M360.3 495.1h0M349.7 494.9h0M362.5 486.5h0M357.6 489.9h0M353.3 490.0h0M359.7 494.3h0M363.5 485.6h0" stroke-width="0.63" opacity="0.8"/></g>
<clipPath id="pc112"><circle cx="383.8" cy="491.5" r="11.4"/></clipPath>
<circle cx="383.80" cy="491.50" r="11.40" fill="#dcdcf5" stroke="#d0d0f0" stroke-width="0.7"/>
<circle cx="383.80" cy="491.50" r="11.10" fill="url(#pg)" stroke="none" stroke-width="1"/>
<g clip-path="url(#pc112)" fill="none" stroke="#a0a0dc" stroke-linecap="round"><path d="M374.6 492.6h0" stroke-width="0.65" opacity="0.6"/><path d="M376.8 485.0h0" stroke-width="0.50" opacity="0.6"/><path d="M391.9 485.8h0" stroke-width="0.35" opacity="0.6"/></g>
<text x="299.50" y="510.41" font-size="7.8" text-anchor="middle" textLength="15.40" lengthAdjust="spacingAndGlyphs">DOX</text>
<text x="314.80" y="510.12" font-size="7.0" text-anchor="middle">-</text>
<text x="337.30" y="510.12" font-size="7.0" text-anchor="middle">+</text>
<text x="363.40" y="510.12" font-size="7.0" text-anchor="middle">-</text>
<text x="386.40" y="510.12" font-size="7.0" text-anchor="middle">+</text>
<line x1="315.60" y1="512.50" x2="335.30" y2="512.50" stroke="#666" stroke-width="1.4"/>
<line x1="364.00" y1="512.50" x2="383.80" y2="512.50" stroke="#666" stroke-width="1.4"/>
<text x="325.70" y="521.81" font-size="7.8" text-anchor="middle" textLength="34.60" lengthAdjust="spacingAndGlyphs">C3-2RNF4</text>
<text x="374.50" y="521.81" font-size="7.8" text-anchor="middle" textLength="34.00" lengthAdjust="spacingAndGlyphs">E8-2RNF4</text>
<line x1="405.20" y1="412.90" x2="405.20" y2="477.90" stroke="#000" stroke-width="1.0"/>
<line x1="402.80" y1="477.50" x2="405.20" y2="477.50" stroke="#000" stroke-width="0.9"/>
<text x="402.00" y="479.16" font-size="4.6" text-anchor="end" font-weight="bold" fill="#222">0</text>
<line x1="402.80" y1="461.48" x2="405.20" y2="461.48" stroke="#000" stroke-width="0.9"/>
<text x="402.00" y="463.13" font-size="4.6" text-anchor="end" font-weight="bold" fill="#222">100</text>
<line x1="402.80" y1="445.45" x2="405.20" y2="445.45" stroke="#000" stroke-width="0.9"/>
<text x="402.00" y="447.11" font-size="4.6" text-anchor="end" font-weight="bold" fill="#222">200</text>
<line x1="402.80" y1="429.42" x2="405.20" y2="429.42" stroke="#000" stroke-width="0.9"/>
<text x="402.00" y="431.08" font-size="4.6" text-anchor="end" font-weight="bold" fill="#222">300</text>
<line x1="402.80" y1="413.40" x2="405.20" y2="413.40" stroke="#000" stroke-width="0.9"/>
<text x="402.00" y="415.06" font-size="4.6" text-anchor="end" font-weight="bold" fill="#222">400</text>
<line x1="418.00" y1="477.50" x2="418.00" y2="479.90" stroke="#000" stroke-width="0.9"/>
<path d="M412.60,477.50 V432.63 H423.40 V477.50" fill="#fff" stroke="#000" stroke-width="1.9"/>
<line x1="418.00" y1="431.35" x2="418.00" y2="433.91" stroke="#000" stroke-width="0.8"/>
<line x1="415.80" y1="431.35" x2="420.20" y2="431.35" stroke="#000" stroke-width="0.8"/>
<circle cx="418.00" cy="430.71" r="1.55" fill="#000" stroke="none" stroke-width="1"/>
<circle cx="420.90" cy="432.31" r="1.55" fill="#000" stroke="none" stroke-width="1"/>
<circle cx="415.10" cy="433.43" r="1.55" fill="#000" stroke="none" stroke-width="1"/>
<line x1="441.80" y1="477.50" x2="441.80" y2="479.90" stroke="#000" stroke-width="0.9"/>
<path d="M436.40,477.50 V434.23 H447.20 V477.50" fill="#fff" stroke="#a8a8a8" stroke-width="1.9"/>
<line x1="441.80" y1="431.35" x2="441.80" y2="437.12" stroke="#a8a8a8" stroke-width="0.8"/>
<line x1="439.60" y1="431.35" x2="444.00" y2="431.35" stroke="#a8a8a8" stroke-width="0.8"/>
<circle cx="441.80" cy="430.23" r="1.35" fill="#fff" stroke="#a8a8a8" stroke-width="0.7"/>
<circle cx="444.70" cy="431.83" r="1.35" fill="#fff" stroke="#a8a8a8" stroke-width="0.7"/>
<circle cx="441.80" cy="436.64" r="1.35" fill="#fff" stroke="#a8a8a8" stroke-width="0.7"/>
<line x1="465.30" y1="477.50" x2="465.30" y2="479.90" stroke="#000" stroke-width="0.9"/>
<path d="M459.90,477.50 V426.54 H470.70 V477.50" fill="#fff" stroke="#b0262a" stroke-width="1.9"/>
<line x1="465.30" y1="422.53" x2="465.30" y2="430.55" stroke="#b0262a" stroke-width="0.8"/>
<line x1="463.10" y1="422.53" x2="467.50" y2="422.53" stroke="#b0262a" stroke-width="0.8"/>
<circle cx="465.30" cy="419.81" r="1.55" fill="#b0262a" stroke="none" stroke-width="1"/>
<circle cx="465.30" cy="426.22" r="1.55" fill="#b0262a" stroke="none" stroke-width="1"/>
<circle cx="465.30" cy="432.63" r="1.55" fill="#b0262a" stroke="none" stroke-width="1"/>
<line x1="489.10" y1="477.50" x2="489.10" y2="479.90" stroke="#000" stroke-width="0.9"/>
<path d="M483.70,477.50 V475.90 H494.50 V477.50" fill="#fff" stroke="#ef8e8e" stroke-width="1.9"/>
<line x1="489.10" y1="475.42" x2="489.10" y2="476.38" stroke="#ef8e8e" stroke-width="0.8"/>
<line x1="486.90" y1="475.42" x2="491.30" y2="475.42" stroke="#ef8e8e" stroke-width="0.8"/>
<circle cx="489.10" cy="475.58" r="1.55" fill="#ef8e8e" stroke="none" stroke-width="1"/>
<circle cx="493.30" cy="475.90" r="1.55" fill="#ef8e8e" stroke="none" stroke-width="1"/>
<circle cx="484.90" cy="476.22" r="1.55" fill="#ef8e8e" stroke="none" stroke-width="1"/>
<line x1="404.80" y1="477.50" x2="501.00" y2="477.50" stroke="#222" stroke-width="1.1"/>
<text x="450.15" y="401.88" font-size="8.0" text-anchor="middle" textLength="16.30" lengthAdjust="spacingAndGlyphs">AGS</text>
<line x1="417.00" y1="422.90" x2="441.70" y2="422.90" stroke="#444" stroke-width="0.8"/>
<line x1="417.00" y1="421.40" x2="417.00" y2="424.40" stroke="#444" stroke-width="0.8"/>
<line x1="441.70" y1="421.40" x2="441.70" y2="424.40" stroke="#444" stroke-width="0.8"/>
<text x="429.95" y="420.58" font-size="8.0" text-anchor="middle" textLength="8.10" lengthAdjust="spacingAndGlyphs">ns</text>
<line x1="464.70" y1="413.00" x2="487.70" y2="413.00" stroke="#444" stroke-width="0.8"/>
<line x1="464.70" y1="411.50" x2="464.70" y2="414.50" stroke="#444" stroke-width="0.8"/>
<line x1="487.70" y1="411.50" x2="487.70" y2="414.50" stroke="#444" stroke-width="0.8"/>
<text x="476.10" y="409.34" font-size="6.5" text-anchor="middle" textLength="26.20" lengthAdjust="spacingAndGlyphs"><tspan font-style="italic">P</tspan>=0.0003</text>
<clipPath id="pc113"><circle cx="416.2" cy="491.5" r="11.4"/></clipPath>
<circle cx="416.20" cy="491.50" r="11.40" fill="#d2d2f0" stroke="#bcbce6" stroke-width="0.7"/>
<circle cx="416.20" cy="491.50" r="11.10" fill="url(#pg)" stroke="none" stroke-width="1"/>
<g clip-path="url(#pc113)" fill="none" stroke="#4038c0" stroke-linecap="round"><path d="M426.1 493.4l0.7 -1.4M411.2 489.9l1.1 1.1M413.5 499.4l-0.0 -0.7" stroke-width="1.53" opacity="0.62"/><path d="M409.7 494.4h0M405.3 493.8h0M415.9 489.3h0M409.5 500.5h0M416.8 482.6h0M410.5 484.0h0M419.9 497.7h0M415.3 496.4h0M415.4 489.5h0M420.3 500.2h0M421.1 487.6h0M422.5 483.2h0M422.4 500.5h0M420.1 498.3h0M419.2 493.3h0M410.8 482.5h0M421.2 495.7h0M409.5 485.9h0M422.3 498.8h0M424.9 498.3h0M411.6 483.5h0M421.1 488.9h0M418.9 500.1h0M424.9 484.7h0M418.7 483.0h0M409.8 499.3h0M409.2 483.5h0M416.5 483.5h0M413.1 487.4h0M414.1 501.2h0M415.7 489.7h0M418.3 498.6h0M410.1 488.6h0M408.4 499.4h0M410.5 496.5h0M422.2 489.1h0M411.6 490.7h0M422.2 483.1h0M416.9 500.5h0M416.8 501.9h0M410.1 491.7h0M424.0 490.1h0M405.9 487.1h0M414.2 498.9h0M421.9 487.7h0M421.8 484.5h0M424.5 489.0h0M422.3 486.3h0M417.3 498.1h0M407.3 492.0h0M409.6 493.3h0M415.4 499.6h0M412.8 483.1h0M421.8 492.8h0M412.6 484.4h0M413.9 499.9h0M424.0 493.7h0M422.5 488.9h0M421.5 499.3h0M411.0 487.5h0M416.2 492.1h0M424.5 497.4h0M407.2 496.9h0M425.8 489.6h0M413.8 494.5h0M420.2 489.0h0M420.9 497.2h0M415.4 497.5h0M417.4 493.8h0M427.0 493.4h0M422.3 495.8h0M410.8 484.8h0M424.0 483.5h0M410.3 486.9h0M411.8 486.3h0M419.7 498.6h0M410.6 491.3h0M409.5 493.5h0M426.1 496.8h0M407.8 489.8h0" stroke-width="1.10" opacity="0.78"/><path d="M421.6 494.7h0M426.5 494.5h0M411.2 485.1h0M413.7 484.4h0M404.9 490.1h0M423.4 497.5h0M411.9 494.1h0M420.4 499.1h0M425.1 496.6h0M410.7 494.6h0M409.5 494.4h0M410.3 493.7h0M411.4 494.8h0M416.3 482.8h0M412.1 496.7h0M410.2 501.0h0M410.7 481.9h0M423.7 485.4h0M411.3 487.2h0M413.2 489.2h0M406.8 493.2h0M408.2 491.2h0M411.3 484.3h0M408.3 488.2h0M409.7 496.9h0M425.1 491.5h0M417.7 500.7h0M423.8 495.1h0M413.8 499.0h0M421.7 483.5h0M420.6 484.1h0M424.4 483.7h0M419.9 487.7h0M420.9 496.1h0M411.1 489.7h0M424.4 491.1h0M420.2 490.6h0M424.3 492.3h0M418.6 485.9h0M420.0 490.7h0M426.5 486.8h0M414.7 482.4h0M413.1 486.5h0M425.5 492.1h0M415.6 484.6h0M414.0 494.0h0M425.3 495.6h0M408.3 497.1h0M417.6 490.2h0M427.1 492.8h0M417.3 496.5h0M406.4 491.3h0M406.8 486.9h0M419.3 491.0h0M413.2 486.3h0M417.0 481.7h0M423.6 488.1h0M416.0 501.7h0M425.9 490.9h0M410.7 485.1h0M411.8 482.8h0M412.9 486.8h0M408.3 492.4h0M416.2 500.7h0M408.7 483.7h0M407.0 493.3h0M424.4 485.9h0M414.0 483.3h0M419.4 493.2h0M408.7 494.3h0M424.3 493.5h0M422.0 493.9h0M413.6 497.5h0M420.0 492.9h0M419.2 485.9h0M410.7 489.9h0M419.9 496.0h0M420.6 492.9h0M417.7 494.9h0M414.3 481.1h0" stroke-width="0.85" opacity="0.78"/><path d="M414.2 495.9h0M418.8 499.1h0M415.0 501.8h0M418.0 498.6h0M419.0 492.4h0M414.7 488.8h0M415.3 492.6h0M418.1 502.3h0M420.8 489.4h0M422.4 482.3h0M408.6 491.4h0M419.4 488.2h0M420.0 499.0h0M408.3 492.4h0M425.9 489.0h0M426.0 492.1h0M416.7 495.0h0M412.1 498.7h0M411.6 497.8h0M421.3 487.0h0M423.1 488.2h0M421.6 485.7h0M411.3 494.6h0M408.8 499.5h0M412.0 500.8h0M415.8 489.3h0M411.5 487.5h0M426.3 493.1h0M414.7 492.8h0M413.5 497.3h0M416.1 496.1h0M406.2 491.4h0M413.7 497.3h0M424.5 490.4h0M418.2 497.0h0M412.2 485.5h0M407.0 492.4h0M411.6 486.1h0M416.0 493.2h0M419.7 496.0h0M417.8 482.2h0M414.1 491.5h0M418.8 489.0h0M418.1 482.6h0M407.7 487.2h0M412.0 491.5h0M409.2 485.1h0M416.5 493.9h0M418.7 481.9h0M406.8 488.6h0M407.1 497.2h0M417.8 482.0h0M422.4 493.5h0M411.5 488.3h0M412.0 491.3h0M408.1 484.1h0M412.7 486.2h0M422.9 484.4h0M418.8 496.7h0M418.2 487.4h0M412.8 490.3h0M419.8 483.3h0M425.9 493.0h0M407.6 491.3h0M409.2 499.6h0M423.1 483.0h0M412.5 485.0h0M421.3 498.6h0M423.9 487.3h0" stroke-width="0.59" opacity="0.78"/></g>
<clipPath id="pc114"><circle cx="440.7" cy="491.5" r="11.4"/></clipPath>
<circle cx="440.70" cy="491.50" r="11.40" fill="#d6d6f2" stroke="#c0c0e8" stroke-width="0.7"/>
<circle cx="440.70" cy="491.50" r="11.10" fill="url(#pg)" stroke="none" stroke-width="1"/>
<g clip-path="url(#pc114)" fill="none" stroke="#4a40c0" stroke-linecap="round"><path d="M440.9 495.1h0M437.9 486.6h0M437.5 488.4h0M450.0 490.4h0M439.9 494.3h0M446.3 482.3h0M438.8 494.7h0M451.4 490.0h0M437.0 492.4h0M440.8 480.3h0M438.5 498.1h0M447.4 484.3h0M448.5 487.0h0M442.0 502.5h0M444.6 481.6h0M437.5 496.9h0M451.5 489.7h0M443.3 493.4h0M446.9 498.4h0M440.7 496.2h0M429.6 490.1h0M437.5 491.9h0M444.7 496.3h0M438.1 496.0h0M446.5 494.8h0M441.7 496.6h0M448.1 495.9h0M441.0 484.7h0M446.4 496.2h0M444.4 493.4h0M439.9 502.3h0M448.2 494.3h0M447.5 492.1h0M451.1 490.2h0M435.0 492.6h0M440.0 499.9h0M435.3 493.7h0M450.5 493.7h0M451.9 491.4h0M433.5 491.2h0M449.1 499.1h0M437.9 492.7h0M449.7 489.8h0M440.3 483.2h0M443.0 501.4h0M440.5 483.4h0M445.2 489.7h0M449.1 489.3h0M448.7 498.2h0M447.4 483.6h0M432.5 494.8h0M433.1 485.6h0M437.3 493.5h0M437.2 497.3h0M445.3 492.8h0M436.7 484.3h0M444.6 501.2h0M441.0 491.6h0M434.7 482.5h0" stroke-width="1.04" opacity="0.75"/><path d="M446.4 484.4h0M435.2 493.2h0M449.3 488.0h0M444.1 501.6h0M440.4 480.3h0M435.2 496.7h0M435.2 488.6h0M437.5 502.0h0M445.5 481.9h0M440.9 482.3h0M450.7 494.1h0M443.6 500.1h0M437.6 487.4h0M440.0 488.4h0M448.5 497.7h0M437.1 498.7h0M435.2 485.2h0M446.9 483.3h0M440.5 495.1h0M429.8 493.0h0M441.3 501.6h0M430.0 494.6h0M445.5 493.2h0M442.3 480.3h0M450.8 488.2h0M438.8 499.6h0M448.5 491.7h0M437.2 491.6h0M444.9 501.3h0M431.6 489.5h0M447.1 482.5h0M446.0 489.8h0M438.3 489.4h0M441.1 498.5h0M444.6 492.6h0M434.1 483.6h0M437.4 494.7h0M438.1 487.9h0M442.0 490.3h0M442.4 502.3h0M439.1 485.3h0M449.0 495.4h0M438.1 492.1h0M443.9 489.8h0M441.2 483.6h0M438.8 488.5h0M448.1 482.9h0M447.5 491.8h0M435.1 485.1h0M446.5 485.6h0M434.4 501.0h0M437.7 500.0h0M440.0 492.9h0M433.9 488.5h0M451.0 492.7h0M435.9 482.8h0M431.7 491.5h0M440.7 499.5h0M434.5 486.4h0" stroke-width="0.80" opacity="0.75"/><path d="M433.5 491.6h0M442.8 496.1h0M439.0 502.6h0M444.0 497.2h0M446.6 494.4h0M438.6 486.0h0M447.7 490.1h0M448.2 499.0h0M437.6 498.6h0M444.0 486.0h0M441.6 488.8h0M435.4 492.8h0M446.5 488.2h0M442.9 482.1h0M447.5 499.9h0M439.7 484.8h0M451.2 495.0h0M438.5 491.1h0M437.2 495.4h0M441.5 500.8h0M433.6 486.5h0M443.7 488.0h0M439.5 483.6h0M431.1 495.7h0M438.3 484.7h0M450.1 495.5h0M440.5 481.1h0M450.1 486.0h0M432.6 494.3h0M435.3 484.3h0M440.9 488.0h0M433.5 489.9h0M435.7 495.6h0M443.5 502.1h0M430.7 486.2h0M432.5 496.2h0M434.2 485.5h0M439.9 491.4h0M436.9 501.1h0M442.2 488.2h0M446.7 497.1h0M443.9 487.8h0M440.8 501.7h0M439.5 489.6h0M440.9 494.9h0M439.0 488.4h0M436.8 490.2h0M441.9 495.6h0M433.7 485.9h0M447.8 494.5h0M435.5 497.7h0" stroke-width="0.56" opacity="0.75"/></g>
<clipPath id="pc115"><circle cx="465.5" cy="491.5" r="11.4"/></clipPath>
<circle cx="465.50" cy="491.50" r="11.40" fill="#cacaee" stroke="#b8b8e4" stroke-width="0.7"/>
<circle cx="465.50" cy="491.50" r="11.10" fill="url(#pg)" stroke="none" stroke-width="1"/>
<g clip-path="url(#pc115)" fill="none" stroke="#3f35b8" stroke-linecap="round"><path d="M469.3 488.6l-1.2 -1.2M465.8 481.5l1.5 0.5M459.8 484.6l-0.1 0.1M466.9 493.2l1.1 0.9M474.6 489.5l0.3 -1.0M470.9 485.7l1.1 0.8M467.4 483.1l0.9 -0.2M463.7 483.9l0.3 1.4" stroke-width="1.62" opacity="0.64"/><path d="M472.9 485.3h0M461.0 488.3h0M469.4 485.3h0M458.3 499.2h0M456.1 492.8h0M469.4 500.6h0M474.0 488.9h0M470.4 484.4h0M464.0 484.0h0M461.4 501.7h0M459.1 482.6h0M462.6 496.5h0M457.0 489.3h0M468.5 492.7h0M464.0 490.4h0M472.8 499.9h0M475.9 488.6h0M462.7 502.4h0M458.2 498.7h0M462.4 502.1h0M466.9 494.0h0M468.6 499.8h0M473.9 495.4h0M469.8 482.2h0M470.3 483.4h0M457.2 491.1h0M464.6 499.8h0M458.8 487.0h0M473.5 485.3h0M461.7 501.6h0M461.4 498.5h0M472.9 497.2h0M469.7 493.1h0M473.1 483.7h0M455.4 490.0h0M463.4 491.6h0M471.1 498.4h0M467.7 483.9h0M475.6 487.3h0M468.9 492.1h0M460.1 481.9h0M456.8 486.6h0M458.2 485.9h0M474.7 496.5h0M470.1 482.0h0M475.0 489.5h0M471.7 497.5h0M475.3 492.2h0M470.7 489.7h0M473.2 498.4h0M470.2 488.4h0M469.9 482.8h0M473.2 496.0h0M472.3 490.4h0M466.7 491.6h0M458.1 483.1h0M468.8 500.1h0M457.8 490.3h0M461.2 485.6h0M461.6 498.1h0M465.2 482.6h0M463.9 498.0h0M474.6 496.7h0M461.5 493.0h0M473.8 488.1h0M468.7 485.0h0M466.1 496.9h0M458.4 482.9h0M463.3 499.1h0M456.7 492.4h0M469.1 483.2h0M474.9 492.0h0M455.1 494.7h0M469.9 482.5h0M476.1 490.9h0M466.2 502.6h0M458.7 486.6h0M460.5 500.6h0M458.6 486.2h0M454.8 488.6h0M456.9 488.2h0M466.9 491.5h0M458.9 499.1h0M467.2 483.5h0M461.3 499.4h0M471.5 489.1h0M464.3 488.7h0M460.1 491.4h0M473.9 491.1h0M466.2 480.7h0M457.0 490.4h0M456.6 487.1h0M471.3 485.2h0M460.0 491.4h0M467.2 480.6h0M465.3 486.1h0M474.0 491.4h0M468.6 488.6h0" stroke-width="1.17" opacity="0.8"/><path d="M461.6 489.9h0M461.9 490.1h0M467.9 483.9h0M469.2 486.3h0M460.9 490.0h0M467.0 496.9h0M463.1 490.3h0M472.5 486.3h0M459.3 487.4h0M474.3 488.8h0M466.2 498.6h0M471.5 497.2h0M471.3 492.4h0M460.9 486.1h0M462.8 500.6h0M464.8 494.6h0M463.6 482.0h0M467.6 495.1h0M472.4 486.4h0M470.1 491.8h0M466.3 489.2h0M470.9 500.0h0M461.2 493.2h0M465.7 491.8h0M472.3 496.0h0M464.8 492.3h0M457.1 485.4h0M470.4 500.2h0M466.3 487.7h0M464.9 484.7h0M473.0 491.1h0M461.3 482.4h0M474.2 494.5h0M471.4 493.2h0M462.2 490.6h0M466.6 489.1h0M463.2 493.0h0M463.3 481.2h0M460.9 491.9h0M474.1 484.3h0M458.7 483.3h0M461.8 481.3h0M471.8 489.7h0M456.8 492.3h0M467.6 488.9h0M456.8 491.4h0M462.4 497.1h0M460.4 481.5h0M470.3 481.4h0M471.0 485.5h0M465.6 486.5h0M468.2 496.9h0M465.9 493.0h0M463.4 498.3h0M458.7 487.4h0M456.3 491.1h0M461.7 498.4h0M462.5 483.3h0M456.0 490.1h0M460.8 501.4h0M459.4 494.0h0M458.1 487.4h0M469.8 490.3h0M465.2 485.7h0M473.4 493.1h0M460.9 489.3h0M474.9 487.3h0M476.9 492.4h0M455.0 495.3h0M455.5 496.0h0M463.4 495.6h0M466.6 500.7h0M457.6 492.0h0M468.1 487.6h0M459.6 489.1h0M471.4 495.0h0M468.8 500.7h0M469.7 482.0h0M465.8 482.0h0M466.9 482.8h0M467.7 497.3h0M458.0 488.0h0M469.4 501.6h0M457.3 488.9h0M461.9 486.8h0M465.4 502.2h0M461.6 485.1h0M466.4 480.7h0M454.9 493.3h0M460.1 488.7h0M462.7 486.0h0M459.0 499.2h0M458.6 485.0h0M465.7 491.4h0M474.3 487.2h0M464.7 495.5h0M471.7 497.6h0M467.5 485.2h0" stroke-width="0.90" opacity="0.8"/><path d="M461.4 483.6h0M462.0 481.5h0M470.1 487.2h0M456.9 498.0h0M469.1 481.4h0M469.4 496.0h0M467.7 501.9h0M462.9 500.1h0M474.8 490.1h0M459.9 496.9h0M460.8 492.2h0M466.8 482.0h0M473.4 497.5h0M474.3 495.9h0M473.0 497.6h0M470.7 501.1h0M455.7 486.6h0M462.0 498.2h0M455.9 488.7h0M469.3 500.5h0M466.3 485.9h0M459.3 497.8h0M463.3 481.0h0M470.4 482.4h0M475.1 496.1h0M459.4 499.2h0M463.9 493.0h0M471.8 493.9h0M465.0 480.1h0M458.9 499.7h0M467.2 483.6h0M462.5 482.1h0M461.0 483.8h0M455.7 487.3h0M456.2 489.3h0M455.8 493.0h0M462.1 488.9h0M468.8 486.2h0M468.8 494.2h0M462.0 498.9h0M458.6 488.4h0M473.2 497.8h0M474.1 497.2h0M468.3 497.3h0M472.7 499.7h0M458.5 489.9h0M462.1 483.3h0M459.3 483.6h0M465.8 481.2h0M466.9 491.8h0M466.4 480.3h0M457.8 488.7h0M471.0 485.4h0M456.6 497.2h0M459.5 495.8h0M465.4 480.5h0M466.5 486.7h0M463.6 489.8h0M457.9 487.0h0M462.1 500.4h0M469.5 498.9h0M465.5 489.9h0M461.1 486.3h0M472.4 488.1h0M466.5 481.2h0M469.4 481.2h0M466.8 490.9h0M466.7 494.1h0M474.6 487.6h0M476.5 489.9h0M468.5 495.7h0M462.2 487.4h0M463.5 481.0h0M466.9 493.6h0M459.5 490.7h0M461.4 498.2h0M461.0 499.1h0M463.7 488.2h0M458.5 496.6h0M458.4 488.1h0M464.5 502.6h0M463.5 502.7h0M471.1 499.1h0M459.3 500.3h0" stroke-width="0.63" opacity="0.8"/></g>
<clipPath id="pc116"><circle cx="489.8" cy="491.5" r="11.4"/></clipPath>
<circle cx="489.80" cy="491.50" r="11.40" fill="#dcdcf5" stroke="#d0d0f0" stroke-width="0.7"/>
<circle cx="489.80" cy="491.50" r="11.10" fill="url(#pg)" stroke="none" stroke-width="1"/>
<g clip-path="url(#pc116)" fill="none" stroke="#a0a0dc" stroke-linecap="round"><path d="M493.6 483.5h0" stroke-width="0.65" opacity="0.6"/><path d="M489.6 490.5h0" stroke-width="0.50" opacity="0.6"/><path d="M483.9 483.7h0" stroke-width="0.35" opacity="0.6"/></g>
<text x="417.00" y="510.12" font-size="7.0" text-anchor="middle">-</text>
<text x="442.50" y="510.12" font-size="7.0" text-anchor="middle">+</text>
<text x="468.00" y="510.12" font-size="7.0" text-anchor="middle">-</text>
<text x="491.00" y="510.12" font-size="7.0" text-anchor="middle">+</text>
<line x1="418.20" y1="512.50" x2="437.40" y2="512.50" stroke="#666" stroke-width="1.4"/>
<line x1="467.30" y1="512.50" x2="487.20" y2="512.50" stroke="#666" stroke-width="1.4"/>
<text x="429.05" y="521.81" font-size="7.8" text-anchor="middle" textLength="34.50" lengthAdjust="spacingAndGlyphs">C3-2RNF4</text>
<text x="477.95" y="521.81" font-size="7.8" text-anchor="middle" textLength="33.90" lengthAdjust="spacingAndGlyphs">E8-2RNF4</text>
<line x1="547.00" y1="412.90" x2="547.00" y2="477.10" stroke="#000" stroke-width="1.0"/>
<line x1="544.60" y1="476.70" x2="547.00" y2="476.70" stroke="#000" stroke-width="0.9"/>
<text x="543.80" y="478.36" font-size="4.6" text-anchor="end" font-weight="bold" fill="#222">0</text>
<line x1="544.60" y1="464.04" x2="547.00" y2="464.04" stroke="#000" stroke-width="0.9"/>
<text x="543.80" y="465.70" font-size="4.6" text-anchor="end" font-weight="bold" fill="#222">5</text>
<line x1="544.60" y1="451.38" x2="547.00" y2="451.38" stroke="#000" stroke-width="0.9"/>
<text x="543.80" y="453.04" font-size="4.6" text-anchor="end" font-weight="bold" fill="#222">10</text>
<line x1="544.60" y1="438.72" x2="547.00" y2="438.72" stroke="#000" stroke-width="0.9"/>
<text x="543.80" y="440.38" font-size="4.6" text-anchor="end" font-weight="bold" fill="#222">15</text>
<line x1="544.60" y1="426.06" x2="547.00" y2="426.06" stroke="#000" stroke-width="0.9"/>
<text x="543.80" y="427.72" font-size="4.6" text-anchor="end" font-weight="bold" fill="#222">20</text>
<line x1="544.60" y1="413.40" x2="547.00" y2="413.40" stroke="#000" stroke-width="0.9"/>
<text x="543.80" y="415.06" font-size="4.6" text-anchor="end" font-weight="bold" fill="#222">25</text>
<line x1="559.50" y1="476.70" x2="559.50" y2="479.10" stroke="#000" stroke-width="0.9"/>
<path d="M554.10,476.70 V423.02 H564.90 V476.70" fill="#fff" stroke="#000" stroke-width="1.9"/>
<line x1="559.50" y1="422.26" x2="559.50" y2="423.78" stroke="#000" stroke-width="0.8"/>
<line x1="557.30" y1="422.26" x2="561.70" y2="422.26" stroke="#000" stroke-width="0.8"/>
<circle cx="559.50" cy="423.53" r="1.55" fill="#000" stroke="none" stroke-width="1"/>
<circle cx="562.40" cy="422.52" r="1.55" fill="#000" stroke="none" stroke-width="1"/>
<circle cx="555.30" cy="422.77" r="1.55" fill="#000" stroke="none" stroke-width="1"/>
<line x1="583.20" y1="476.70" x2="583.20" y2="479.10" stroke="#000" stroke-width="0.9"/>
<path d="M577.80,476.70 V428.59 H588.60 V476.70" fill="#fff" stroke="#a8a8a8" stroke-width="1.9"/>
<line x1="583.20" y1="425.55" x2="583.20" y2="431.63" stroke="#a8a8a8" stroke-width="0.8"/>
<line x1="581.00" y1="425.55" x2="585.40" y2="425.55" stroke="#a8a8a8" stroke-width="0.8"/>
<circle cx="583.20" cy="424.79" r="1.35" fill="#fff" stroke="#a8a8a8" stroke-width="0.7"/>
<circle cx="587.40" cy="424.79" r="1.35" fill="#fff" stroke="#a8a8a8" stroke-width="0.7"/>
<circle cx="583.20" cy="432.39" r="1.35" fill="#fff" stroke="#a8a8a8" stroke-width="0.7"/>
<line x1="607.10" y1="476.70" x2="607.10" y2="479.10" stroke="#000" stroke-width="0.9"/>
<path d="M601.70,476.70 V426.57 H612.50 V476.70" fill="#fff" stroke="#b0262a" stroke-width="1.9"/>
<line x1="607.10" y1="425.05" x2="607.10" y2="428.09" stroke="#b0262a" stroke-width="0.8"/>
<line x1="604.90" y1="425.05" x2="609.30" y2="425.05" stroke="#b0262a" stroke-width="0.8"/>
<circle cx="607.10" cy="424.03" r="1.55" fill="#b0262a" stroke="none" stroke-width="1"/>
<circle cx="607.10" cy="427.07" r="1.55" fill="#b0262a" stroke="none" stroke-width="1"/>
<circle cx="611.30" cy="427.07" r="1.55" fill="#b0262a" stroke="none" stroke-width="1"/>
<line x1="630.80" y1="476.70" x2="630.80" y2="479.10" stroke="#000" stroke-width="0.9"/>
<path d="M625.40,476.70 V466.57 H636.20 V476.70" fill="#fff" stroke="#ef8e8e" stroke-width="1.9"/>
<line x1="630.80" y1="465.81" x2="630.80" y2="467.33" stroke="#ef8e8e" stroke-width="0.8"/>
<line x1="628.60" y1="465.81" x2="633.00" y2="465.81" stroke="#ef8e8e" stroke-width="0.8"/>
<circle cx="630.80" cy="466.32" r="1.55" fill="#ef8e8e" stroke="none" stroke-width="1"/>
<circle cx="635.00" cy="466.57" r="1.55" fill="#ef8e8e" stroke="none" stroke-width="1"/>
<circle cx="626.60" cy="465.56" r="1.55" fill="#ef8e8e" stroke="none" stroke-width="1"/>
<line x1="546.60" y1="476.70" x2="642.90" y2="476.70" stroke="#222" stroke-width="1.1"/>
<text x="592.55" y="400.88" font-size="8.0" text-anchor="middle" textLength="46.30" lengthAdjust="spacingAndGlyphs">MDA-MB-231</text>
<text x="531.20" y="447.34" font-size="7.6" text-anchor="middle" textLength="78.00" lengthAdjust="spacingAndGlyphs" transform="rotate(-90 531.20 444.60)">Covered by spots ( % )</text>
<line x1="559.30" y1="414.70" x2="583.60" y2="414.70" stroke="#444" stroke-width="0.8"/>
<line x1="559.30" y1="413.20" x2="559.30" y2="416.20" stroke="#444" stroke-width="0.8"/>
<line x1="583.60" y1="413.20" x2="583.60" y2="416.20" stroke="#444" stroke-width="0.8"/>
<text x="571.90" y="412.58" font-size="8.0" text-anchor="middle" textLength="6.20" lengthAdjust="spacingAndGlyphs">ns</text>
<line x1="605.00" y1="419.00" x2="628.80" y2="419.00" stroke="#444" stroke-width="0.8"/>
<line x1="605.00" y1="417.50" x2="605.00" y2="420.50" stroke="#444" stroke-width="0.8"/>
<line x1="628.80" y1="417.50" x2="628.80" y2="420.50" stroke="#444" stroke-width="0.8"/>
<text x="617.55" y="415.04" font-size="6.5" text-anchor="middle" textLength="26.10" lengthAdjust="spacingAndGlyphs"><tspan font-style="italic">P</tspan>&lt;0.0001</text>
<clipPath id="pc117"><circle cx="559.0" cy="492.8" r="11.4"/></clipPath>
<circle cx="559.00" cy="492.80" r="11.40" fill="#e6e6f8" stroke="#c4c4ee" stroke-width="0.7"/>
<circle cx="559.00" cy="492.80" r="11.10" fill="url(#pg)" stroke="none" stroke-width="1"/>
<g clip-path="url(#pc117)" fill="none" stroke="#3424d0" stroke-linecap="round"><path d="M559.3 497.2l-0.3 -1.0M555.9 494.9l0.1 0.2M553.3 500.7l-1.4 1.4M555.0 494.6l-0.3 -0.2M568.1 493.2l0.4 0.3M552.2 485.0l-0.0 0.2M568.5 489.1l-1.0 -1.2M566.0 487.9l-1.4 -0.9M555.6 498.8l-0.7 -0.6M549.3 489.2l0.6 1.3M564.8 493.0l1.2 0.3M556.4 497.7l1.0 1.5M553.3 485.3l0.7 0.8M549.8 496.1l0.4 1.3M563.6 489.4l0.0 -0.3M563.4 496.7l1.4 -0.4" stroke-width="1.62" opacity="0.68"/><path d="M564.7 497.8h0M551.8 485.5h0M554.2 500.4h0M558.3 504.1h0M549.3 496.0h0M567.1 487.6h0M549.7 495.0h0M550.3 489.0h0M565.8 491.3h0M556.1 498.1h0M548.9 495.0h0M555.1 500.0h0M564.6 492.8h0M561.1 494.5h0M558.8 489.7h0M553.3 500.2h0M550.8 493.7h0M558.2 492.2h0M552.0 486.7h0M566.6 492.0h0M556.0 492.3h0M556.7 494.3h0M555.0 491.0h0M559.4 487.6h0M562.8 498.6h0M561.5 486.1h0M568.2 490.3h0M561.9 502.3h0" stroke-width="1.17" opacity="0.85"/><path d="M565.3 500.3h0M550.5 490.8h0M566.4 488.6h0M554.0 496.4h0M551.7 486.3h0M550.2 494.0h0M557.8 484.7h0M566.9 496.9h0M565.3 495.2h0M552.2 489.9h0M562.3 488.0h0M549.1 493.0h0M553.3 490.2h0M564.6 483.4h0M551.0 485.1h0M565.8 491.2h0M563.9 493.9h0M567.9 489.4h0M568.9 494.6h0M566.6 486.7h0M561.8 482.9h0M561.8 501.3h0M567.4 497.1h0M554.1 484.0h0M561.2 482.1h0M568.6 495.1h0M562.8 486.5h0M556.0 495.9h0" stroke-width="0.90" opacity="0.85"/><path d="M557.5 497.3h0M555.5 487.5h0M562.8 503.4h0M566.7 497.8h0M567.6 496.1h0M558.3 495.6h0M562.2 495.0h0M551.5 487.2h0M549.2 492.6h0M553.4 488.1h0M567.4 493.5h0M566.4 485.0h0M555.0 500.4h0M561.6 490.2h0M557.1 497.9h0M555.9 490.6h0M568.9 493.7h0M558.5 501.1h0M550.0 493.2h0M555.8 498.0h0M564.4 487.4h0M557.3 498.4h0M564.3 486.4h0M549.3 494.8h0" stroke-width="0.63" opacity="0.85"/></g>
<clipPath id="pc118"><circle cx="583.3" cy="492.8" r="11.4"/></clipPath>
<circle cx="583.30" cy="492.80" r="11.40" fill="#e6e6f8" stroke="#c4c4ee" stroke-width="0.7"/>
<circle cx="583.30" cy="492.80" r="11.10" fill="url(#pg)" stroke="none" stroke-width="1"/>
<g clip-path="url(#pc118)" fill="none" stroke="#3424d0" stroke-linecap="round"><path d="M582.2 488.3l-1.2 -0.4M584.0 486.9l1.2 0.3M574.9 492.4l0.2 0.1M586.8 484.5l0.0 -1.5M584.3 496.6l1.1 1.4M576.6 499.4l-1.3 1.0M592.4 496.5l0.4 1.1M584.0 485.5l-1.2 -0.9M588.8 485.9l-1.5 0.8M584.1 493.2l1.2 1.2M577.1 500.2l-0.8 -1.0M584.4 487.2l-1.3 1.1M573.8 491.9l1.1 0.4M586.6 496.0l1.1 0.1M586.3 501.7l1.1 -1.0M573.9 487.9l-1.1 0.8" stroke-width="1.62" opacity="0.68"/><path d="M574.9 497.9h0M590.1 497.6h0M584.0 496.7h0M584.6 490.4h0M591.4 499.6h0M589.1 502.4h0M574.6 495.9h0M578.9 488.4h0M579.3 498.1h0M586.1 499.3h0M582.5 490.3h0M589.4 493.1h0M579.0 493.8h0M584.3 493.2h0M584.5 483.8h0M587.3 493.6h0M587.0 501.7h0M580.7 494.2h0M572.0 493.3h0M572.8 488.6h0M576.5 498.9h0M575.5 488.5h0M587.9 487.6h0M589.7 498.1h0M576.2 491.9h0M584.6 491.8h0M579.4 484.2h0M576.4 498.6h0" stroke-width="1.17" opacity="0.85"/><path d="M589.4 485.9h0M587.3 488.4h0M588.5 499.9h0M593.0 494.4h0M581.4 500.3h0M582.0 491.3h0M591.1 498.8h0M589.8 499.4h0M589.9 501.5h0M576.4 487.1h0M575.3 491.2h0M583.9 489.0h0M594.3 490.5h0M583.3 492.9h0M576.1 485.6h0M577.1 485.3h0M591.5 485.6h0M587.8 501.5h0M573.8 490.3h0M579.0 487.6h0M578.8 489.1h0M586.3 501.7h0M579.6 491.5h0M592.3 493.4h0M588.2 495.1h0M578.1 491.3h0M574.1 489.7h0M586.1 498.0h0" stroke-width="0.90" opacity="0.85"/><path d="M576.9 487.9h0M577.2 498.3h0M580.8 485.9h0M585.6 494.5h0M583.2 482.7h0M578.1 498.4h0M591.5 487.5h0M580.5 495.6h0M585.9 482.6h0M576.4 492.7h0M593.6 492.6h0M583.2 496.5h0M589.5 490.3h0M583.0 503.7h0M578.9 500.1h0M590.9 489.1h0M578.5 502.8h0M582.5 487.8h0M593.4 490.9h0M583.5 496.2h0M584.7 491.8h0M585.1 481.8h0M580.7 496.8h0M589.1 498.3h0" stroke-width="0.63" opacity="0.85"/></g>
<clipPath id="pc119"><circle cx="607.6" cy="492.8" r="11.4"/></clipPath>
<circle cx="607.60" cy="492.80" r="11.40" fill="#e6e6f8" stroke="#c4c4ee" stroke-width="0.7"/>
<circle cx="607.60" cy="492.80" r="11.10" fill="url(#pg)" stroke="none" stroke-width="1"/>
<g clip-path="url(#pc119)" fill="none" stroke="#3424d0" stroke-linecap="round"><path d="M611.7 490.7l0.9 0.1M615.6 491.7l-0.2 -1.3M598.0 497.4l1.5 -0.7M609.5 488.2l0.2 -0.3M607.3 499.9l0.7 0.5M605.5 496.1l-1.5 1.3M600.0 491.9l-0.3 -1.2M608.5 503.4l-0.4 0.1M615.4 489.7l-0.9 -1.3M609.3 496.0l-1.0 -1.0M604.1 499.4l-0.4 -0.4M602.5 492.2l1.4 -0.8M603.1 487.8l0.1 -1.5M617.7 492.3l-1.4 -0.7M616.0 488.4l0.2 1.0M614.6 499.0l-1.0 -0.7" stroke-width="1.62" opacity="0.68"/><path d="M613.9 490.4h0M598.9 489.8h0M598.1 496.7h0M615.9 490.4h0M601.1 500.8h0M607.4 495.1h0M611.7 488.9h0M616.2 496.5h0M617.1 494.4h0M610.1 488.2h0M611.5 484.9h0M608.7 497.0h0M613.5 498.2h0M614.1 488.6h0M601.1 494.5h0M600.1 487.9h0M607.8 497.7h0M616.9 495.1h0M604.5 491.0h0M614.3 486.0h0M616.9 494.0h0M615.2 494.5h0M615.4 488.3h0M609.7 496.0h0M607.8 492.7h0M607.3 497.2h0M606.0 499.4h0M610.6 486.5h0" stroke-width="1.17" opacity="0.85"/><path d="M597.5 494.0h0M603.4 493.2h0M614.0 485.5h0M613.7 498.3h0M610.7 492.3h0M610.9 482.7h0M597.5 496.1h0M612.4 485.9h0M613.1 488.9h0M605.9 493.0h0M601.9 488.3h0M611.1 500.5h0M607.4 500.3h0M614.6 494.6h0M614.5 496.0h0M600.4 490.2h0M597.9 488.1h0M600.5 500.6h0M612.5 487.9h0M614.4 500.5h0M616.9 490.9h0M614.2 499.1h0M600.4 492.5h0M601.6 497.4h0M605.5 482.7h0M614.2 496.3h0M599.3 487.7h0M613.4 487.2h0" stroke-width="0.90" opacity="0.85"/><path d="M607.6 492.3h0M618.1 490.4h0M598.3 495.6h0M609.4 499.5h0M598.6 488.4h0M614.3 486.4h0M597.5 492.2h0M617.0 488.8h0M605.8 503.7h0M612.2 488.5h0M610.8 491.6h0M610.6 492.1h0M603.2 501.8h0M608.0 494.5h0M615.8 500.5h0M613.7 501.9h0M597.9 492.2h0M602.0 493.0h0M607.2 496.6h0M599.7 500.4h0M603.3 489.1h0M605.9 499.4h0M605.2 482.5h0M611.0 492.5h0" stroke-width="0.63" opacity="0.85"/></g>
<clipPath id="pc120"><circle cx="632.0" cy="492.8" r="11.4"/></clipPath>
<circle cx="632.00" cy="492.80" r="11.40" fill="#e6e6f8" stroke="#d4d4f2" stroke-width="0.7"/>
<circle cx="632.00" cy="492.80" r="11.10" fill="url(#pg)" stroke="none" stroke-width="1"/>
<g clip-path="url(#pc120)" fill="none" stroke="#a0a0dc" stroke-linecap="round"><path d="M627.1 492.3h0M640.7 490.2h0M622.7 486.9h0M640.5 498.3h0M633.0 498.4h0M627.8 501.6h0M640.9 489.3h0" stroke-width="0.65" opacity="0.6"/><path d="M630.3 496.5h0M630.8 498.0h0M623.9 492.7h0M635.9 496.3h0M638.9 486.2h0M640.8 498.8h0M625.3 495.0h0" stroke-width="0.50" opacity="0.6"/><path d="M635.2 483.9h0M625.5 495.6h0M622.0 489.9h0M631.1 489.5h0M638.7 494.1h0M629.5 502.6h0" stroke-width="0.35" opacity="0.6"/></g>
<text x="546.00" y="512.81" font-size="7.8" text-anchor="middle" textLength="16.00" lengthAdjust="spacingAndGlyphs">DOX</text>
<text x="562.00" y="512.52" font-size="7.0" text-anchor="middle">-</text>
<text x="586.00" y="512.52" font-size="7.0" text-anchor="middle">+</text>
<text x="610.40" y="512.52" font-size="7.0" text-anchor="middle">-</text>
<text x="635.20" y="512.52" font-size="7.0" text-anchor="middle">+</text>
<line x1="562.40" y1="515.00" x2="581.50" y2="515.00" stroke="#666" stroke-width="1.4"/>
<line x1="611.00" y1="515.00" x2="631.40" y2="515.00" stroke="#666" stroke-width="1.4"/>
<text x="573.25" y="524.51" font-size="7.8" text-anchor="middle" textLength="34.50" lengthAdjust="spacingAndGlyphs">C3-2RNF4</text>
<text x="621.40" y="524.51" font-size="7.8" text-anchor="middle" textLength="33.80" lengthAdjust="spacingAndGlyphs">E8-2RNF4</text>
<line x1="52.40" y1="574.70" x2="52.40" y2="639.50" stroke="#000" stroke-width="1.0"/>
<line x1="50.00" y1="639.10" x2="52.40" y2="639.10" stroke="#000" stroke-width="0.9"/>
<text x="49.20" y="640.76" font-size="4.6" text-anchor="end" font-weight="bold" fill="#222">0</text>
<line x1="50.00" y1="617.80" x2="52.40" y2="617.80" stroke="#000" stroke-width="0.9"/>
<text x="49.20" y="619.46" font-size="4.6" text-anchor="end" font-weight="bold" fill="#222">5</text>
<line x1="50.00" y1="596.50" x2="52.40" y2="596.50" stroke="#000" stroke-width="0.9"/>
<text x="49.20" y="598.16" font-size="4.6" text-anchor="end" font-weight="bold" fill="#222">10</text>
<line x1="50.00" y1="575.20" x2="52.40" y2="575.20" stroke="#000" stroke-width="0.9"/>
<text x="49.20" y="576.86" font-size="4.6" text-anchor="end" font-weight="bold" fill="#222">15</text>
<line x1="63.90" y1="639.10" x2="63.90" y2="641.50" stroke="#000" stroke-width="0.9"/>
<path d="M58.50,639.10 V590.96 H69.30 V639.10" fill="#fff" stroke="#000" stroke-width="1.9"/>
<line x1="63.90" y1="585.85" x2="63.90" y2="596.07" stroke="#000" stroke-width="0.8"/>
<line x1="61.70" y1="585.85" x2="66.10" y2="585.85" stroke="#000" stroke-width="0.8"/>
<circle cx="63.90" cy="585.42" r="1.55" fill="#000" stroke="none" stroke-width="1"/>
<circle cx="63.90" cy="592.67" r="1.55" fill="#000" stroke="none" stroke-width="1"/>
<circle cx="66.80" cy="594.80" r="1.55" fill="#000" stroke="none" stroke-width="1"/>
<line x1="87.20" y1="639.10" x2="87.20" y2="641.50" stroke="#000" stroke-width="0.9"/>
<path d="M81.80,639.10 V588.41 H92.60 V639.10" fill="#fff" stroke="#a8a8a8" stroke-width="1.9"/>
<line x1="87.20" y1="587.13" x2="87.20" y2="589.68" stroke="#a8a8a8" stroke-width="0.8"/>
<line x1="85.00" y1="587.13" x2="89.40" y2="587.13" stroke="#a8a8a8" stroke-width="0.8"/>
<circle cx="87.20" cy="587.13" r="1.35" fill="#fff" stroke="#a8a8a8" stroke-width="0.7"/>
<circle cx="90.10" cy="587.98" r="1.35" fill="#fff" stroke="#a8a8a8" stroke-width="0.7"/>
<circle cx="84.30" cy="588.83" r="1.35" fill="#fff" stroke="#a8a8a8" stroke-width="0.7"/>
<line x1="111.10" y1="639.10" x2="111.10" y2="641.50" stroke="#000" stroke-width="0.9"/>
<path d="M105.70,639.10 V596.50 H116.50 V639.10" fill="#fff" stroke="#b0262a" stroke-width="1.9"/>
<line x1="111.10" y1="595.22" x2="111.10" y2="597.78" stroke="#b0262a" stroke-width="0.8"/>
<line x1="108.90" y1="595.22" x2="113.30" y2="595.22" stroke="#b0262a" stroke-width="0.8"/>
<circle cx="111.10" cy="594.80" r="1.55" fill="#b0262a" stroke="none" stroke-width="1"/>
<circle cx="111.10" cy="598.63" r="1.55" fill="#b0262a" stroke="none" stroke-width="1"/>
<circle cx="114.00" cy="595.65" r="1.55" fill="#b0262a" stroke="none" stroke-width="1"/>
<line x1="134.70" y1="639.10" x2="134.70" y2="641.50" stroke="#000" stroke-width="0.9"/>
<path d="M129.30,639.10 V631.43 H140.10 V639.10" fill="#fff" stroke="#ef8e8e" stroke-width="1.9"/>
<line x1="134.70" y1="630.15" x2="134.70" y2="632.71" stroke="#ef8e8e" stroke-width="0.8"/>
<line x1="132.50" y1="630.15" x2="136.90" y2="630.15" stroke="#ef8e8e" stroke-width="0.8"/>
<circle cx="134.70" cy="631.01" r="1.55" fill="#ef8e8e" stroke="none" stroke-width="1"/>
<circle cx="137.60" cy="631.86" r="1.55" fill="#ef8e8e" stroke="none" stroke-width="1"/>
<circle cx="131.80" cy="630.15" r="1.55" fill="#ef8e8e" stroke="none" stroke-width="1"/>
<line x1="52.00" y1="639.10" x2="146.40" y2="639.10" stroke="#222" stroke-width="1.1"/>
<text x="106.85" y="561.88" font-size="8.0" text-anchor="middle" textLength="38.30" lengthAdjust="spacingAndGlyphs">NCI-H2373</text>
<text x="35.60" y="611.74" font-size="7.6" text-anchor="middle" textLength="79.00" lengthAdjust="spacingAndGlyphs" transform="rotate(-90 35.60 609.00)">Covered by spots ( % )</text>
<line x1="63.90" y1="581.10" x2="87.60" y2="581.10" stroke="#444" stroke-width="0.8"/>
<line x1="63.90" y1="579.60" x2="63.90" y2="582.60" stroke="#444" stroke-width="0.8"/>
<line x1="87.60" y1="579.60" x2="87.60" y2="582.60" stroke="#444" stroke-width="0.8"/>
<text x="76.00" y="579.88" font-size="8.0" text-anchor="middle" textLength="7.40" lengthAdjust="spacingAndGlyphs">ns</text>
<line x1="109.90" y1="588.80" x2="133.40" y2="588.80" stroke="#444" stroke-width="0.8"/>
<line x1="109.90" y1="587.30" x2="109.90" y2="590.30" stroke="#444" stroke-width="0.8"/>
<line x1="133.40" y1="587.30" x2="133.40" y2="590.30" stroke="#444" stroke-width="0.8"/>
<text x="121.80" y="585.44" font-size="6.5" text-anchor="middle" textLength="26.40" lengthAdjust="spacingAndGlyphs"><tspan font-style="italic">P</tspan>&lt;0.0001</text>
<clipPath id="pc121"><circle cx="63.4" cy="653.9" r="11.4"/></clipPath>
<circle cx="63.40" cy="653.90" r="11.40" fill="#e4e2f8" stroke="#ccc8ef" stroke-width="0.7"/>
<circle cx="63.40" cy="653.90" r="11.10" fill="url(#pg)" stroke="none" stroke-width="1"/>
<g clip-path="url(#pc121)" fill="none" stroke="#5a4ad0" stroke-linecap="round"><path d="M70.5 658.2l-0.3 1.2M57.5 648.7l1.3 -0.6" stroke-width="1.08" opacity="0.52"/><path d="M67.7 647.9h0M58.4 643.9h0M66.5 645.6h0M64.0 652.2h0M53.9 658.5h0M63.5 646.2h0M64.3 660.6h0M59.9 655.6h0M71.9 650.4h0M58.6 653.0h0M60.2 660.5h0M67.4 659.1h0M56.9 661.2h0M64.3 653.3h0M70.3 661.9h0M69.2 654.3h0M55.7 650.7h0M65.4 663.6h0M63.2 653.1h0M61.7 647.1h0M54.8 654.3h0M57.5 645.6h0M65.5 658.4h0M64.7 658.6h0M66.0 643.6h0M57.2 661.1h0M66.1 643.7h0M64.5 645.3h0M65.4 647.7h0M58.5 650.6h0M57.6 657.9h0M62.9 653.9h0M56.0 657.0h0M71.5 648.7h0M67.6 659.7h0M63.5 650.6h0M65.0 652.0h0M59.5 646.3h0M70.1 652.1h0M61.7 658.4h0M62.3 660.2h0M58.1 651.0h0M67.9 663.5h0M73.5 658.6h0M62.9 663.9h0M62.3 642.8h0M63.5 652.8h0M64.1 642.7h0M65.3 645.9h0M65.0 654.4h0M63.6 663.6h0M68.2 661.0h0" stroke-width="0.78" opacity="0.65"/><path d="M63.5 645.3h0M62.1 643.8h0M63.2 653.0h0M58.8 646.6h0M65.9 648.7h0M65.0 655.9h0M59.0 655.3h0M64.6 645.3h0M58.7 658.6h0M66.9 656.1h0M67.0 650.9h0M55.0 652.0h0M63.4 649.3h0M60.1 656.5h0M68.6 658.5h0M57.0 652.7h0M56.8 659.3h0M73.7 655.8h0M70.6 654.7h0M63.2 652.9h0M64.4 655.2h0M69.0 660.5h0M63.0 642.7h0M52.9 651.8h0M56.2 658.1h0M65.2 653.4h0M68.7 650.6h0M53.1 658.0h0M53.3 658.1h0M61.3 650.0h0M65.4 653.6h0M61.0 647.9h0M68.9 652.6h0M65.7 659.1h0M61.7 646.9h0M55.0 647.0h0M61.1 643.8h0M62.9 657.2h0M58.6 653.6h0M63.9 645.5h0M59.1 650.9h0M55.1 660.1h0M59.1 648.9h0M55.6 651.3h0M68.7 646.5h0M66.1 656.0h0M65.3 664.1h0M62.9 654.3h0M58.7 647.9h0M63.8 656.9h0M61.2 645.9h0M68.1 651.7h0" stroke-width="0.60" opacity="0.65"/><path d="M56.6 661.8h0M62.6 648.5h0M63.4 663.6h0M63.4 653.9h0M52.7 656.5h0M56.2 654.0h0M61.1 656.2h0M66.3 650.8h0M56.5 657.6h0M63.1 656.3h0M73.6 657.1h0M71.2 650.8h0M74.0 652.8h0M61.4 649.3h0M63.7 656.0h0M63.2 652.4h0M71.6 649.6h0M68.1 647.8h0M68.0 647.8h0M59.2 663.8h0M73.3 655.9h0M53.2 650.6h0M65.6 651.5h0M57.4 659.1h0M60.6 651.9h0M65.3 651.8h0M74.1 655.8h0M52.7 652.1h0M57.1 663.2h0M67.2 652.3h0M61.9 656.6h0M60.1 652.7h0M63.3 648.2h0M69.3 649.5h0M62.9 659.2h0M68.6 648.5h0M63.0 646.6h0M63.7 649.4h0M62.7 649.9h0M67.0 653.7h0M61.8 651.8h0M73.5 656.4h0M65.4 653.5h0M59.8 659.7h0M70.2 656.3h0" stroke-width="0.42" opacity="0.65"/></g>
<clipPath id="pc122"><circle cx="86.9" cy="653.9" r="11.4"/></clipPath>
<circle cx="86.90" cy="653.90" r="11.40" fill="#e4e2f8" stroke="#ccc8ef" stroke-width="0.7"/>
<circle cx="86.90" cy="653.90" r="11.10" fill="url(#pg)" stroke="none" stroke-width="1"/>
<g clip-path="url(#pc122)" fill="none" stroke="#5a4ad0" stroke-linecap="round"><path d="M78.5 653.4l-0.6 1.3M85.7 644.5l-0.1 1.0" stroke-width="1.08" opacity="0.52"/><path d="M86.0 645.2h0M92.9 658.6h0M95.3 652.3h0M80.4 660.1h0M91.0 659.0h0M88.3 646.2h0M78.4 661.2h0M79.3 652.9h0M94.6 658.2h0M80.8 654.1h0M95.1 650.2h0M76.6 651.3h0M77.9 660.7h0M84.1 647.4h0M76.1 657.0h0M85.9 653.1h0M91.3 648.0h0M84.5 661.4h0M89.5 662.8h0M81.2 648.6h0M80.4 654.7h0M83.2 644.2h0M95.5 656.7h0M90.8 643.2h0M88.8 642.9h0M80.1 645.9h0M86.5 648.2h0M85.0 645.1h0M81.4 652.8h0M96.5 650.3h0M88.2 648.4h0M89.3 658.2h0M82.1 658.4h0M86.7 646.7h0M89.5 653.8h0M78.4 660.4h0M77.6 653.8h0M92.2 646.5h0M88.1 656.2h0M94.2 653.0h0M83.1 653.5h0M80.1 653.7h0M91.7 662.0h0M83.1 645.9h0M92.4 644.1h0M88.7 651.4h0M77.7 652.5h0M93.4 648.6h0M81.1 655.8h0M88.5 664.2h0M96.6 655.0h0M89.5 653.5h0" stroke-width="0.78" opacity="0.65"/><path d="M89.4 659.4h0M91.0 644.5h0M94.6 649.5h0M79.0 652.9h0M77.8 650.4h0M84.0 664.4h0M91.3 664.3h0M84.7 654.3h0M94.4 659.4h0M89.7 652.1h0M93.4 654.9h0M88.1 649.0h0M82.1 657.4h0M90.6 653.9h0M81.6 661.2h0M84.3 645.0h0M94.1 648.9h0M80.7 646.5h0M82.4 664.3h0M94.3 661.8h0M81.5 654.9h0M81.7 660.7h0M88.5 656.6h0M86.0 665.0h0M87.3 647.2h0M85.3 648.8h0M92.2 659.4h0M80.4 663.1h0M95.2 659.5h0M96.0 660.2h0M86.8 642.7h0M84.6 650.6h0M97.3 650.0h0M83.8 644.7h0M84.0 647.0h0M85.9 659.5h0M81.3 651.2h0M82.7 649.5h0M96.4 658.4h0M80.7 648.1h0M84.4 643.1h0M80.7 651.9h0M90.4 653.5h0M78.0 654.7h0M88.3 659.9h0M97.7 652.5h0M91.1 663.0h0M95.2 650.6h0M89.8 650.2h0M85.6 657.3h0M77.5 654.3h0M84.3 659.6h0" stroke-width="0.60" opacity="0.65"/><path d="M83.0 644.1h0M91.4 647.2h0M94.2 656.8h0M94.2 661.1h0M95.3 660.5h0M92.9 657.4h0M79.9 648.8h0M86.0 655.0h0M80.0 660.1h0M76.8 658.5h0M81.7 648.4h0M90.7 654.7h0M85.3 664.5h0M93.6 650.1h0M86.8 659.2h0M78.4 651.5h0M85.2 663.6h0M82.2 656.4h0M93.2 660.9h0M85.8 642.9h0M83.0 658.6h0M91.0 649.3h0M79.9 660.4h0M91.4 658.8h0M96.2 660.0h0M78.4 647.7h0M85.7 663.3h0M79.3 650.7h0M83.9 649.4h0M80.8 647.5h0M92.6 656.4h0M84.8 659.8h0M88.2 653.2h0M78.0 655.6h0M94.5 653.4h0M94.3 659.0h0M84.9 654.1h0M93.8 656.4h0M75.5 654.2h0M90.1 656.2h0M88.4 663.2h0M85.9 648.7h0M89.1 664.7h0M95.5 656.1h0M87.0 647.6h0" stroke-width="0.42" opacity="0.65"/></g>
<clipPath id="pc123"><circle cx="110.6" cy="653.9" r="11.4"/></clipPath>
<circle cx="110.60" cy="653.90" r="11.40" fill="#e4e2f8" stroke="#ccc8ef" stroke-width="0.7"/>
<circle cx="110.60" cy="653.90" r="11.10" fill="url(#pg)" stroke="none" stroke-width="1"/>
<g clip-path="url(#pc123)" fill="none" stroke="#5a4ad0" stroke-linecap="round"><path d="M113.6 654.9l-0.3 -1.2M112.3 652.7l0.1 -0.5" stroke-width="1.08" opacity="0.52"/><path d="M113.3 650.3h0M107.2 659.5h0M110.6 654.4h0M107.5 655.2h0M108.1 652.2h0M107.5 660.9h0M113.5 652.0h0M117.0 661.8h0M121.4 655.3h0M105.3 651.3h0M115.8 645.4h0M104.9 662.4h0M113.0 662.5h0M100.5 652.2h0M107.7 660.5h0M111.6 645.8h0M107.0 645.5h0M105.2 644.6h0M101.3 654.7h0M109.2 655.3h0M110.7 649.0h0M115.3 644.0h0M108.0 650.0h0M106.9 660.0h0M117.5 657.3h0M104.7 651.0h0M111.9 657.0h0M109.7 653.0h0M107.3 658.3h0M101.1 652.0h0M118.3 649.0h0M121.8 653.3h0M106.8 649.9h0M105.8 654.4h0M118.2 653.5h0M110.6 651.5h0M113.9 657.7h0M110.3 660.7h0M109.6 661.3h0M107.3 655.7h0M116.9 656.5h0M117.0 657.9h0M118.9 654.3h0M119.1 658.1h0M101.3 660.3h0M110.0 661.7h0M110.6 647.3h0M105.3 661.3h0M121.1 651.9h0M102.2 658.6h0M107.6 647.6h0M110.9 657.1h0" stroke-width="0.78" opacity="0.65"/><path d="M112.6 652.0h0M102.3 652.9h0M116.2 661.2h0M119.3 648.8h0M107.5 656.5h0M118.7 652.6h0M103.6 646.5h0M108.5 655.8h0M116.7 660.9h0M104.4 662.5h0M109.9 642.6h0M107.5 648.4h0M111.1 652.0h0M100.1 652.5h0M106.4 653.5h0M102.2 653.9h0M103.3 661.8h0M107.4 658.9h0M105.5 653.7h0M107.5 660.4h0M113.6 652.7h0M112.3 658.7h0M121.4 653.6h0M113.5 661.9h0M116.1 657.2h0M106.1 660.9h0M119.9 649.5h0M100.7 651.7h0M100.9 654.9h0M111.6 648.2h0M114.9 646.4h0M103.5 654.5h0M111.9 661.9h0M117.0 660.4h0M118.7 647.9h0M104.4 648.8h0M109.3 650.1h0M120.6 657.3h0M104.6 661.0h0M104.6 657.2h0M111.4 647.3h0M110.8 643.6h0M115.4 664.1h0M117.4 656.7h0M100.2 653.9h0M114.5 661.5h0M103.2 661.9h0M114.8 658.0h0M113.3 648.0h0M113.0 653.0h0M107.7 656.3h0M100.6 648.9h0" stroke-width="0.60" opacity="0.65"/><path d="M106.5 662.1h0M109.8 661.4h0M105.5 651.4h0M107.7 646.4h0M115.6 650.6h0M115.3 652.5h0M119.8 655.1h0M109.8 646.1h0M121.6 656.9h0M117.3 662.2h0M114.8 650.5h0M115.7 648.0h0M119.3 647.6h0M111.5 647.8h0M100.7 648.5h0M107.6 660.3h0M109.5 651.3h0M110.5 658.6h0M104.2 657.6h0M104.3 648.9h0M111.9 656.0h0M100.8 652.4h0M120.0 649.3h0M107.1 663.9h0M104.7 655.1h0M116.9 658.1h0M104.8 652.2h0M114.3 664.3h0M120.7 658.5h0M102.2 659.5h0M117.2 659.4h0M111.2 646.4h0M105.6 660.2h0M112.4 658.8h0M110.7 656.1h0M113.2 652.2h0M111.7 653.4h0M105.9 646.9h0M121.3 656.8h0M109.3 643.3h0M104.9 656.3h0M112.1 657.4h0M105.7 644.8h0M111.0 655.7h0M107.7 657.3h0" stroke-width="0.42" opacity="0.65"/></g>
<clipPath id="pc124"><circle cx="135.4" cy="653.9" r="11.4"/></clipPath>
<circle cx="135.40" cy="653.90" r="11.40" fill="#ebebf9" stroke="#dcdcf4" stroke-width="0.7"/>
<circle cx="135.40" cy="653.90" r="11.10" fill="url(#pg)" stroke="none" stroke-width="1"/>
<g clip-path="url(#pc124)" fill="none" stroke="#a8a8e0" stroke-linecap="round"><path d="M143.6 651.8h0M140.4 663.9h0" stroke-width="0.65" opacity="0.6"/><path d="M126.7 659.0h0M139.9 654.8h0" stroke-width="0.50" opacity="0.6"/><path d="M145.5 651.8h0M143.2 655.0h0" stroke-width="0.35" opacity="0.6"/></g>
<text x="47.30" y="674.61" font-size="7.8" text-anchor="middle" textLength="15.40" lengthAdjust="spacingAndGlyphs">DOX</text>
<text x="62.60" y="674.32" font-size="7.0" text-anchor="middle">-</text>
<text x="87.40" y="674.32" font-size="7.0" text-anchor="middle">+</text>
<text x="111.60" y="674.32" font-size="7.0" text-anchor="middle">-</text>
<text x="136.20" y="674.32" font-size="7.0" text-anchor="middle">+</text>
<line x1="62.60" y1="677.40" x2="83.00" y2="677.40" stroke="#666" stroke-width="1.4"/>
<line x1="111.60" y1="677.40" x2="131.60" y2="677.40" stroke="#666" stroke-width="1.4"/>
<text x="73.70" y="687.21" font-size="7.8" text-anchor="middle" textLength="34.00" lengthAdjust="spacingAndGlyphs">C3-2RNF4</text>
<text x="122.35" y="687.21" font-size="7.8" text-anchor="middle" textLength="33.70" lengthAdjust="spacingAndGlyphs">E8-2RNF4</text>
<line x1="170.00" y1="575.00" x2="170.00" y2="639.50" stroke="#000" stroke-width="1.0"/>
<line x1="167.60" y1="639.10" x2="170.00" y2="639.10" stroke="#000" stroke-width="0.9"/>
<text x="166.80" y="640.76" font-size="4.6" text-anchor="end" font-weight="bold" fill="#222">0</text>
<line x1="167.60" y1="623.20" x2="170.00" y2="623.20" stroke="#000" stroke-width="0.9"/>
<text x="166.80" y="624.86" font-size="4.6" text-anchor="end" font-weight="bold" fill="#222">10</text>
<line x1="167.60" y1="607.30" x2="170.00" y2="607.30" stroke="#000" stroke-width="0.9"/>
<text x="166.80" y="608.96" font-size="4.6" text-anchor="end" font-weight="bold" fill="#222">20</text>
<line x1="167.60" y1="591.40" x2="170.00" y2="591.40" stroke="#000" stroke-width="0.9"/>
<text x="166.80" y="593.06" font-size="4.6" text-anchor="end" font-weight="bold" fill="#222">30</text>
<line x1="167.60" y1="575.50" x2="170.00" y2="575.50" stroke="#000" stroke-width="0.9"/>
<text x="166.80" y="577.16" font-size="4.6" text-anchor="end" font-weight="bold" fill="#222">40</text>
<line x1="182.00" y1="639.10" x2="182.00" y2="641.50" stroke="#000" stroke-width="0.9"/>
<path d="M176.60,639.10 V610.00 H187.40 V639.10" fill="#fff" stroke="#000" stroke-width="1.9"/>
<line x1="182.00" y1="606.03" x2="182.00" y2="613.98" stroke="#000" stroke-width="0.8"/>
<line x1="179.80" y1="606.03" x2="184.20" y2="606.03" stroke="#000" stroke-width="0.8"/>
<circle cx="182.00" cy="604.91" r="1.55" fill="#000" stroke="none" stroke-width="1"/>
<circle cx="182.00" cy="612.07" r="1.55" fill="#000" stroke="none" stroke-width="1"/>
<circle cx="184.90" cy="612.87" r="1.55" fill="#000" stroke="none" stroke-width="1"/>
<line x1="206.00" y1="639.10" x2="206.00" y2="641.50" stroke="#000" stroke-width="0.9"/>
<path d="M200.60,639.10 V609.21 H211.40 V639.10" fill="#fff" stroke="#a8a8a8" stroke-width="1.9"/>
<line x1="206.00" y1="605.23" x2="206.00" y2="613.18" stroke="#a8a8a8" stroke-width="0.8"/>
<line x1="203.80" y1="605.23" x2="208.20" y2="605.23" stroke="#a8a8a8" stroke-width="0.8"/>
<circle cx="206.00" cy="605.71" r="1.35" fill="#fff" stroke="#a8a8a8" stroke-width="0.7"/>
<circle cx="210.20" cy="605.71" r="1.35" fill="#fff" stroke="#a8a8a8" stroke-width="0.7"/>
<circle cx="206.00" cy="614.46" r="1.35" fill="#fff" stroke="#a8a8a8" stroke-width="0.7"/>
<line x1="229.80" y1="639.10" x2="229.80" y2="641.50" stroke="#000" stroke-width="0.9"/>
<path d="M224.40,639.10 V596.17 H235.20 V639.10" fill="#fff" stroke="#b0262a" stroke-width="1.9"/>
<line x1="229.80" y1="593.78" x2="229.80" y2="598.56" stroke="#b0262a" stroke-width="0.8"/>
<line x1="227.60" y1="593.78" x2="232.00" y2="593.78" stroke="#b0262a" stroke-width="0.8"/>
<circle cx="229.80" cy="592.99" r="1.55" fill="#b0262a" stroke="none" stroke-width="1"/>
<circle cx="229.80" cy="596.17" r="1.55" fill="#b0262a" stroke="none" stroke-width="1"/>
<circle cx="232.70" cy="597.76" r="1.55" fill="#b0262a" stroke="none" stroke-width="1"/>
<line x1="253.60" y1="639.10" x2="253.60" y2="641.50" stroke="#000" stroke-width="0.9"/>
<path d="M248.20,639.10 V638.31 H259.00 V639.10" fill="#fff" stroke="#ef8e8e" stroke-width="1.9"/>
<line x1="253.60" y1="637.99" x2="253.60" y2="638.62" stroke="#ef8e8e" stroke-width="0.8"/>
<line x1="251.40" y1="637.99" x2="255.80" y2="637.99" stroke="#ef8e8e" stroke-width="0.8"/>
<circle cx="253.60" cy="638.15" r="1.55" fill="#ef8e8e" stroke="none" stroke-width="1"/>
<circle cx="257.80" cy="638.31" r="1.55" fill="#ef8e8e" stroke="none" stroke-width="1"/>
<circle cx="249.40" cy="638.46" r="1.55" fill="#ef8e8e" stroke="none" stroke-width="1"/>
<line x1="169.60" y1="639.10" x2="265.50" y2="639.10" stroke="#222" stroke-width="1.1"/>
<text x="212.10" y="561.88" font-size="8.0" text-anchor="middle" textLength="38.60" lengthAdjust="spacingAndGlyphs">NCI-H2052</text>
<line x1="181.40" y1="599.50" x2="206.20" y2="599.50" stroke="#444" stroke-width="0.8"/>
<line x1="181.40" y1="598.00" x2="181.40" y2="601.00" stroke="#444" stroke-width="0.8"/>
<line x1="206.20" y1="598.00" x2="206.20" y2="601.00" stroke="#444" stroke-width="0.8"/>
<text x="194.70" y="597.98" font-size="8.0" text-anchor="middle" textLength="7.60" lengthAdjust="spacingAndGlyphs">ns</text>
<line x1="229.20" y1="587.20" x2="251.70" y2="587.20" stroke="#444" stroke-width="0.8"/>
<line x1="229.20" y1="585.70" x2="229.20" y2="588.70" stroke="#444" stroke-width="0.8"/>
<line x1="251.70" y1="585.70" x2="251.70" y2="588.70" stroke="#444" stroke-width="0.8"/>
<text x="241.10" y="583.44" font-size="6.5" text-anchor="middle" textLength="26.20" lengthAdjust="spacingAndGlyphs"><tspan font-style="italic">P</tspan>&lt;0.0001</text>
<clipPath id="pc125"><circle cx="181.4" cy="655.0" r="11.4"/></clipPath>
<circle cx="181.40" cy="655.00" r="11.40" fill="#e4e0f8" stroke="#bcaeee" stroke-width="0.7"/>
<circle cx="181.40" cy="655.00" r="11.10" fill="url(#pg)" stroke="none" stroke-width="1"/>
<g clip-path="url(#pc125)" fill="none" stroke="#7050e0" stroke-linecap="round"><path d="M185.5 652.0l0.9 -0.6M180.9 648.6l0.3 0.3M190.5 655.2l-1.0 0.0M185.4 647.4l0.8 -0.6M176.7 655.3l-0.0 -1.1M186.5 652.4l0.3 0.1M172.2 659.4l0.4 0.8M183.3 658.9l-1.3 0.9M178.8 653.2l-0.1 0.1M172.9 656.0l1.4 -0.4M175.5 647.6l1.0 -0.2M172.4 652.6l0.5 0.8M176.6 652.8l0.3 0.0M178.9 648.1l0.2 0.7M179.3 661.3l-1.2 -0.2M184.8 662.8l-1.0 -0.5M172.2 660.0l-0.6 0.0M174.0 650.0l1.3 0.3M186.6 655.8l-1.0 0.7M188.5 653.1l0.2 -0.7M179.3 650.0l0.5 -0.5M173.1 648.8l1.3 0.7" stroke-width="1.53" opacity="0.56"/><path d="M183.3 663.4h0M173.5 657.3h0M184.9 644.2h0M181.9 663.3h0M189.2 653.8h0M176.9 656.1h0M189.3 658.9h0M182.8 664.8h0M183.4 647.5h0M187.3 664.0h0M173.1 655.6h0M177.0 661.0h0M171.5 653.6h0M174.2 659.5h0M182.6 653.9h0M188.3 663.9h0M179.1 659.4h0M191.0 649.5h0M191.6 658.3h0M176.5 656.6h0M172.9 650.0h0M173.8 653.7h0M188.9 657.2h0M186.7 658.5h0M192.1 651.3h0M188.6 654.4h0M170.9 656.7h0M176.9 657.8h0M173.6 655.3h0M188.3 652.5h0M187.3 657.5h0M181.4 645.0h0M176.0 654.8h0M178.6 652.2h0M184.0 655.8h0M177.6 664.6h0M183.1 651.8h0M186.9 648.3h0M173.3 659.5h0M182.5 659.7h0M176.6 645.0h0M182.7 663.4h0M179.4 655.2h0M192.2 652.2h0M182.8 650.8h0M181.4 649.6h0M182.2 664.7h0M183.2 660.0h0M176.7 665.0h0M173.5 654.1h0M184.4 645.9h0M173.6 650.5h0M171.9 655.2h0M176.9 661.3h0M189.5 655.1h0M181.2 654.6h0M191.6 658.8h0M178.4 653.4h0M182.2 650.6h0M183.4 648.8h0M175.4 662.2h0M175.9 663.7h0M177.1 645.3h0M181.9 657.1h0M182.0 653.5h0M184.4 649.0h0M178.4 657.5h0M182.9 666.0h0M181.5 645.0h0M181.2 660.0h0M178.6 662.5h0M184.6 648.4h0M175.8 649.6h0M181.0 649.4h0M182.5 653.7h0M184.4 644.1h0M190.0 647.9h0M185.4 655.4h0M189.3 660.9h0M185.6 644.7h0M187.5 659.6h0M172.5 651.6h0M183.0 656.1h0M184.1 648.6h0M190.0 660.5h0M176.6 649.1h0M177.7 649.1h0M180.5 645.3h0M176.6 651.3h0M186.3 664.9h0M190.4 659.1h0M188.6 660.1h0M178.5 645.9h0M181.6 645.4h0M187.1 658.7h0M182.4 644.8h0M184.2 656.9h0M188.2 651.9h0M183.1 665.7h0M186.1 661.2h0M179.4 663.3h0M186.6 652.6h0M183.5 653.5h0M184.1 648.0h0M190.6 658.8h0M173.3 658.5h0M187.2 648.4h0M187.2 647.3h0M170.7 653.0h0M173.6 651.7h0M192.5 653.3h0M185.3 664.9h0" stroke-width="1.10" opacity="0.7"/><path d="M185.1 650.3h0M177.5 655.7h0M183.8 647.0h0M182.9 644.2h0M183.9 653.6h0M188.7 657.7h0M175.4 648.4h0M176.9 655.6h0M183.3 644.4h0M176.5 662.1h0M174.9 653.2h0M177.5 653.6h0M172.7 657.8h0M172.4 661.7h0M191.6 652.4h0M185.9 646.8h0M184.5 658.2h0M182.3 665.9h0M177.4 662.4h0M183.9 649.1h0M182.1 653.2h0M184.8 644.3h0M181.0 657.1h0M189.2 662.1h0M180.5 654.0h0M171.8 659.9h0M185.9 657.9h0M178.5 651.3h0M186.7 663.9h0M187.1 662.7h0M178.3 644.7h0M185.9 647.7h0M186.6 651.9h0M187.1 647.6h0M176.9 658.0h0M191.9 655.3h0M187.9 654.1h0M185.7 664.9h0M187.1 652.7h0M178.1 661.5h0M181.5 655.5h0M175.4 651.2h0M175.9 659.3h0M178.4 664.2h0M173.5 660.8h0M188.1 645.9h0M178.9 662.3h0M183.0 665.0h0M172.3 654.7h0M171.3 652.5h0M171.8 650.9h0M179.5 666.0h0M180.4 659.9h0M178.5 652.8h0M191.7 650.5h0M183.8 655.4h0M192.2 651.8h0M174.5 658.3h0M187.9 646.6h0M189.4 661.7h0M188.6 662.8h0M171.9 653.0h0M184.4 652.1h0M185.8 645.0h0M178.1 658.7h0M175.2 655.8h0M174.9 659.3h0M172.6 652.5h0M180.1 656.7h0M185.0 646.6h0M186.7 663.8h0M176.4 663.6h0M172.6 660.2h0M172.0 659.6h0M184.0 663.0h0M183.5 660.3h0M182.3 645.4h0M189.5 661.3h0M179.1 652.4h0M174.1 647.6h0M180.1 662.1h0M181.1 651.9h0M178.8 657.5h0M187.2 649.5h0M173.2 648.6h0M177.7 646.6h0M177.0 662.3h0M174.3 648.9h0M179.4 651.6h0M174.1 660.8h0M185.1 651.4h0M179.6 658.8h0M186.5 655.2h0M183.3 652.6h0M173.5 650.3h0M182.9 659.9h0M180.8 662.1h0M171.9 656.4h0M176.4 654.8h0M182.5 660.2h0M188.4 654.7h0M183.9 659.9h0M177.1 664.1h0M186.4 650.4h0M187.6 660.9h0M174.5 650.2h0M176.9 657.0h0M174.2 663.1h0M186.5 662.1h0M179.7 645.3h0M178.8 661.7h0M183.1 666.1h0" stroke-width="0.85" opacity="0.7"/><path d="M188.6 648.6h0M182.4 645.2h0M173.5 647.0h0M173.4 654.8h0M182.6 661.9h0M184.8 664.2h0M184.4 664.8h0M176.0 652.2h0M191.9 656.3h0M182.6 659.5h0M187.2 655.5h0M171.8 661.1h0M182.1 643.7h0M184.1 664.6h0M178.6 657.0h0M190.1 658.7h0M188.0 653.8h0M191.7 654.0h0M191.3 654.2h0M188.4 659.3h0M183.0 663.5h0M184.0 654.3h0M188.7 647.0h0M172.3 655.0h0M189.9 660.6h0M188.0 663.0h0M174.1 658.6h0M181.7 655.1h0M184.2 655.3h0M187.4 655.4h0M179.3 661.8h0M190.2 660.8h0M182.9 644.3h0M183.5 665.6h0M178.9 652.2h0M184.0 659.7h0M185.0 661.4h0M178.7 665.6h0M180.6 660.5h0M174.5 658.6h0M177.6 660.2h0M178.7 647.4h0M191.3 652.4h0M180.8 663.2h0M187.7 650.1h0M174.8 659.2h0M178.5 647.5h0M189.6 649.6h0M183.6 663.6h0M185.6 658.0h0M178.9 646.7h0M180.5 653.8h0M184.2 664.5h0M185.9 644.8h0M181.8 666.3h0M189.9 661.2h0M171.6 658.3h0M173.0 655.9h0M185.0 655.2h0M182.9 644.8h0M180.5 658.2h0M173.3 654.8h0M172.6 657.6h0M181.4 651.8h0M182.6 651.8h0M179.9 649.9h0M173.8 663.0h0M185.4 645.2h0M180.5 658.9h0M179.8 661.2h0M176.4 664.5h0M186.9 646.3h0M192.1 653.6h0M180.7 655.7h0M183.8 656.4h0M187.0 650.9h0M179.5 653.0h0M175.6 656.3h0M186.1 661.3h0M174.8 663.2h0M180.7 646.3h0M176.5 646.1h0M187.7 650.8h0M185.4 654.9h0M182.4 651.2h0M180.8 643.6h0M183.0 647.3h0M175.7 655.0h0M186.1 646.9h0M183.6 663.9h0M190.7 655.5h0M183.5 646.7h0M178.7 662.1h0M190.3 655.9h0M192.3 655.9h0M172.7 657.3h0" stroke-width="0.59" opacity="0.7"/></g>
<clipPath id="pc126"><circle cx="206.2" cy="655.0" r="11.4"/></clipPath>
<circle cx="206.20" cy="655.00" r="11.40" fill="#e4e0f8" stroke="#bcaeee" stroke-width="0.7"/>
<circle cx="206.20" cy="655.00" r="11.10" fill="url(#pg)" stroke="none" stroke-width="1"/>
<g clip-path="url(#pc126)" fill="none" stroke="#7050e0" stroke-linecap="round"><path d="M198.8 651.4l-0.1 0.4M198.9 656.3l-1.0 -1.1M203.9 652.7l0.5 0.1M200.2 662.3l-0.3 -0.2M208.5 647.9l0.0 -1.5M202.1 650.7l-1.0 0.4M201.9 658.1l-0.2 -0.8M198.4 660.1l-1.4 1.1M201.3 647.8l-1.0 0.4M214.3 655.4l-0.4 1.3M212.6 659.1l0.2 1.4M199.6 657.1l0.1 0.9M204.7 648.7l0.6 -0.0M204.8 647.6l-1.0 -0.9M208.0 654.4l0.3 0.8M198.5 661.0l0.0 1.3M208.3 652.3l0.7 -0.5M203.2 645.5l0.5 1.0M200.4 658.2l1.2 0.6M196.9 649.7l0.3 1.1M206.3 661.4l-0.0 1.5M214.2 654.2l0.5 0.7" stroke-width="1.53" opacity="0.56"/><path d="M196.7 652.7h0M198.6 659.0h0M212.9 647.2h0M209.3 662.6h0M197.4 650.8h0M201.6 662.7h0M216.4 654.4h0M207.7 655.9h0M207.2 656.8h0M213.9 660.8h0M212.0 654.7h0M214.5 662.1h0M203.4 646.6h0M203.6 660.8h0M209.2 644.8h0M208.8 659.3h0M206.9 657.8h0M210.4 648.5h0M197.6 648.1h0M197.9 659.9h0M212.5 660.6h0M211.8 664.7h0M205.0 649.5h0M203.4 652.4h0M207.3 663.6h0M212.4 655.7h0M205.3 654.9h0M208.1 651.1h0M213.5 655.0h0M202.7 650.7h0M211.5 657.6h0M206.9 663.7h0M204.0 663.5h0M212.3 657.6h0M196.4 659.5h0M205.3 647.7h0M200.2 647.2h0M212.0 662.1h0M202.4 662.1h0M213.0 658.5h0M209.8 661.9h0M200.6 654.6h0M202.3 663.3h0M209.6 646.7h0M196.3 658.6h0M211.2 660.3h0M215.1 655.2h0M212.3 661.5h0M205.9 649.5h0M201.7 663.5h0M200.9 654.5h0M213.7 647.8h0M212.0 646.8h0M207.0 653.5h0M214.2 658.5h0M200.9 660.1h0M207.6 655.0h0M203.6 659.1h0M202.8 663.7h0M204.6 649.0h0M205.2 649.3h0M209.5 653.5h0M207.0 644.9h0M207.0 654.9h0M202.8 644.4h0M211.4 647.0h0M198.5 653.3h0M195.7 650.8h0M205.7 644.0h0M202.9 657.6h0M204.8 644.3h0M204.3 664.4h0M204.2 647.3h0M211.0 655.3h0M208.8 656.1h0M213.2 663.3h0M199.3 647.3h0M201.5 656.5h0M215.0 653.9h0M198.4 653.7h0M205.0 660.0h0M203.3 658.9h0M214.3 657.5h0M205.3 644.0h0M207.3 649.0h0M200.4 651.7h0M199.6 651.2h0M201.7 663.1h0M204.4 654.7h0M201.1 656.4h0M206.8 663.6h0M198.1 658.3h0M204.4 649.4h0M199.5 661.6h0M204.0 647.6h0M204.9 663.0h0M201.4 644.7h0M210.2 653.8h0M200.5 661.3h0M197.4 656.3h0M216.1 655.2h0M211.5 653.3h0M213.2 654.5h0M201.2 656.5h0M197.8 659.6h0M214.6 648.4h0M199.2 653.2h0M202.1 650.8h0M203.5 657.4h0M213.3 662.5h0M208.7 649.4h0M205.1 653.2h0" stroke-width="1.10" opacity="0.7"/><path d="M216.9 654.3h0M201.8 662.3h0M199.0 661.6h0M202.0 658.4h0M211.3 653.6h0M213.9 661.0h0M197.2 652.8h0M205.7 653.9h0M215.1 653.6h0M200.0 657.8h0M215.6 652.3h0M209.9 653.6h0M211.9 661.8h0M217.4 653.7h0M199.9 648.7h0M208.5 654.2h0M213.8 662.5h0M198.8 654.0h0M204.9 648.6h0M214.0 658.0h0M198.5 659.3h0M214.4 658.8h0M210.3 649.9h0M204.6 649.9h0M202.4 653.4h0M213.3 655.9h0M214.0 652.7h0M200.9 661.6h0M199.7 654.0h0M217.3 653.8h0M212.3 646.3h0M211.9 660.5h0M203.1 657.9h0M213.3 652.2h0M202.5 647.2h0M198.1 657.7h0M212.5 661.3h0M210.3 659.9h0M206.0 666.0h0M198.4 648.2h0M206.0 665.5h0M212.5 662.4h0M197.7 658.0h0M209.6 655.7h0M209.2 648.5h0M195.0 652.9h0M202.8 660.4h0M201.8 660.3h0M208.7 665.6h0M206.4 653.0h0M202.5 644.4h0M209.8 644.8h0M207.2 647.7h0M211.3 664.9h0M212.8 661.6h0M208.7 656.6h0M216.0 654.1h0M213.5 647.5h0M206.9 656.1h0M208.4 650.2h0M198.0 647.6h0M209.9 656.3h0M206.3 662.5h0M211.4 646.6h0M208.3 644.4h0M198.4 655.4h0M208.9 659.4h0M199.6 646.4h0M205.7 654.2h0M197.9 653.6h0M206.5 661.5h0M197.6 656.8h0M215.3 653.1h0M205.0 664.9h0M196.0 656.0h0M205.8 650.3h0M206.9 661.6h0M199.4 657.7h0M212.6 653.8h0M202.7 655.0h0M198.0 649.6h0M214.9 653.8h0M201.0 659.7h0M208.3 658.1h0M197.4 652.5h0M207.8 649.7h0M213.9 656.9h0M208.3 645.0h0M203.3 657.2h0M209.1 656.5h0M207.8 649.5h0M199.1 657.1h0M206.2 644.5h0M199.5 658.4h0M207.8 645.1h0M201.6 661.1h0M200.5 653.4h0M209.4 661.5h0M202.5 652.0h0M201.4 650.3h0M209.6 655.7h0M215.0 648.8h0M202.5 650.4h0M205.2 663.8h0M195.2 656.1h0M207.5 659.5h0M199.6 646.0h0M203.3 647.7h0M207.4 654.1h0M200.6 661.7h0M204.1 654.6h0M211.0 660.7h0" stroke-width="0.85" opacity="0.7"/><path d="M197.7 652.0h0M208.0 653.6h0M206.9 657.0h0M215.6 656.0h0M214.5 653.6h0M212.8 657.7h0M203.2 651.8h0M200.5 645.7h0M200.7 648.4h0M213.8 657.2h0M203.6 651.0h0M211.5 663.3h0M207.6 645.8h0M209.5 647.0h0M208.8 654.5h0M206.7 652.9h0M204.5 644.4h0M204.6 658.4h0M214.3 659.7h0M203.7 647.8h0M204.1 661.2h0M208.7 660.0h0M199.9 652.9h0M198.3 660.3h0M214.5 651.9h0M211.4 650.1h0M205.2 645.9h0M214.3 654.5h0M217.4 656.2h0M197.0 661.7h0M211.3 657.9h0M215.7 659.5h0M204.2 662.0h0M199.7 659.9h0M210.5 664.9h0M203.3 662.1h0M206.6 661.4h0M207.2 655.4h0M206.7 666.0h0M200.6 652.5h0M199.3 655.8h0M213.1 662.7h0M211.5 662.9h0M212.8 664.0h0M202.4 663.2h0M198.4 647.8h0M203.4 665.9h0M203.7 663.1h0M208.5 654.5h0M202.2 661.5h0M208.7 661.9h0M211.0 657.1h0M196.0 658.8h0M217.1 654.8h0M203.1 663.7h0M199.1 651.1h0M195.8 651.5h0M196.3 653.2h0M199.5 658.5h0M210.8 660.3h0M211.6 657.1h0M206.8 643.8h0M200.7 651.6h0M214.0 662.3h0M204.3 660.2h0M201.7 658.8h0M203.8 660.8h0M199.7 663.5h0M210.1 649.6h0M211.2 646.4h0M206.7 647.8h0M203.1 654.7h0M217.1 652.8h0M201.7 651.8h0M204.2 653.8h0M210.0 659.4h0M208.6 650.2h0M200.6 658.8h0M209.4 651.3h0M196.7 657.1h0M212.9 664.0h0M208.7 660.6h0M201.2 657.8h0M209.7 664.8h0M207.8 665.7h0M206.2 655.5h0M207.6 646.3h0M208.4 662.5h0M214.1 661.9h0M211.7 646.7h0M206.4 661.9h0M209.6 647.1h0M199.5 653.4h0M197.9 655.7h0M198.5 650.0h0M206.7 650.5h0" stroke-width="0.59" opacity="0.7"/></g>
<clipPath id="pc127"><circle cx="230.5" cy="655.0" r="11.4"/></clipPath>
<circle cx="230.50" cy="655.00" r="11.40" fill="#d6ccf6" stroke="#a898ea" stroke-width="0.7"/>
<circle cx="230.50" cy="655.00" r="11.10" fill="url(#pg)" stroke="none" stroke-width="1"/>
<g clip-path="url(#pc127)" fill="none" stroke="#6a44e0" stroke-linecap="round"><path d="M238.7 657.4l0.2 -1.2M240.8 657.0l-0.3 -0.6M225.3 645.9l-0.6 1.4M226.4 664.8l0.6 -1.1M233.6 653.3l-1.2 0.3M232.1 654.8l1.4 0.7M228.9 648.6l-0.4 -0.7M225.0 654.8l-1.2 -0.4M239.0 658.4l-0.9 -0.7M222.2 658.9l1.0 1.0M230.3 664.8l1.3 0.2M238.6 651.7l-0.8 -0.8M232.0 650.4l1.4 1.4M230.4 650.8l-1.3 1.0M231.6 660.7l0.2 0.5M224.2 658.3l0.2 0.2M225.5 650.6l-1.5 -1.2M231.1 663.0l-0.7 -0.9M233.4 651.9l1.1 0.3M221.8 648.5l-1.1 0.6M231.5 644.5l-0.4 -0.6M229.1 661.3l0.2 -0.1M232.0 657.2l-0.8 -0.8M231.1 655.2l-0.5 1.1M221.8 653.5l-0.5 1.4M229.9 653.3l0.2 -0.9M239.9 659.7l1.2 0.2M232.0 654.0l1.1 -0.4M231.2 660.5l-0.1 0.9M220.2 657.2l-0.6 -1.5M234.7 649.2l0.7 0.4M228.5 659.4l0.7 -0.7M232.1 659.8l-1.1 -0.1M233.1 652.0l0.5 -1.5M225.5 660.1l-0.9 -0.1M232.0 656.9l0.2 -1.2M231.7 659.6l0.5 -0.4M234.9 656.3l-0.1 0.4M235.7 647.0l-0.6 1.3M226.5 660.7l-1.2 -0.0" stroke-width="1.80" opacity="0.62"/><path d="M234.1 646.2h0M241.7 653.7h0M235.0 660.2h0M234.0 658.9h0M237.0 659.4h0M221.5 658.1h0M231.9 657.4h0M235.5 663.4h0M237.0 652.2h0M233.0 645.8h0M221.1 652.7h0M231.8 660.6h0M227.1 648.2h0M238.4 657.3h0M229.4 647.9h0M225.6 655.2h0M235.9 648.9h0M236.4 659.4h0M225.6 664.9h0M231.6 648.8h0M241.5 652.9h0M230.1 656.2h0M238.5 659.1h0M229.5 665.6h0M225.2 662.2h0M223.6 661.9h0M241.1 654.6h0M229.9 659.8h0M228.9 657.6h0M233.4 651.5h0M221.0 654.3h0M224.3 650.1h0M226.6 651.8h0M232.2 661.5h0M230.6 662.0h0M236.2 657.8h0M229.4 660.5h0M225.3 650.8h0M224.7 647.1h0M226.7 653.2h0M222.0 651.3h0M221.4 649.7h0M238.4 661.0h0M226.1 645.5h0M230.2 665.7h0M233.1 648.2h0M221.8 660.4h0M238.9 655.5h0M233.9 651.7h0M229.3 647.7h0M228.1 648.3h0M230.9 661.2h0M225.0 650.0h0M232.0 663.3h0M233.3 655.1h0M235.3 650.5h0M222.2 647.5h0M241.2 651.4h0M235.1 661.9h0M230.6 657.3h0M238.2 661.2h0M231.6 659.0h0M231.1 650.8h0M230.1 663.6h0M224.8 652.4h0M220.0 656.3h0M224.7 661.1h0M238.4 660.0h0M224.7 659.4h0M240.6 658.5h0M231.9 652.3h0M240.2 652.1h0M239.8 652.5h0M233.5 655.4h0M238.3 656.4h0M236.0 657.8h0M234.9 655.4h0M236.7 653.0h0M234.2 652.5h0M230.2 655.4h0M224.5 646.9h0M238.5 652.1h0M230.2 661.8h0M232.0 657.3h0M221.7 660.6h0M233.4 663.4h0M241.5 654.9h0M239.9 653.2h0M221.3 654.6h0M234.9 644.8h0M225.1 665.0h0M231.8 660.8h0M241.1 653.0h0M234.0 649.2h0M229.4 645.9h0M237.8 658.5h0M222.0 654.9h0M232.6 649.8h0M223.5 646.7h0M227.8 660.6h0M222.8 652.7h0M226.5 659.0h0M225.2 664.0h0M231.0 663.8h0M236.8 650.3h0M231.4 662.5h0M240.5 656.8h0M230.6 657.7h0M226.5 662.1h0M228.5 659.0h0M238.7 652.1h0M234.7 651.1h0M234.1 658.2h0M222.0 660.9h0M237.8 652.9h0M239.4 658.0h0M225.7 649.5h0M234.0 650.4h0M229.4 663.2h0M222.4 662.5h0M225.0 658.4h0M224.8 648.3h0M240.3 650.2h0M237.7 662.2h0M224.7 657.6h0M238.0 660.4h0M236.1 663.8h0M235.9 657.0h0M222.8 658.1h0M237.2 651.9h0M227.8 656.1h0M227.4 663.5h0M219.5 657.6h0" stroke-width="1.30" opacity="0.78"/><path d="M235.0 652.5h0M219.8 651.5h0M220.2 659.6h0M222.3 652.3h0M231.0 661.5h0M226.6 645.5h0M224.5 661.5h0M227.2 656.5h0M222.8 660.7h0M235.6 656.6h0M239.2 654.6h0M223.8 657.6h0M223.6 648.7h0M239.7 659.7h0M230.3 648.0h0M231.3 658.9h0M225.8 656.1h0M222.7 661.0h0M224.7 650.7h0M234.2 664.6h0M230.6 662.0h0M221.6 651.4h0M224.9 647.9h0M222.8 659.6h0M240.6 650.6h0M238.2 659.6h0M235.1 657.2h0M232.3 648.0h0M227.1 656.8h0M226.7 655.0h0M238.9 660.3h0M236.5 664.4h0M225.4 647.7h0M233.8 653.0h0M239.7 649.3h0M228.8 659.9h0M239.5 649.8h0M225.4 664.9h0M231.7 644.4h0M235.9 649.5h0M237.3 646.3h0M225.1 653.6h0M227.4 652.2h0M228.1 650.8h0M239.0 652.9h0M239.3 648.7h0M240.8 655.7h0M221.7 660.7h0M221.7 659.8h0M226.3 659.5h0M233.0 653.5h0M229.1 656.1h0M227.3 649.2h0M229.9 657.8h0M220.9 658.2h0M226.6 648.5h0M226.6 654.8h0M227.1 645.0h0M236.4 649.1h0M239.6 659.1h0M231.2 650.5h0M221.3 648.8h0M226.9 646.6h0M229.4 649.7h0M221.5 653.8h0M222.5 650.4h0M240.8 652.7h0M220.9 658.3h0M229.4 661.2h0M229.9 665.7h0M226.7 654.7h0M227.7 664.6h0M221.1 655.1h0M223.8 658.6h0M236.3 661.5h0M225.2 659.1h0M219.3 654.9h0M230.0 650.1h0M235.1 660.0h0M234.5 650.6h0M234.8 651.9h0M236.9 661.0h0M239.3 650.7h0M233.8 652.9h0M238.2 656.8h0M227.8 658.8h0M239.2 662.3h0M230.4 656.2h0M234.8 659.3h0M228.5 660.0h0M223.2 661.6h0M224.2 648.6h0M236.4 660.7h0M237.6 648.4h0M221.9 656.2h0M231.9 645.4h0M236.7 657.0h0M228.0 650.8h0M239.0 648.3h0M241.0 657.4h0M231.6 648.6h0M236.4 649.0h0M226.6 647.8h0M241.2 653.1h0M230.7 654.6h0M237.9 661.8h0M237.7 651.7h0M225.9 660.5h0M232.0 659.4h0M233.8 656.0h0M222.7 660.6h0M229.0 655.1h0M227.6 661.9h0M229.8 655.2h0M231.4 657.1h0M229.8 652.2h0M222.3 649.2h0M233.2 655.8h0M235.0 649.7h0M235.8 651.7h0M239.6 661.1h0M230.9 660.8h0M236.3 662.2h0M235.7 661.1h0M235.7 652.2h0M227.4 648.9h0M226.0 664.6h0M232.4 647.0h0M225.6 658.1h0M224.0 646.6h0M231.6 644.3h0M238.5 655.6h0M240.2 654.6h0" stroke-width="1.00" opacity="0.78"/><path d="M231.3 644.4h0M231.8 664.5h0M237.5 655.1h0M228.8 657.9h0M228.9 652.9h0M225.3 660.5h0M221.5 653.9h0M233.1 651.9h0M228.0 652.9h0M229.6 654.4h0M226.6 660.7h0M233.7 661.6h0M235.5 661.6h0M239.9 658.2h0M231.1 652.6h0M237.4 647.9h0M228.3 647.6h0M226.2 645.8h0M240.5 649.8h0M235.5 663.4h0M236.7 653.6h0M229.0 658.7h0M238.8 661.1h0M226.5 657.6h0M221.2 653.5h0M239.7 659.6h0M228.5 659.8h0M228.0 651.8h0M223.9 659.2h0M224.8 648.1h0M229.0 648.1h0M229.9 646.8h0M222.4 660.9h0M221.0 657.1h0M223.9 648.5h0M240.8 654.4h0M220.5 655.5h0M231.4 651.2h0M239.1 651.2h0M230.3 662.7h0M239.6 652.7h0M231.8 657.7h0M228.9 653.9h0M219.9 654.8h0M230.1 646.6h0M226.5 665.4h0M227.5 660.7h0M219.5 655.4h0M232.7 656.4h0M237.8 647.5h0M222.9 662.8h0M228.4 662.2h0M228.2 655.9h0M220.9 654.1h0M228.1 665.7h0M232.7 651.2h0M220.1 656.5h0M219.5 655.4h0M234.6 662.8h0M233.4 662.8h0M225.0 646.7h0M225.2 651.1h0M240.6 655.7h0M234.8 649.7h0M230.0 661.7h0M222.8 651.4h0M235.7 654.6h0M239.6 655.0h0M227.5 657.5h0M228.1 652.6h0M228.4 661.5h0M236.1 661.0h0M220.8 656.5h0M225.4 660.9h0M219.6 653.9h0M224.2 653.6h0M237.0 655.1h0M235.3 662.9h0M232.7 661.5h0M228.2 666.0h0M233.2 656.0h0M239.0 653.9h0M222.3 659.5h0M228.4 659.3h0M226.5 649.7h0M227.1 651.4h0M229.4 643.9h0M228.9 656.7h0M227.8 655.3h0M235.2 650.0h0M232.8 649.3h0M229.8 648.3h0M230.1 646.7h0M229.1 647.4h0M227.4 663.5h0M233.9 652.4h0M224.1 658.7h0M236.1 650.1h0M226.5 656.4h0M230.6 654.2h0M222.3 651.6h0M231.3 662.3h0M235.2 661.6h0M220.8 651.3h0M241.5 654.9h0M230.9 650.4h0M227.5 663.4h0M232.7 660.5h0M223.9 646.6h0M233.1 665.4h0M228.8 650.3h0M224.3 660.7h0M222.4 648.7h0M229.6 657.1h0" stroke-width="0.70" opacity="0.78"/></g>
<clipPath id="pc128"><circle cx="254.2" cy="655.0" r="11.4"/></clipPath>
<circle cx="254.20" cy="655.00" r="11.40" fill="#f0f0fb" stroke="#e0e0f4" stroke-width="0.7"/>
<circle cx="254.20" cy="655.00" r="11.10" fill="url(#pg)" stroke="none" stroke-width="1"/>
<g clip-path="url(#pc128)" fill="none" stroke="#b0b0e4" stroke-linecap="round"><path d="M259.4 653.0h0M250.0 654.7h0M258.6 655.8h0M250.5 650.6h0" stroke-width="0.65" opacity="0.6"/><path d="M249.5 646.6h0M251.4 654.0h0M258.9 659.0h0M246.7 662.8h0" stroke-width="0.50" opacity="0.6"/><path d="M252.6 647.6h0M257.8 661.2h0M263.3 649.9h0M251.3 660.8h0" stroke-width="0.35" opacity="0.6"/></g>
<text x="165.10" y="674.61" font-size="7.8" text-anchor="middle" textLength="15.80" lengthAdjust="spacingAndGlyphs">DOX</text>
<text x="180.70" y="674.32" font-size="7.0" text-anchor="middle">-</text>
<text x="204.40" y="674.32" font-size="7.0" text-anchor="middle">+</text>
<text x="229.20" y="674.32" font-size="7.0" text-anchor="middle">-</text>
<text x="254.00" y="674.32" font-size="7.0" text-anchor="middle">+</text>
<line x1="184.00" y1="677.40" x2="204.40" y2="677.40" stroke="#666" stroke-width="1.4"/>
<line x1="233.00" y1="677.40" x2="253.50" y2="677.40" stroke="#666" stroke-width="1.4"/>
<text x="195.10" y="686.61" font-size="7.8" text-anchor="middle" textLength="35.00" lengthAdjust="spacingAndGlyphs">C3-2RNF4</text>
<text x="243.85" y="686.61" font-size="7.8" text-anchor="middle" textLength="34.50" lengthAdjust="spacingAndGlyphs">E8-2RNF4</text>
<line x1="300.50" y1="574.20" x2="300.50" y2="639.00" stroke="#000" stroke-width="1.0"/>
<line x1="298.10" y1="638.60" x2="300.50" y2="638.60" stroke="#000" stroke-width="0.9"/>
<text x="297.30" y="640.26" font-size="4.6" text-anchor="end" font-weight="bold" fill="#222">0</text>
<line x1="298.10" y1="622.62" x2="300.50" y2="622.62" stroke="#000" stroke-width="0.9"/>
<text x="297.30" y="624.28" font-size="4.6" text-anchor="end" font-weight="bold" fill="#222">100</text>
<line x1="298.10" y1="606.65" x2="300.50" y2="606.65" stroke="#000" stroke-width="0.9"/>
<text x="297.30" y="608.31" font-size="4.6" text-anchor="end" font-weight="bold" fill="#222">200</text>
<line x1="298.10" y1="590.68" x2="300.50" y2="590.68" stroke="#000" stroke-width="0.9"/>
<text x="297.30" y="592.33" font-size="4.6" text-anchor="end" font-weight="bold" fill="#222">300</text>
<line x1="298.10" y1="574.70" x2="300.50" y2="574.70" stroke="#000" stroke-width="0.9"/>
<text x="297.30" y="576.36" font-size="4.6" text-anchor="end" font-weight="bold" fill="#222">400</text>
<line x1="312.00" y1="638.60" x2="312.00" y2="641.00" stroke="#000" stroke-width="0.9"/>
<path d="M306.60,638.60 V585.88 H317.40 V638.60" fill="#fff" stroke="#000" stroke-width="1.9"/>
<line x1="312.00" y1="582.69" x2="312.00" y2="589.08" stroke="#000" stroke-width="0.8"/>
<line x1="309.80" y1="582.69" x2="314.20" y2="582.69" stroke="#000" stroke-width="0.8"/>
<circle cx="312.00" cy="578.69" r="1.55" fill="#000" stroke="none" stroke-width="1"/>
<circle cx="312.00" cy="589.08" r="1.55" fill="#000" stroke="none" stroke-width="1"/>
<circle cx="314.90" cy="590.68" r="1.55" fill="#000" stroke="none" stroke-width="1"/>
<line x1="335.70" y1="638.60" x2="335.70" y2="641.00" stroke="#000" stroke-width="0.9"/>
<path d="M330.30,638.60 V580.29 H341.10 V638.60" fill="#fff" stroke="#a8a8a8" stroke-width="1.9"/>
<line x1="335.70" y1="578.69" x2="335.70" y2="581.89" stroke="#a8a8a8" stroke-width="0.8"/>
<line x1="333.50" y1="578.69" x2="337.90" y2="578.69" stroke="#a8a8a8" stroke-width="0.8"/>
<circle cx="335.70" cy="577.10" r="1.35" fill="#fff" stroke="#a8a8a8" stroke-width="0.7"/>
<circle cx="338.60" cy="579.49" r="1.35" fill="#fff" stroke="#a8a8a8" stroke-width="0.7"/>
<circle cx="335.70" cy="585.08" r="1.35" fill="#fff" stroke="#a8a8a8" stroke-width="0.7"/>
<line x1="359.40" y1="638.60" x2="359.40" y2="641.00" stroke="#000" stroke-width="0.9"/>
<path d="M354.00,638.60 V583.01 H364.80 V638.60" fill="#fff" stroke="#b0262a" stroke-width="1.9"/>
<line x1="359.40" y1="582.21" x2="359.40" y2="583.81" stroke="#b0262a" stroke-width="0.8"/>
<line x1="357.20" y1="582.21" x2="361.60" y2="582.21" stroke="#b0262a" stroke-width="0.8"/>
<circle cx="359.40" cy="581.89" r="1.55" fill="#b0262a" stroke="none" stroke-width="1"/>
<circle cx="362.30" cy="583.49" r="1.55" fill="#b0262a" stroke="none" stroke-width="1"/>
<circle cx="356.50" cy="582.69" r="1.55" fill="#b0262a" stroke="none" stroke-width="1"/>
<line x1="383.00" y1="638.60" x2="383.00" y2="641.00" stroke="#000" stroke-width="0.9"/>
<path d="M377.60,638.60 V603.46 H388.40 V638.60" fill="#fff" stroke="#ef8e8e" stroke-width="1.9"/>
<line x1="383.00" y1="602.66" x2="383.00" y2="604.25" stroke="#ef8e8e" stroke-width="0.8"/>
<line x1="380.80" y1="602.66" x2="385.20" y2="602.66" stroke="#ef8e8e" stroke-width="0.8"/>
<circle cx="383.00" cy="602.18" r="1.55" fill="#ef8e8e" stroke="none" stroke-width="1"/>
<circle cx="385.90" cy="604.25" r="1.55" fill="#ef8e8e" stroke="none" stroke-width="1"/>
<circle cx="378.80" cy="602.66" r="1.55" fill="#ef8e8e" stroke="none" stroke-width="1"/>
<line x1="300.10" y1="638.60" x2="395.00" y2="638.60" stroke="#222" stroke-width="1.1"/>
<text x="342.90" y="559.38" font-size="8.0" text-anchor="middle" textLength="43.80" lengthAdjust="spacingAndGlyphs">MSTO-211H</text>
<text x="281.70" y="613.24" font-size="7.6" text-anchor="middle" textLength="52.50" lengthAdjust="spacingAndGlyphs" transform="rotate(-90 281.70 610.50)">Colony number</text>
<line x1="311.50" y1="571.60" x2="335.50" y2="571.60" stroke="#444" stroke-width="0.8"/>
<line x1="311.50" y1="570.10" x2="311.50" y2="573.10" stroke="#444" stroke-width="0.8"/>
<line x1="335.50" y1="570.10" x2="335.50" y2="573.10" stroke="#444" stroke-width="0.8"/>
<text x="324.50" y="570.18" font-size="8.0" text-anchor="middle" textLength="7.00" lengthAdjust="spacingAndGlyphs">ns</text>
<line x1="359.30" y1="577.30" x2="381.50" y2="577.30" stroke="#444" stroke-width="0.8"/>
<line x1="359.30" y1="575.80" x2="359.30" y2="578.80" stroke="#444" stroke-width="0.8"/>
<line x1="381.50" y1="575.80" x2="381.50" y2="578.80" stroke="#444" stroke-width="0.8"/>
<text x="370.45" y="573.94" font-size="6.5" text-anchor="middle" textLength="26.30" lengthAdjust="spacingAndGlyphs"><tspan font-style="italic">P</tspan>=0.0002</text>
<clipPath id="pc129"><circle cx="310.8" cy="654.4" r="11.4"/></clipPath>
<circle cx="310.80" cy="654.40" r="11.40" fill="#dcd8f6" stroke="#bcb4ee" stroke-width="0.7"/>
<circle cx="310.80" cy="654.40" r="11.10" fill="url(#pg)" stroke="none" stroke-width="1"/>
<g clip-path="url(#pc129)" fill="none" stroke="#5646dc" stroke-linecap="round"><path d="M302.6 649.5l-0.7 1.2M318.9 647.6l0.4 -0.5M312.3 651.1l0.1 -1.1M312.7 646.5l0.8 -1.1M309.6 644.8l-1.1 -1.2M315.7 657.0l0.7 -1.2M317.2 651.6l-0.8 -1.0M317.0 658.8l-1.3 0.4M308.9 658.1l-0.1 0.4M312.8 651.6l0.0 -1.1" stroke-width="1.44" opacity="0.60"/><path d="M314.7 652.0h0M302.3 657.5h0M310.6 647.7h0M316.2 650.1h0M316.4 651.0h0M305.2 661.8h0M303.8 653.5h0M306.3 645.6h0M315.3 654.6h0M309.6 665.3h0M307.6 653.5h0M307.6 651.2h0M314.5 664.8h0M307.7 658.0h0M315.7 660.9h0M304.4 651.6h0M310.4 661.5h0M314.8 649.5h0M311.4 659.6h0M317.7 655.3h0M302.6 649.7h0M313.5 661.5h0M317.7 650.7h0M311.7 658.2h0M314.9 646.1h0M317.7 660.6h0M316.6 659.3h0M303.8 651.4h0M307.9 653.2h0M315.0 658.2h0M308.7 647.3h0M307.6 646.0h0M308.5 643.8h0M304.3 652.3h0M310.7 663.6h0M315.5 664.4h0M319.2 650.5h0M318.9 652.4h0M320.0 653.7h0M304.8 652.1h0M317.8 652.6h0M312.3 660.9h0M319.1 655.3h0M314.1 657.1h0M318.5 656.1h0M304.0 659.9h0M322.1 655.2h0M320.2 656.3h0M318.3 647.0h0M302.7 649.6h0M316.5 651.2h0M305.9 661.3h0M309.8 657.8h0M316.2 651.2h0M312.3 647.3h0M300.4 650.5h0M305.2 646.0h0M314.5 648.5h0M313.0 660.7h0M310.3 656.0h0M306.6 662.2h0M307.1 651.2h0M303.7 652.3h0M309.5 653.5h0M315.7 651.8h0M319.1 654.0h0M317.7 656.5h0M305.6 663.9h0M315.4 658.6h0M315.2 645.6h0M320.7 657.5h0M310.2 663.6h0M314.0 656.2h0M313.8 645.3h0M317.8 652.1h0M316.2 648.9h0M313.2 646.2h0M313.5 661.0h0M319.0 651.7h0M314.5 645.6h0M304.8 655.3h0M313.6 662.1h0M316.3 656.2h0M308.8 654.7h0M302.2 656.0h0M305.6 652.8h0M303.1 654.9h0M315.3 650.2h0M313.1 647.5h0M319.1 648.1h0M307.3 652.9h0M305.9 664.2h0M309.7 656.9h0M319.5 660.4h0M308.9 662.9h0M306.1 660.0h0M313.9 646.2h0M310.3 648.0h0M306.7 663.2h0M306.4 655.6h0M306.9 644.4h0M314.2 658.6h0M318.8 660.1h0M316.6 662.8h0M308.8 650.4h0" stroke-width="1.04" opacity="0.75"/><path d="M306.6 646.4h0M303.8 648.6h0M305.1 660.6h0M312.6 659.6h0M307.8 653.5h0M316.1 650.9h0M301.5 654.0h0M318.8 653.7h0M309.5 660.4h0M308.4 649.7h0M299.9 655.5h0M315.5 659.5h0M316.7 657.9h0M314.4 662.7h0M304.8 658.5h0M303.3 662.6h0M301.7 657.6h0M309.4 653.8h0M305.2 657.0h0M304.7 648.8h0M315.4 655.2h0M311.7 659.2h0M314.0 648.5h0M300.8 654.2h0M318.3 656.8h0M310.6 653.1h0M302.8 650.3h0M315.2 651.9h0M308.5 652.3h0M309.6 661.0h0M316.9 648.1h0M309.1 654.3h0M303.6 653.0h0M312.0 660.2h0M315.8 659.4h0M305.2 660.4h0M303.0 651.1h0M312.1 651.2h0M308.7 650.2h0M316.2 644.7h0M302.4 649.6h0M318.7 652.9h0M313.2 650.2h0M308.5 645.2h0M307.9 649.0h0M309.7 647.5h0M313.5 653.0h0M307.1 647.4h0M309.6 659.8h0M309.1 647.3h0M318.2 662.6h0M300.0 656.8h0M299.8 651.7h0M313.9 651.8h0M305.6 656.6h0M310.1 655.3h0M308.5 649.8h0M304.6 663.7h0M307.9 645.2h0M319.3 648.4h0M318.8 651.6h0M307.7 644.6h0M304.8 655.6h0M304.7 656.3h0M310.2 655.4h0M305.9 660.6h0M317.6 662.4h0M303.3 657.2h0M318.0 646.5h0M319.0 648.5h0M313.8 647.3h0M317.0 656.9h0M300.1 653.5h0M309.3 655.9h0M317.3 645.5h0M314.3 654.1h0M300.0 652.0h0M309.8 647.1h0M313.8 660.9h0M312.2 645.2h0M320.6 651.5h0M315.7 652.8h0M310.8 644.4h0M313.5 657.2h0M313.6 660.6h0M317.1 648.8h0M304.2 654.5h0M312.4 646.9h0M300.8 659.4h0M307.5 644.8h0M316.7 654.7h0M313.4 654.6h0M316.3 646.3h0M317.3 650.7h0M311.6 655.6h0M314.5 655.4h0M320.0 653.8h0M307.2 654.2h0M304.0 648.9h0M318.5 662.3h0M318.2 646.8h0M309.3 648.4h0M313.6 646.6h0M302.6 648.9h0M303.6 649.5h0" stroke-width="0.80" opacity="0.75"/><path d="M315.2 663.5h0M307.1 644.2h0M316.6 650.3h0M301.6 652.8h0M309.0 652.7h0M302.0 656.2h0M311.7 659.5h0M316.1 657.8h0M320.5 653.5h0M309.2 653.5h0M309.1 657.4h0M316.9 645.1h0M312.8 661.5h0M313.7 657.5h0M302.1 651.6h0M314.9 652.3h0M316.3 650.6h0M306.8 656.3h0M312.9 664.8h0M318.8 647.4h0M319.6 657.0h0M300.8 658.7h0M313.8 653.2h0M304.2 648.7h0M309.8 647.7h0M312.1 658.2h0M308.3 645.9h0M320.7 649.7h0M307.5 644.1h0M307.4 650.2h0M317.0 658.0h0M316.2 649.7h0M314.8 650.4h0M313.6 662.2h0M308.7 658.8h0M305.0 653.5h0M311.8 662.9h0M321.2 651.0h0M302.8 656.6h0M311.8 656.7h0M319.7 657.5h0M313.3 649.4h0M315.6 658.6h0M318.3 650.3h0M308.2 659.1h0M305.3 651.3h0M316.4 645.1h0M306.4 664.7h0M319.3 648.8h0M305.5 660.9h0M320.7 650.5h0M311.3 663.9h0M303.6 662.0h0M308.3 654.6h0M310.4 655.4h0M315.2 663.8h0M300.3 657.9h0M313.1 665.1h0M315.4 661.7h0M318.8 656.9h0M320.0 654.7h0M312.2 665.4h0M321.2 656.2h0M309.6 655.7h0M315.8 661.7h0M308.8 656.4h0M311.6 651.2h0M315.4 655.8h0M316.2 662.0h0M310.3 665.3h0M317.9 655.6h0M320.2 660.0h0M315.2 663.4h0M310.3 652.6h0M306.9 652.7h0M319.4 656.2h0M304.8 659.2h0M315.9 656.4h0M303.2 647.3h0M317.9 661.5h0M309.2 657.8h0M304.8 651.0h0M300.1 652.5h0M306.0 652.3h0M318.7 652.7h0M301.2 658.5h0M318.2 648.3h0M303.9 646.0h0M310.3 644.9h0M317.6 655.5h0" stroke-width="0.56" opacity="0.75"/></g>
<clipPath id="pc130"><circle cx="335.0" cy="654.4" r="11.4"/></clipPath>
<circle cx="335.00" cy="654.40" r="11.40" fill="#dcd8f6" stroke="#bcb4ee" stroke-width="0.7"/>
<circle cx="335.00" cy="654.40" r="11.10" fill="url(#pg)" stroke="none" stroke-width="1"/>
<g clip-path="url(#pc130)" fill="none" stroke="#5646dc" stroke-linecap="round"><path d="M329.4 653.7l0.7 0.9M334.0 653.1l-0.8 -0.5M343.7 653.1l0.1 0.5M342.1 659.9l0.5 -0.9M330.6 659.8l1.4 -0.4M344.6 656.1l1.1 -0.5M333.4 643.8l-0.3 0.5M327.3 652.0l0.1 1.0M344.2 649.4l-1.1 1.1M338.2 657.2l-1.0 -1.2" stroke-width="1.44" opacity="0.60"/><path d="M331.6 655.8h0M325.1 658.6h0M332.3 656.1h0M335.4 646.2h0M337.7 660.5h0M334.7 662.9h0M339.3 652.1h0M329.5 656.7h0M327.7 646.5h0M335.9 658.6h0M330.4 661.4h0M326.5 657.2h0M336.1 662.6h0M340.4 661.3h0M331.7 664.1h0M332.4 654.4h0M330.3 650.0h0M331.7 655.2h0M332.0 649.3h0M342.3 656.8h0M338.9 661.2h0M337.3 659.2h0M338.2 658.0h0M337.9 650.9h0M329.3 660.9h0M337.3 658.5h0M333.4 665.0h0M341.5 647.9h0M339.7 656.6h0M334.0 648.4h0M339.9 658.6h0M339.2 651.9h0M336.0 652.3h0M328.7 646.8h0M342.5 655.7h0M344.6 649.1h0M330.5 651.8h0M330.6 658.4h0M331.5 650.5h0M334.6 645.1h0M328.5 656.8h0M337.7 650.0h0M332.4 653.7h0M342.6 656.5h0M335.7 660.3h0M334.2 658.4h0M329.2 656.4h0M343.6 648.4h0M330.8 655.1h0M341.3 652.4h0M344.6 655.1h0M339.4 664.5h0M334.1 655.4h0M334.6 647.6h0M337.0 656.7h0M331.8 653.2h0M337.1 660.2h0M327.6 654.3h0M331.2 644.5h0M339.9 650.5h0M334.8 643.8h0M326.7 656.7h0M331.8 647.1h0M324.1 651.6h0M333.2 656.0h0M332.5 658.2h0M331.9 647.3h0M325.2 652.2h0M335.1 649.5h0M343.5 647.0h0M336.3 658.1h0M337.3 663.1h0M326.8 661.8h0M328.9 654.6h0M338.8 662.0h0M341.4 660.0h0M333.8 663.9h0M327.5 654.8h0M334.3 651.9h0M328.8 657.3h0M340.7 648.6h0M329.4 661.2h0M336.4 664.1h0M342.9 651.5h0M338.3 652.0h0M340.3 645.5h0M328.5 663.2h0M326.3 649.8h0M338.0 650.1h0M335.8 664.8h0M330.0 655.1h0M338.6 648.4h0M334.3 663.5h0M338.9 662.3h0M326.9 652.1h0M326.5 654.0h0M333.0 658.9h0M333.4 659.0h0M339.9 660.2h0M343.3 655.8h0M345.5 653.2h0M325.6 656.7h0M337.8 643.4h0M326.3 647.4h0M340.7 660.6h0" stroke-width="1.04" opacity="0.75"/><path d="M344.3 657.4h0M328.1 647.4h0M335.4 658.6h0M345.3 654.1h0M327.7 653.4h0M334.7 647.4h0M333.7 654.4h0M329.1 662.6h0M339.2 661.9h0M329.5 656.5h0M327.8 657.8h0M344.9 654.7h0M336.9 659.7h0M328.8 651.2h0M343.5 653.4h0M342.6 647.4h0M337.2 651.2h0M333.7 648.4h0M332.1 645.9h0M336.9 662.0h0M334.7 665.2h0M331.7 653.1h0M337.3 646.6h0M329.5 650.1h0M330.5 656.6h0M329.7 650.5h0M339.0 657.2h0M341.4 661.0h0M331.9 656.5h0M330.7 663.1h0M332.4 656.6h0M333.2 646.8h0M337.4 652.0h0M336.2 643.8h0M333.1 653.9h0M330.1 657.0h0M338.6 657.2h0M336.9 661.1h0M336.6 664.1h0M338.5 646.9h0M328.9 661.6h0M337.2 659.1h0M331.1 645.1h0M325.7 650.8h0M340.9 652.4h0M335.5 660.5h0M340.0 655.2h0M339.2 658.2h0M328.1 659.5h0M330.2 649.7h0M329.7 650.0h0M342.8 647.2h0M343.5 660.7h0M339.7 656.0h0M330.8 653.3h0M332.9 643.8h0M328.1 660.6h0M337.8 657.4h0M334.3 650.1h0M330.5 663.9h0M342.4 654.7h0M325.6 657.3h0M336.7 656.2h0M333.8 664.8h0M332.4 649.2h0M334.0 647.5h0M340.4 654.6h0M334.4 651.8h0M339.2 663.9h0M333.3 649.4h0M344.4 659.0h0M337.2 648.4h0M329.2 652.7h0M335.3 644.1h0M330.4 658.3h0M344.8 657.9h0M343.9 648.5h0M327.8 647.5h0M333.5 650.1h0M340.5 660.9h0M336.1 652.7h0M333.7 657.2h0M331.2 656.7h0M329.8 656.8h0M331.7 662.6h0M342.6 647.4h0M329.4 657.2h0M343.2 657.6h0M343.4 648.3h0M338.1 661.6h0M332.9 662.0h0M342.0 650.3h0M332.8 652.8h0M328.7 659.6h0M332.1 648.5h0M332.8 643.4h0M342.0 648.8h0M337.6 660.4h0M340.0 662.8h0M345.2 657.8h0M333.6 655.6h0M335.2 648.5h0M328.9 647.2h0M333.0 648.8h0M334.8 653.0h0" stroke-width="0.80" opacity="0.75"/><path d="M332.3 655.3h0M325.9 658.0h0M328.3 651.4h0M332.5 655.1h0M340.2 663.9h0M332.5 663.9h0M329.5 663.6h0M340.8 661.7h0M332.2 648.3h0M328.9 656.7h0M338.2 643.6h0M345.5 657.9h0M344.0 654.9h0M328.5 651.8h0M337.6 651.2h0M340.4 647.8h0M330.2 645.1h0M334.0 653.9h0M346.1 655.2h0M336.4 645.9h0M336.0 643.5h0M335.9 658.8h0M329.9 648.7h0M342.4 647.8h0M342.9 650.1h0M336.5 662.1h0M341.8 656.9h0M334.8 663.4h0M342.6 654.3h0M343.9 656.4h0M341.6 655.8h0M341.3 657.8h0M336.7 646.9h0M336.3 657.4h0M338.9 657.3h0M337.6 658.0h0M325.3 658.1h0M333.0 648.2h0M341.3 659.1h0M330.3 661.4h0M342.2 659.6h0M338.1 652.5h0M342.0 657.3h0M339.4 656.0h0M330.5 660.5h0M325.4 653.2h0M325.0 652.5h0M338.1 655.0h0M340.2 654.7h0M324.7 659.0h0M331.2 662.5h0M341.0 662.5h0M345.1 652.9h0M335.5 658.1h0M340.0 653.6h0M334.0 658.4h0M325.5 657.2h0M334.1 645.8h0M325.9 651.9h0M330.7 660.6h0M333.0 662.3h0M340.1 647.5h0M336.1 649.4h0M338.4 662.0h0M337.0 659.8h0M326.8 647.2h0M333.2 664.6h0M331.8 661.9h0M336.7 661.3h0M339.5 657.1h0M334.4 657.8h0M325.3 650.8h0M329.3 656.0h0M332.0 664.6h0M335.8 659.6h0M337.8 655.8h0M329.5 644.6h0M336.6 652.3h0M327.9 656.2h0M335.8 648.0h0M337.6 644.3h0M335.3 656.0h0M328.5 653.8h0M340.5 650.3h0M327.3 658.7h0M340.5 654.2h0M335.4 664.9h0M326.3 660.4h0M339.7 663.6h0M334.4 664.1h0" stroke-width="0.56" opacity="0.75"/></g>
<clipPath id="pc131"><circle cx="360.0" cy="654.4" r="11.4"/></clipPath>
<circle cx="360.00" cy="654.40" r="11.40" fill="#dcd8f6" stroke="#bcb4ee" stroke-width="0.7"/>
<circle cx="360.00" cy="654.40" r="11.10" fill="url(#pg)" stroke="none" stroke-width="1"/>
<g clip-path="url(#pc131)" fill="none" stroke="#5646dc" stroke-linecap="round"><path d="M356.2 663.1l-1.2 -0.6M352.1 660.9l-0.5 0.3M363.6 657.0l0.6 0.2M358.7 647.3l-0.0 -0.9M360.4 656.8l-1.0 -0.1M352.2 649.3l0.4 0.9M359.9 653.4l1.2 -0.0M357.1 655.7l-1.0 -1.3M368.0 659.7l-0.4 0.8M368.5 653.6l-0.9 -1.0" stroke-width="1.44" opacity="0.60"/><path d="M367.8 652.6h0M354.3 663.9h0M365.2 663.7h0M367.5 654.9h0M354.2 664.0h0M351.8 656.8h0M363.2 645.9h0M365.0 645.4h0M363.9 656.1h0M354.0 658.3h0M361.8 650.5h0M370.2 653.5h0M356.6 649.7h0M361.9 645.0h0M364.1 649.6h0M361.2 649.4h0M356.0 655.6h0M359.1 665.5h0M364.5 654.4h0M359.5 653.8h0M355.2 660.2h0M360.3 656.8h0M354.8 644.9h0M362.1 661.0h0M359.7 644.8h0M358.1 648.3h0M369.6 651.1h0M363.1 645.9h0M365.2 664.2h0M353.3 650.0h0M355.7 645.4h0M362.6 658.5h0M357.5 657.7h0M358.7 650.2h0M353.5 648.3h0M359.9 644.3h0M355.2 653.6h0M367.3 649.0h0M349.4 654.3h0M363.5 646.4h0M356.0 657.7h0M362.3 655.2h0M369.3 655.8h0M366.5 661.4h0M359.1 659.4h0M366.7 652.6h0M367.4 659.9h0M353.9 645.1h0M361.9 647.6h0M355.9 652.0h0M355.9 661.0h0M360.8 664.8h0M361.6 647.5h0M362.9 647.6h0M362.3 659.6h0M367.0 660.9h0M359.0 657.1h0M367.2 657.5h0M363.9 650.4h0M364.1 645.1h0M365.4 657.4h0M368.4 649.1h0M359.0 653.2h0M360.2 664.1h0M363.3 658.4h0M367.2 658.2h0M363.2 664.2h0M368.3 659.1h0M365.2 652.1h0M352.4 661.0h0M362.2 662.2h0M363.8 660.4h0M357.7 654.3h0M365.8 649.6h0M363.1 656.1h0M359.7 657.3h0M358.6 649.4h0M352.0 653.9h0M359.9 663.5h0M353.8 661.6h0M351.3 651.4h0M369.6 651.8h0M363.9 644.9h0M361.2 647.0h0M353.5 663.8h0M357.0 661.4h0M359.1 657.3h0M354.2 652.5h0M365.1 663.9h0M357.9 662.1h0M371.1 653.4h0M368.1 649.3h0M356.2 660.2h0M362.4 647.4h0M362.4 649.1h0M354.4 645.0h0M358.4 654.8h0M358.1 659.2h0M357.6 648.0h0M354.3 658.3h0M362.2 646.6h0M364.5 654.9h0M364.0 662.7h0M360.8 661.2h0M366.8 648.5h0" stroke-width="1.04" opacity="0.75"/><path d="M363.3 647.5h0M356.4 654.7h0M365.3 660.5h0M359.7 652.5h0M364.2 662.3h0M360.2 661.0h0M352.7 648.3h0M363.0 655.5h0M354.9 655.7h0M364.1 659.5h0M350.9 655.4h0M371.1 652.3h0M362.7 648.3h0M364.3 658.0h0M363.0 664.2h0M361.8 645.9h0M365.2 656.6h0M355.5 649.4h0M353.8 661.7h0M366.3 654.4h0M351.8 652.4h0M356.7 653.7h0M364.4 657.4h0M370.6 657.2h0M361.9 652.3h0M361.3 650.3h0M366.1 655.4h0M370.1 658.0h0M353.9 663.1h0M352.9 663.3h0M364.7 644.1h0M354.4 649.2h0M367.4 652.4h0M362.5 656.5h0M354.5 650.1h0M357.1 654.5h0M349.3 650.6h0M359.7 663.5h0M351.5 647.2h0M350.3 659.2h0M358.8 664.1h0M357.4 660.9h0M368.6 648.9h0M350.8 660.4h0M357.9 665.2h0M370.7 655.4h0M351.0 654.0h0M363.6 651.4h0M363.4 663.6h0M367.3 647.6h0M357.5 658.4h0M354.8 648.3h0M352.1 662.1h0M366.6 648.0h0M351.6 651.9h0M365.9 649.8h0M368.4 650.5h0M368.3 658.1h0M354.1 656.7h0M361.8 654.2h0M369.8 659.9h0M349.9 656.9h0M352.2 647.4h0M360.5 654.4h0M357.0 645.7h0M356.5 654.3h0M365.8 655.5h0M366.0 662.1h0M357.3 658.2h0M366.8 655.3h0M368.4 661.6h0M367.0 661.0h0M352.0 656.2h0M371.0 655.3h0M360.4 654.2h0M354.4 649.8h0M365.1 652.5h0M354.0 662.1h0M360.3 654.7h0M368.7 650.7h0M355.4 644.6h0M352.7 659.5h0M362.8 661.9h0M370.6 658.5h0M367.7 661.1h0M354.8 660.9h0M362.4 658.6h0M358.2 645.8h0M360.0 648.7h0M354.2 653.1h0M362.8 661.7h0M358.9 661.2h0M367.9 646.3h0M367.6 661.2h0M368.7 648.8h0M350.9 660.6h0M356.4 650.6h0M357.4 657.8h0M361.4 665.4h0M359.6 656.5h0M363.7 650.9h0M363.1 645.6h0M349.7 656.5h0M354.6 660.9h0M368.7 649.7h0" stroke-width="0.80" opacity="0.75"/><path d="M351.1 654.5h0M355.4 664.8h0M348.6 654.4h0M365.5 650.8h0M355.9 663.7h0M348.8 652.7h0M351.1 656.9h0M359.3 665.3h0M367.0 654.5h0M358.0 663.6h0M360.2 652.5h0M361.2 661.5h0M368.4 647.1h0M352.4 658.2h0M355.2 650.8h0M367.3 657.4h0M363.7 651.8h0M364.8 646.3h0M354.2 657.3h0M368.0 660.0h0M356.9 645.2h0M356.7 657.6h0M351.7 651.1h0M352.5 650.0h0M368.4 647.1h0M350.3 649.2h0M367.6 662.1h0M364.0 651.4h0M366.1 658.6h0M353.7 660.0h0M368.3 653.2h0M368.3 655.5h0M367.5 651.6h0M366.3 662.6h0M362.7 653.5h0M364.4 662.9h0M355.9 658.3h0M354.2 646.3h0M360.6 658.4h0M371.3 655.2h0M351.5 651.7h0M357.5 656.3h0M364.9 654.6h0M351.2 658.5h0M369.4 653.5h0M364.3 658.8h0M358.7 661.4h0M356.9 652.5h0M360.4 643.5h0M351.1 648.4h0M355.7 662.1h0M355.4 650.8h0M356.7 661.4h0M360.8 663.8h0M358.2 643.6h0M349.9 652.3h0M363.3 646.2h0M351.7 649.2h0M349.3 657.0h0M369.7 650.4h0M367.7 657.5h0M369.6 648.7h0M367.1 658.4h0M368.0 661.3h0M363.7 656.4h0M351.8 657.0h0M358.6 655.9h0M354.7 664.1h0M352.5 655.8h0M364.9 645.6h0M349.8 650.0h0M365.5 661.3h0M357.7 664.3h0M359.4 658.8h0M364.7 657.2h0M365.1 652.4h0M359.7 665.6h0M366.4 648.9h0M352.6 661.2h0M370.2 657.0h0M362.5 645.3h0M359.7 663.7h0M355.6 648.3h0M353.9 648.5h0M353.5 654.4h0M359.3 659.2h0M365.7 662.2h0M362.2 664.0h0M355.3 659.5h0M358.4 660.4h0" stroke-width="0.56" opacity="0.75"/></g>
<clipPath id="pc132"><circle cx="384.9" cy="654.4" r="11.4"/></clipPath>
<circle cx="384.90" cy="654.40" r="11.40" fill="#e0dcf7" stroke="#c4bcf0" stroke-width="0.7"/>
<circle cx="384.90" cy="654.40" r="11.10" fill="url(#pg)" stroke="none" stroke-width="1"/>
<g clip-path="url(#pc132)" fill="none" stroke="#5a4adc" stroke-linecap="round"><path d="M379.0 658.0l1.2 1.2M381.4 663.7l1.4 1.0M395.5 656.1l-0.7 0.9M388.8 661.6l-0.3 0.6" stroke-width="1.35" opacity="0.56"/><path d="M386.1 644.0h0M390.1 645.1h0M378.8 648.7h0M386.7 645.6h0M386.9 647.6h0M395.3 651.5h0M388.3 664.0h0M376.4 651.8h0M387.9 645.5h0M379.7 645.1h0M386.6 656.8h0M383.4 661.1h0M386.5 656.1h0M374.4 655.6h0M386.2 646.8h0M391.0 648.1h0M382.4 653.0h0M382.0 660.8h0M390.9 657.8h0M382.2 652.5h0M383.5 664.3h0M377.5 659.8h0M387.8 658.7h0M387.3 644.8h0M391.9 660.1h0M386.3 644.6h0M384.7 644.2h0M378.2 660.3h0M384.2 662.8h0M384.9 643.9h0M384.2 645.0h0M393.2 661.4h0M376.9 661.4h0M392.8 658.2h0M373.7 654.9h0M385.6 646.3h0M384.2 646.7h0M389.3 652.9h0M394.8 649.8h0M382.4 663.8h0M389.3 645.9h0M392.3 650.4h0M373.9 656.3h0M375.9 654.1h0M386.5 651.2h0M384.5 663.6h0M380.7 663.8h0M374.0 653.0h0M379.7 654.9h0M383.0 651.2h0M383.6 647.7h0M383.4 658.7h0M375.4 655.7h0M383.5 644.0h0M375.7 656.9h0M383.4 654.0h0M376.1 657.7h0M388.4 656.3h0M394.3 652.2h0M382.7 659.6h0M392.5 649.3h0M375.9 656.8h0M386.8 652.9h0M386.9 657.7h0M386.8 652.4h0M395.2 658.1h0M385.4 656.1h0M394.5 653.6h0M377.3 661.5h0M386.5 653.4h0M376.5 648.2h0M394.1 649.8h0M381.8 644.9h0M374.0 653.1h0M389.2 660.8h0M394.3 657.8h0M387.0 646.2h0M373.9 652.9h0M377.6 659.5h0M385.3 651.4h0M383.9 661.2h0M380.5 649.1h0M390.3 655.0h0M377.3 651.4h0" stroke-width="0.98" opacity="0.7"/><path d="M396.1 653.8h0M391.2 662.7h0M386.1 655.0h0M388.1 644.5h0M386.6 643.5h0M392.2 659.3h0M386.8 656.8h0M387.3 650.4h0M376.0 650.7h0M393.1 651.4h0M385.6 654.3h0M387.7 663.5h0M374.2 656.5h0M378.6 645.3h0M384.5 665.5h0M379.7 659.3h0M386.5 649.8h0M385.8 652.4h0M386.6 647.1h0M389.8 658.4h0M391.0 650.3h0M382.2 654.4h0M384.2 650.8h0M392.4 657.7h0M378.4 655.2h0M382.9 649.8h0M395.6 653.4h0M379.6 650.3h0M393.4 653.8h0M386.5 648.1h0M391.1 659.2h0M380.3 651.9h0M382.2 657.8h0M384.8 653.3h0M378.2 653.1h0M386.1 655.3h0M390.4 649.4h0M378.3 648.2h0M395.3 653.1h0M373.7 653.4h0M387.7 643.4h0M391.8 647.8h0M381.0 649.6h0M379.1 652.7h0M382.9 646.2h0M377.1 651.2h0M381.6 656.4h0M378.1 649.6h0M383.3 662.1h0M388.2 661.2h0M381.7 655.6h0M386.8 663.1h0M378.1 647.6h0M374.1 652.4h0M375.0 658.6h0M386.2 656.4h0M381.8 648.6h0M391.8 661.2h0M395.0 650.6h0M388.4 660.5h0M382.6 662.9h0M387.5 665.5h0M377.1 654.1h0M380.4 659.4h0M385.8 660.1h0M396.1 652.8h0M391.9 649.8h0M382.2 660.4h0M384.3 645.9h0M391.6 647.0h0M375.1 649.1h0M380.1 658.3h0M388.7 646.9h0M376.3 657.1h0M387.0 647.2h0M378.9 661.4h0M395.5 655.8h0M374.8 654.5h0M378.6 645.3h0M376.4 646.9h0M386.8 655.9h0M382.8 661.1h0M389.8 645.2h0M382.7 646.6h0" stroke-width="0.75" opacity="0.7"/><path d="M382.4 660.0h0M381.1 645.6h0M388.7 657.9h0M385.9 657.3h0M385.4 662.9h0M374.2 652.6h0M382.9 652.1h0M395.2 654.1h0M392.0 655.1h0M388.5 657.2h0M387.7 659.4h0M384.2 646.9h0M394.9 654.5h0M392.7 652.6h0M382.6 646.5h0M384.3 644.8h0M377.9 649.8h0M395.8 654.7h0M379.4 649.1h0M385.3 663.8h0M389.2 644.9h0M380.0 654.0h0M377.6 660.8h0M392.9 656.9h0M389.9 660.4h0M378.7 647.7h0M392.8 646.7h0M383.3 648.6h0M384.8 658.3h0M381.9 663.8h0M382.0 649.6h0M385.7 649.3h0M391.7 660.3h0M390.4 663.7h0M391.0 648.9h0M390.0 655.1h0M383.2 657.2h0M382.7 646.8h0M388.9 644.7h0M394.3 655.4h0M378.9 645.7h0M375.0 651.6h0M386.1 660.6h0M374.2 657.1h0M374.6 656.2h0M390.0 651.7h0M384.7 665.1h0M389.0 657.5h0M388.5 663.6h0M378.2 661.5h0M380.0 659.8h0M379.4 644.4h0M385.4 663.0h0M392.4 658.0h0M389.2 662.1h0M389.9 647.3h0M380.7 659.2h0M377.3 650.8h0M395.2 654.4h0M376.2 659.0h0M391.9 659.6h0M383.8 658.1h0M382.1 645.7h0M379.1 663.7h0M379.6 655.0h0M378.6 649.2h0M378.0 661.0h0M383.9 658.6h0M386.0 653.4h0M395.9 653.3h0M386.7 664.9h0M385.6 657.2h0" stroke-width="0.52" opacity="0.7"/></g>
<text x="295.40" y="674.61" font-size="7.8" text-anchor="middle" textLength="15.20" lengthAdjust="spacingAndGlyphs">DOX</text>
<text x="310.80" y="674.32" font-size="7.0" text-anchor="middle">-</text>
<text x="335.50" y="674.32" font-size="7.0" text-anchor="middle">+</text>
<text x="359.30" y="674.32" font-size="7.0" text-anchor="middle">-</text>
<text x="384.40" y="674.32" font-size="7.0" text-anchor="middle">+</text>
<line x1="310.80" y1="677.40" x2="330.70" y2="677.40" stroke="#666" stroke-width="1.4"/>
<line x1="359.30" y1="677.40" x2="379.80" y2="677.40" stroke="#666" stroke-width="1.4"/>
<text x="321.65" y="686.61" font-size="7.8" text-anchor="middle" textLength="34.50" lengthAdjust="spacingAndGlyphs">C3-2RNF4</text>
<text x="370.20" y="686.61" font-size="7.8" text-anchor="middle" textLength="34.40" lengthAdjust="spacingAndGlyphs">E8-2RNF4</text>
<line x1="457.00" y1="565.20" x2="457.00" y2="658.80" stroke="#000" stroke-width="1.0"/>
<line x1="453.50" y1="658.40" x2="457.00" y2="658.40" stroke="#000" stroke-width="0.9"/>
<text x="452.30" y="661.03" font-size="7.3" text-anchor="end" font-weight="bold">0</text>
<line x1="453.50" y1="639.86" x2="457.00" y2="639.86" stroke="#000" stroke-width="0.9"/>
<text x="452.30" y="642.49" font-size="7.3" text-anchor="end" font-weight="bold">5</text>
<line x1="453.50" y1="621.32" x2="457.00" y2="621.32" stroke="#000" stroke-width="0.9"/>
<text x="452.30" y="623.95" font-size="7.3" text-anchor="end" font-weight="bold">10</text>
<line x1="453.50" y1="602.78" x2="457.00" y2="602.78" stroke="#000" stroke-width="0.9"/>
<text x="452.30" y="605.41" font-size="7.3" text-anchor="end" font-weight="bold">15</text>
<line x1="453.50" y1="584.24" x2="457.00" y2="584.24" stroke="#000" stroke-width="0.9"/>
<text x="452.30" y="586.87" font-size="7.3" text-anchor="end" font-weight="bold">20</text>
<line x1="453.50" y1="565.70" x2="457.00" y2="565.70" stroke="#000" stroke-width="0.9"/>
<text x="452.30" y="568.33" font-size="7.3" text-anchor="end" font-weight="bold">25</text>
<line x1="466.30" y1="658.40" x2="466.30" y2="660.80" stroke="#000" stroke-width="0.9"/>
<path d="M462.30,658.40 V650.24 H470.30 V658.40" fill="#fff" stroke="#000" stroke-width="1.9"/>
<line x1="466.30" y1="649.50" x2="466.30" y2="650.98" stroke="#000" stroke-width="0.8"/>
<line x1="464.10" y1="649.50" x2="468.50" y2="649.50" stroke="#000" stroke-width="0.8"/>
<circle cx="466.30" cy="650.98" r="1.55" fill="#000" stroke="none" stroke-width="1"/>
<circle cx="469.20" cy="649.50" r="1.55" fill="#000" stroke="none" stroke-width="1"/>
<circle cx="463.40" cy="649.87" r="1.55" fill="#000" stroke="none" stroke-width="1"/>
<line x1="480.30" y1="658.40" x2="480.30" y2="660.80" stroke="#000" stroke-width="0.9"/>
<path d="M476.30,658.40 V650.61 H484.30 V658.40" fill="#fff" stroke="#000" stroke-width="1.9"/>
<line x1="480.30" y1="650.24" x2="480.30" y2="650.98" stroke="#000" stroke-width="0.8"/>
<line x1="478.10" y1="650.24" x2="482.50" y2="650.24" stroke="#000" stroke-width="0.8"/>
<circle cx="480.30" cy="650.98" r="1.55" fill="#000" stroke="none" stroke-width="1"/>
<circle cx="484.50" cy="650.61" r="1.55" fill="#000" stroke="none" stroke-width="1"/>
<circle cx="476.10" cy="650.24" r="1.55" fill="#000" stroke="none" stroke-width="1"/>
<line x1="494.30" y1="658.40" x2="494.30" y2="660.80" stroke="#000" stroke-width="0.9"/>
<path d="M490.30,658.40 V646.16 H498.30 V658.40" fill="#fff" stroke="#b0262a" stroke-width="1.9"/>
<line x1="494.30" y1="645.79" x2="494.30" y2="646.53" stroke="#b0262a" stroke-width="0.8"/>
<line x1="492.10" y1="645.79" x2="496.50" y2="645.79" stroke="#b0262a" stroke-width="0.8"/>
<circle cx="494.30" cy="646.16" r="1.55" fill="#b0262a" stroke="none" stroke-width="1"/>
<circle cx="498.50" cy="646.16" r="1.55" fill="#b0262a" stroke="none" stroke-width="1"/>
<circle cx="490.10" cy="646.16" r="1.55" fill="#b0262a" stroke="none" stroke-width="1"/>
<line x1="508.20" y1="658.40" x2="508.20" y2="660.80" stroke="#000" stroke-width="0.9"/>
<path d="M504.20,658.40 V589.80 H512.20 V658.40" fill="#fff" stroke="#b0262a" stroke-width="1.9"/>
<line x1="508.20" y1="586.84" x2="508.20" y2="592.77" stroke="#b0262a" stroke-width="0.8"/>
<line x1="506.00" y1="586.84" x2="510.40" y2="586.84" stroke="#b0262a" stroke-width="0.8"/>
<circle cx="508.20" cy="583.50" r="1.55" fill="#b0262a" stroke="none" stroke-width="1"/>
<circle cx="508.20" cy="590.54" r="1.55" fill="#b0262a" stroke="none" stroke-width="1"/>
<circle cx="512.40" cy="590.17" r="1.55" fill="#b0262a" stroke="none" stroke-width="1"/>
<line x1="456.60" y1="658.40" x2="517.80" y2="658.40" stroke="#222" stroke-width="1.1"/>
<text x="490.30" y="554.34" font-size="7.6" text-anchor="middle" textLength="29.40" lengthAdjust="spacingAndGlyphs">OMM2.3</text>
<text x="434.80" y="611.95" font-size="8.2" text-anchor="middle" textLength="59.50" lengthAdjust="spacingAndGlyphs" transform="rotate(-90 434.80 609.00)">% of Annexin V</text>
<line x1="466.00" y1="641.60" x2="480.90" y2="641.60" stroke="#444" stroke-width="0.8"/>
<line x1="466.00" y1="640.10" x2="466.00" y2="643.10" stroke="#444" stroke-width="0.8"/>
<line x1="480.90" y1="640.10" x2="480.90" y2="643.10" stroke="#444" stroke-width="0.8"/>
<text x="473.00" y="639.58" font-size="8.0" text-anchor="middle" textLength="8.00" lengthAdjust="spacingAndGlyphs">ns</text>
<line x1="492.00" y1="574.40" x2="508.00" y2="574.40" stroke="#444" stroke-width="0.8"/>
<line x1="492.00" y1="572.90" x2="492.00" y2="575.90" stroke="#444" stroke-width="0.8"/>
<line x1="508.00" y1="572.90" x2="508.00" y2="575.90" stroke="#444" stroke-width="0.8"/>
<text x="499.70" y="569.38" font-size="8.0" text-anchor="middle" textLength="31.40" lengthAdjust="spacingAndGlyphs"><tspan font-style="italic">P</tspan>&lt;0.0001</text>
<text x="453.85" y="670.11" font-size="7.8" text-anchor="middle" textLength="15.70" lengthAdjust="spacingAndGlyphs">DOX</text>
<text x="466.00" y="669.82" font-size="7.0" text-anchor="middle">-</text>
<text x="480.40" y="669.82" font-size="7.0" text-anchor="middle">+</text>
<text x="494.40" y="669.82" font-size="7.0" text-anchor="middle">-</text>
<text x="508.40" y="669.82" font-size="7.0" text-anchor="middle">+</text>
<line x1="467.60" y1="673.10" x2="479.20" y2="673.10" stroke="#000" stroke-width="1.4"/>
<line x1="496.80" y1="673.10" x2="508.40" y2="673.10" stroke="#000" stroke-width="1.4"/>
<text x="474.45" y="682.11" font-size="7.8" text-anchor="middle" textLength="8.10" lengthAdjust="spacingAndGlyphs">C3</text>
<text x="503.30" y="682.11" font-size="7.8" text-anchor="middle" textLength="9.40" lengthAdjust="spacingAndGlyphs">E8</text>
<line x1="555.80" y1="564.70" x2="555.80" y2="657.90" stroke="#000" stroke-width="1.0"/>
<line x1="552.30" y1="657.50" x2="555.80" y2="657.50" stroke="#000" stroke-width="0.9"/>
<text x="551.10" y="660.13" font-size="7.3" text-anchor="end" font-weight="bold">0</text>
<line x1="552.30" y1="626.73" x2="555.80" y2="626.73" stroke="#000" stroke-width="0.9"/>
<text x="551.10" y="629.36" font-size="7.3" text-anchor="end" font-weight="bold">10</text>
<line x1="552.30" y1="595.97" x2="555.80" y2="595.97" stroke="#000" stroke-width="0.9"/>
<text x="551.10" y="598.59" font-size="7.3" text-anchor="end" font-weight="bold">20</text>
<line x1="552.30" y1="565.20" x2="555.80" y2="565.20" stroke="#000" stroke-width="0.9"/>
<text x="551.10" y="567.83" font-size="7.3" text-anchor="end" font-weight="bold">30</text>
<line x1="567.00" y1="657.50" x2="567.00" y2="659.90" stroke="#000" stroke-width="0.9"/>
<path d="M563.00,657.50 V643.35 H571.00 V657.50" fill="#fff" stroke="#000" stroke-width="1.9"/>
<line x1="567.00" y1="643.04" x2="567.00" y2="643.65" stroke="#000" stroke-width="0.8"/>
<line x1="564.80" y1="643.04" x2="569.20" y2="643.04" stroke="#000" stroke-width="0.8"/>
<circle cx="567.00" cy="643.04" r="1.55" fill="#000" stroke="none" stroke-width="1"/>
<circle cx="571.20" cy="643.04" r="1.55" fill="#000" stroke="none" stroke-width="1"/>
<circle cx="562.80" cy="643.04" r="1.55" fill="#000" stroke="none" stroke-width="1"/>
<line x1="581.00" y1="657.50" x2="581.00" y2="659.90" stroke="#000" stroke-width="0.9"/>
<path d="M577.00,657.50 V639.04 H585.00 V657.50" fill="#fff" stroke="#000" stroke-width="1.9"/>
<line x1="581.00" y1="636.58" x2="581.00" y2="641.50" stroke="#000" stroke-width="0.8"/>
<line x1="578.80" y1="636.58" x2="583.20" y2="636.58" stroke="#000" stroke-width="0.8"/>
<circle cx="581.00" cy="635.96" r="1.55" fill="#000" stroke="none" stroke-width="1"/>
<circle cx="585.20" cy="636.27" r="1.55" fill="#000" stroke="none" stroke-width="1"/>
<circle cx="581.00" cy="642.12" r="1.55" fill="#000" stroke="none" stroke-width="1"/>
<line x1="595.00" y1="657.50" x2="595.00" y2="659.90" stroke="#000" stroke-width="0.9"/>
<path d="M591.00,657.50 V635.96 H599.00 V657.50" fill="#fff" stroke="#b0262a" stroke-width="1.9"/>
<line x1="595.00" y1="635.66" x2="595.00" y2="636.27" stroke="#b0262a" stroke-width="0.8"/>
<line x1="592.80" y1="635.66" x2="597.20" y2="635.66" stroke="#b0262a" stroke-width="0.8"/>
<circle cx="595.00" cy="635.96" r="1.55" fill="#b0262a" stroke="none" stroke-width="1"/>
<circle cx="599.20" cy="635.66" r="1.55" fill="#b0262a" stroke="none" stroke-width="1"/>
<circle cx="590.80" cy="635.96" r="1.55" fill="#b0262a" stroke="none" stroke-width="1"/>
<line x1="609.10" y1="657.50" x2="609.10" y2="659.90" stroke="#000" stroke-width="0.9"/>
<path d="M605.10,657.50 V581.81 H613.10 V657.50" fill="#fff" stroke="#b0262a" stroke-width="1.9"/>
<line x1="609.10" y1="581.51" x2="609.10" y2="582.12" stroke="#b0262a" stroke-width="0.8"/>
<line x1="606.90" y1="581.51" x2="611.30" y2="581.51" stroke="#b0262a" stroke-width="0.8"/>
<circle cx="609.10" cy="581.51" r="1.55" fill="#b0262a" stroke="none" stroke-width="1"/>
<circle cx="613.30" cy="581.51" r="1.55" fill="#b0262a" stroke="none" stroke-width="1"/>
<circle cx="604.90" cy="581.51" r="1.55" fill="#b0262a" stroke="none" stroke-width="1"/>
<line x1="555.40" y1="657.50" x2="619.00" y2="657.50" stroke="#222" stroke-width="1.1"/>
<text x="587.75" y="554.34" font-size="7.6" text-anchor="middle" textLength="14.50" lengthAdjust="spacingAndGlyphs">92.1</text>
<text x="536.90" y="608.95" font-size="8.2" text-anchor="middle" textLength="61.00" lengthAdjust="spacingAndGlyphs" transform="rotate(-90 536.90 606.00)">% of Annexin V</text>
<line x1="566.60" y1="629.50" x2="581.50" y2="629.50" stroke="#444" stroke-width="0.8"/>
<line x1="566.60" y1="628.00" x2="566.60" y2="631.00" stroke="#444" stroke-width="0.8"/>
<line x1="581.50" y1="628.00" x2="581.50" y2="631.00" stroke="#444" stroke-width="0.8"/>
<text x="574.60" y="627.88" font-size="8.0" text-anchor="middle" textLength="8.20" lengthAdjust="spacingAndGlyphs">ns</text>
<line x1="592.70" y1="573.90" x2="608.60" y2="573.90" stroke="#444" stroke-width="0.8"/>
<line x1="592.70" y1="572.40" x2="592.70" y2="575.40" stroke="#444" stroke-width="0.8"/>
<line x1="608.60" y1="572.40" x2="608.60" y2="575.40" stroke="#444" stroke-width="0.8"/>
<text x="600.60" y="568.38" font-size="8.0" text-anchor="middle" textLength="32.00" lengthAdjust="spacingAndGlyphs"><tspan font-style="italic">P</tspan>&lt;0.0001</text>
<text x="554.55" y="669.61" font-size="7.8" text-anchor="middle" textLength="15.70" lengthAdjust="spacingAndGlyphs">DOX</text>
<text x="566.60" y="669.32" font-size="7.0" text-anchor="middle">-</text>
<text x="581.00" y="669.32" font-size="7.0" text-anchor="middle">+</text>
<text x="595.00" y="669.32" font-size="7.0" text-anchor="middle">-</text>
<text x="609.00" y="669.32" font-size="7.0" text-anchor="middle">+</text>
<line x1="568.20" y1="672.40" x2="580.00" y2="672.40" stroke="#000" stroke-width="1.4"/>
<line x1="597.40" y1="672.40" x2="609.00" y2="672.40" stroke="#000" stroke-width="1.4"/>
<text x="574.85" y="681.31" font-size="7.8" text-anchor="middle" textLength="8.70" lengthAdjust="spacingAndGlyphs">C3</text>
<text x="603.85" y="681.31" font-size="7.8" text-anchor="middle" textLength="9.10" lengthAdjust="spacingAndGlyphs">E8</text>
</svg></body></html>
